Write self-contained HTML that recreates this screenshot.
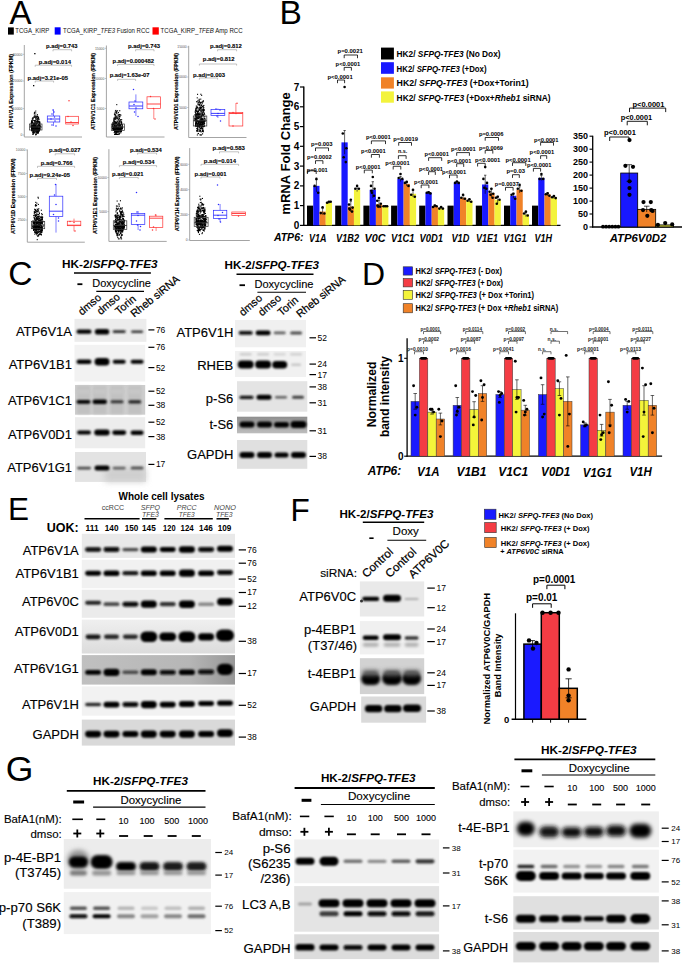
<!DOCTYPE html>
<html><head><meta charset="utf-8"><style>
html,body{margin:0;padding:0;background:#fff;}
body{width:685px;height:964px;overflow:hidden;}
svg{display:block;font-family:"Liberation Sans", sans-serif;}
</style></head><body>
<svg width="685" height="964" viewBox="0 0 685 964">
<defs><filter id="b3" x="-50%" y="-150%" width="200%" height="400%"><feGaussianBlur stdDeviation="0.3"/></filter><filter id="b4" x="-50%" y="-150%" width="200%" height="400%"><feGaussianBlur stdDeviation="0.4"/></filter><filter id="b5" x="-50%" y="-150%" width="200%" height="400%"><feGaussianBlur stdDeviation="0.5"/></filter><filter id="b6" x="-50%" y="-150%" width="200%" height="400%"><feGaussianBlur stdDeviation="0.6"/></filter><filter id="b7" x="-50%" y="-150%" width="200%" height="400%"><feGaussianBlur stdDeviation="0.7"/></filter><filter id="b8" x="-50%" y="-150%" width="200%" height="400%"><feGaussianBlur stdDeviation="0.8"/></filter><filter id="b9" x="-50%" y="-150%" width="200%" height="400%"><feGaussianBlur stdDeviation="0.9"/></filter><filter id="b10" x="-50%" y="-150%" width="200%" height="400%"><feGaussianBlur stdDeviation="1.0"/></filter><filter id="b11" x="-50%" y="-150%" width="200%" height="400%"><feGaussianBlur stdDeviation="1.1"/></filter><filter id="b12" x="-50%" y="-150%" width="200%" height="400%"><feGaussianBlur stdDeviation="1.2"/></filter><filter id="b13" x="-50%" y="-150%" width="200%" height="400%"><feGaussianBlur stdDeviation="1.3"/></filter><filter id="b14" x="-50%" y="-150%" width="200%" height="400%"><feGaussianBlur stdDeviation="1.4"/></filter><filter id="b15" x="-50%" y="-150%" width="200%" height="400%"><feGaussianBlur stdDeviation="1.5"/></filter><filter id="b16" x="-50%" y="-150%" width="200%" height="400%"><feGaussianBlur stdDeviation="1.6"/></filter><filter id="b17" x="-50%" y="-150%" width="200%" height="400%"><feGaussianBlur stdDeviation="1.7"/></filter><filter id="b18" x="-50%" y="-150%" width="200%" height="400%"><feGaussianBlur stdDeviation="1.8"/></filter><filter id="b19" x="-50%" y="-150%" width="200%" height="400%"><feGaussianBlur stdDeviation="1.9"/></filter><filter id="b20" x="-50%" y="-150%" width="200%" height="400%"><feGaussianBlur stdDeviation="2.0"/></filter><filter id="b21" x="-50%" y="-150%" width="200%" height="400%"><feGaussianBlur stdDeviation="2.1"/></filter><filter id="b22" x="-50%" y="-150%" width="200%" height="400%"><feGaussianBlur stdDeviation="2.2"/></filter><filter id="b23" x="-50%" y="-150%" width="200%" height="400%"><feGaussianBlur stdDeviation="2.3"/></filter><filter id="b24" x="-50%" y="-150%" width="200%" height="400%"><feGaussianBlur stdDeviation="2.4"/></filter><filter id="b25" x="-50%" y="-150%" width="200%" height="400%"><feGaussianBlur stdDeviation="2.5"/></filter><filter id="b26" x="-50%" y="-150%" width="200%" height="400%"><feGaussianBlur stdDeviation="2.6"/></filter><filter id="b27" x="-50%" y="-150%" width="200%" height="400%"><feGaussianBlur stdDeviation="2.7"/></filter><filter id="b28" x="-50%" y="-150%" width="200%" height="400%"><feGaussianBlur stdDeviation="2.8"/></filter><filter id="b29" x="-50%" y="-150%" width="200%" height="400%"><feGaussianBlur stdDeviation="2.9"/></filter><filter id="b30" x="-50%" y="-150%" width="200%" height="400%"><feGaussianBlur stdDeviation="3.0"/></filter><filter id="b31" x="-50%" y="-150%" width="200%" height="400%"><feGaussianBlur stdDeviation="3.1"/></filter><filter id="b32" x="-50%" y="-150%" width="200%" height="400%"><feGaussianBlur stdDeviation="3.2"/></filter><filter id="b33" x="-50%" y="-150%" width="200%" height="400%"><feGaussianBlur stdDeviation="3.3"/></filter><filter id="b34" x="-50%" y="-150%" width="200%" height="400%"><feGaussianBlur stdDeviation="3.4"/></filter><filter id="b35" x="-50%" y="-150%" width="200%" height="400%"><feGaussianBlur stdDeviation="3.5"/></filter><filter id="b36" x="-50%" y="-150%" width="200%" height="400%"><feGaussianBlur stdDeviation="3.6"/></filter><filter id="b37" x="-50%" y="-150%" width="200%" height="400%"><feGaussianBlur stdDeviation="3.7"/></filter><filter id="b38" x="-50%" y="-150%" width="200%" height="400%"><feGaussianBlur stdDeviation="3.8"/></filter><filter id="b39" x="-50%" y="-150%" width="200%" height="400%"><feGaussianBlur stdDeviation="3.9"/></filter></defs>
<rect width="685" height="964" fill="#fff"/>
<text x="9.5" y="23.7" font-size="33" fill="#000">A</text>
<text x="279.4" y="24.1" font-size="33.5" fill="#000">B</text>
<text x="8.2" y="285.0" font-size="33.5" fill="#000">C</text>
<text x="362.0" y="284.5" font-size="32" fill="#000">D</text>
<text x="8.0" y="519.8" font-size="31.5" fill="#000">E</text>
<text x="290.5" y="521.2" font-size="31.5" fill="#000">F</text>
<text x="5.8" y="781.2" font-size="35.5" fill="#000">G</text>
<rect x="8.00" y="27.40" width="5.80" height="7.20" fill="#000"/>
<text x="15.3" y="33.3" font-size="6.6" textLength="34.0" lengthAdjust="spacingAndGlyphs" fill="#111">TCGA_KIRP</text>
<rect x="54.70" y="27.30" width="5.90" height="7.30" fill="#0000ff"/>
<text x="63.1" y="33.3" font-size="6.6" textLength="86.5" lengthAdjust="spacingAndGlyphs" fill="#111">TCGA_KIRP_<tspan font-style="italic">TFE3</tspan> Fusion RCC</text>
<rect x="152.50" y="27.30" width="6.30" height="7.30" fill="#ff0000"/>
<text x="160.6" y="33.3" font-size="6.6" textLength="82.0" lengthAdjust="spacingAndGlyphs" fill="#111">TCGA_KIRP_<tspan font-style="italic">TFEB</tspan> Amp RCC</text>
<line x1="24.3" y1="45.0" x2="24.3" y2="137.0" stroke="#9a9a9a" stroke-width="0.9"/>
<line x1="24.3" y1="137.0" x2="82.0" y2="137.0" stroke="#9a9a9a" stroke-width="0.9"/>
<line x1="22.8" y1="54.3" x2="24.3" y2="54.3" stroke="#9a9a9a" stroke-width="0.6"/>
<text x="22.3" y="55.5" font-size="3.4" text-anchor="end" fill="#555">30000</text>
<line x1="22.8" y1="81.0" x2="24.3" y2="81.0" stroke="#9a9a9a" stroke-width="0.6"/>
<text x="22.3" y="82.2" font-size="3.4" text-anchor="end" fill="#555">20000</text>
<line x1="22.8" y1="108.6" x2="24.3" y2="108.6" stroke="#9a9a9a" stroke-width="0.6"/>
<text x="22.3" y="109.8" font-size="3.4" text-anchor="end" fill="#555">10000</text>
<line x1="22.8" y1="135.0" x2="24.3" y2="135.0" stroke="#9a9a9a" stroke-width="0.6"/>
<text x="22.3" y="136.2" font-size="3.4" text-anchor="end" fill="#555">0</text>
<text transform="translate(11.0,91.5) rotate(-90)" x="0" y="1.9" font-size="5.6" font-weight="bold" text-anchor="middle" textLength="75.0" lengthAdjust="spacingAndGlyphs" fill="#000" stroke="#000" stroke-width="0.12">ATP6V1A Expression (FPKM)</text>
<text x="46.0" y="48.1" font-size="6.2" font-weight="bold" textLength="31.5" lengthAdjust="spacingAndGlyphs" fill="#000" stroke="#000" stroke-width="0.1">p.adj=0.743</text>
<path d="M53.0,51.3 V49.7 H71.6 V51.3" stroke="#999" stroke-width="0.6" fill="none"/>
<text x="38.8" y="63.6" font-size="6.2" font-weight="bold" textLength="32.2" lengthAdjust="spacingAndGlyphs" fill="#000" stroke="#000" stroke-width="0.1">p.adj=0.014</text>
<path d="M35.2,66.8 V65.2 H71.6 V66.8" stroke="#999" stroke-width="0.6" fill="none"/>
<text x="27.6" y="79.9" font-size="6.2" font-weight="bold" textLength="40.4" lengthAdjust="spacingAndGlyphs" fill="#000" stroke="#000" stroke-width="0.1">p.adj=3.21e-05</text>
<path d="M35.2,82.6 V81.0 H53.6 V82.6" stroke="#999" stroke-width="0.6" fill="none"/>
<rect x="36.4" y="125.0" width="1.1" height="1.1" fill="#000"/>
<rect x="31.2" y="128.1" width="1.1" height="1.1" fill="#000"/>
<rect x="31.4" y="121.3" width="1.1" height="1.1" fill="#000"/>
<rect x="35.1" y="125.3" width="1.1" height="1.1" fill="#000"/>
<rect x="31.6" y="129.9" width="1.1" height="1.1" fill="#000"/>
<rect x="31.3" y="127.3" width="1.1" height="1.1" fill="#000"/>
<rect x="32.5" y="117.3" width="1.1" height="1.1" fill="#000"/>
<rect x="32.7" y="129.3" width="1.1" height="1.1" fill="#000"/>
<rect x="35.6" y="117.1" width="1.1" height="1.1" fill="#000"/>
<rect x="34.4" y="116.9" width="1.1" height="1.1" fill="#000"/>
<rect x="38.3" y="127.5" width="1.1" height="1.1" fill="#000"/>
<rect x="33.1" y="126.2" width="1.1" height="1.1" fill="#000"/>
<rect x="33.3" y="127.5" width="1.1" height="1.1" fill="#000"/>
<rect x="37.9" y="127.8" width="1.1" height="1.1" fill="#000"/>
<rect x="36.3" y="128.3" width="1.1" height="1.1" fill="#000"/>
<rect x="34.1" y="130.4" width="1.1" height="1.1" fill="#000"/>
<rect x="31.1" y="124.6" width="1.1" height="1.1" fill="#000"/>
<rect x="32.3" y="125.9" width="1.1" height="1.1" fill="#000"/>
<rect x="33.4" y="124.0" width="1.1" height="1.1" fill="#000"/>
<rect x="35.8" y="121.2" width="1.1" height="1.1" fill="#000"/>
<rect x="37.5" y="122.0" width="1.1" height="1.1" fill="#000"/>
<rect x="36.9" y="127.3" width="1.1" height="1.1" fill="#000"/>
<rect x="35.3" y="126.6" width="1.1" height="1.1" fill="#000"/>
<rect x="37.9" y="130.8" width="1.1" height="1.1" fill="#000"/>
<rect x="39.5" y="125.9" width="1.1" height="1.1" fill="#000"/>
<rect x="31.8" y="122.0" width="1.1" height="1.1" fill="#000"/>
<rect x="32.6" y="118.4" width="1.1" height="1.1" fill="#000"/>
<rect x="35.0" y="129.2" width="1.1" height="1.1" fill="#000"/>
<rect x="37.0" y="131.2" width="1.1" height="1.1" fill="#000"/>
<rect x="35.7" y="127.6" width="1.1" height="1.1" fill="#000"/>
<rect x="36.8" y="128.5" width="1.1" height="1.1" fill="#000"/>
<rect x="35.9" y="123.1" width="1.1" height="1.1" fill="#000"/>
<rect x="37.8" y="121.1" width="1.1" height="1.1" fill="#000"/>
<rect x="39.0" y="123.5" width="1.1" height="1.1" fill="#000"/>
<rect x="31.9" y="118.4" width="1.1" height="1.1" fill="#000"/>
<rect x="36.9" y="127.2" width="1.1" height="1.1" fill="#000"/>
<rect x="37.0" y="116.0" width="1.1" height="1.1" fill="#000"/>
<rect x="34.0" y="112.6" width="1.1" height="1.1" fill="#000"/>
<rect x="31.3" y="120.3" width="1.1" height="1.1" fill="#000"/>
<rect x="34.7" y="129.7" width="1.1" height="1.1" fill="#000"/>
<rect x="31.0" y="127.3" width="1.1" height="1.1" fill="#000"/>
<rect x="37.5" y="127.9" width="1.1" height="1.1" fill="#000"/>
<rect x="34.1" y="128.2" width="1.1" height="1.1" fill="#000"/>
<rect x="38.3" y="128.3" width="1.1" height="1.1" fill="#000"/>
<rect x="35.5" y="129.6" width="1.1" height="1.1" fill="#000"/>
<rect x="38.5" y="128.2" width="1.1" height="1.1" fill="#000"/>
<rect x="33.2" y="129.2" width="1.1" height="1.1" fill="#000"/>
<rect x="34.5" y="116.5" width="1.1" height="1.1" fill="#000"/>
<rect x="38.5" y="119.2" width="1.1" height="1.1" fill="#000"/>
<rect x="32.7" y="131.8" width="1.1" height="1.1" fill="#000"/>
<rect x="32.6" y="127.5" width="1.1" height="1.1" fill="#000"/>
<rect x="34.9" y="128.6" width="1.1" height="1.1" fill="#000"/>
<rect x="30.7" y="122.8" width="1.1" height="1.1" fill="#000"/>
<rect x="34.3" y="124.2" width="1.1" height="1.1" fill="#000"/>
<rect x="38.8" y="121.6" width="1.1" height="1.1" fill="#000"/>
<rect x="36.6" y="129.6" width="1.1" height="1.1" fill="#000"/>
<rect x="36.3" y="118.9" width="1.1" height="1.1" fill="#000"/>
<rect x="31.0" y="125.7" width="1.1" height="1.1" fill="#000"/>
<rect x="37.8" y="131.1" width="1.1" height="1.1" fill="#000"/>
<rect x="37.5" y="120.8" width="1.1" height="1.1" fill="#000"/>
<rect x="31.7" y="122.1" width="1.1" height="1.1" fill="#000"/>
<rect x="36.2" y="128.5" width="1.1" height="1.1" fill="#000"/>
<rect x="32.4" y="127.6" width="1.1" height="1.1" fill="#000"/>
<rect x="32.0" y="126.9" width="1.1" height="1.1" fill="#000"/>
<rect x="30.5" y="125.5" width="1.1" height="1.1" fill="#000"/>
<rect x="31.9" y="127.4" width="1.1" height="1.1" fill="#000"/>
<rect x="31.0" y="129.0" width="1.1" height="1.1" fill="#000"/>
<rect x="38.4" y="128.3" width="1.1" height="1.1" fill="#000"/>
<rect x="32.8" y="124.1" width="1.1" height="1.1" fill="#000"/>
<rect x="33.7" y="124.4" width="1.1" height="1.1" fill="#000"/>
<rect x="38.2" y="124.6" width="1.1" height="1.1" fill="#000"/>
<rect x="39.5" y="127.7" width="1.1" height="1.1" fill="#000"/>
<rect x="31.8" y="120.3" width="1.1" height="1.1" fill="#000"/>
<rect x="31.4" y="127.3" width="1.1" height="1.1" fill="#000"/>
<rect x="38.0" y="124.1" width="1.1" height="1.1" fill="#000"/>
<rect x="32.1" y="128.6" width="1.1" height="1.1" fill="#000"/>
<rect x="35.2" y="133.9" width="1.1" height="1.1" fill="#000"/>
<rect x="31.9" y="127.6" width="1.1" height="1.1" fill="#000"/>
<rect x="35.3" y="125.2" width="1.1" height="1.1" fill="#000"/>
<rect x="39.5" y="126.1" width="1.1" height="1.1" fill="#000"/>
<rect x="33.1" y="129.8" width="1.1" height="1.1" fill="#000"/>
<rect x="34.0" y="120.0" width="1.1" height="1.1" fill="#000"/>
<rect x="35.3" y="129.3" width="1.1" height="1.1" fill="#000"/>
<rect x="37.0" y="131.4" width="1.1" height="1.1" fill="#000"/>
<rect x="37.9" y="124.6" width="1.1" height="1.1" fill="#000"/>
<rect x="39.3" y="128.5" width="1.1" height="1.1" fill="#000"/>
<rect x="37.6" y="130.0" width="1.1" height="1.1" fill="#000"/>
<rect x="36.8" y="118.5" width="1.1" height="1.1" fill="#000"/>
<rect x="33.7" y="127.0" width="1.1" height="1.1" fill="#000"/>
<rect x="31.4" y="130.4" width="1.1" height="1.1" fill="#000"/>
<rect x="33.0" y="129.1" width="1.1" height="1.1" fill="#000"/>
<rect x="36.8" y="126.9" width="1.1" height="1.1" fill="#000"/>
<rect x="38.6" y="129.9" width="1.1" height="1.1" fill="#000"/>
<rect x="39.5" y="124.8" width="1.1" height="1.1" fill="#000"/>
<rect x="32.7" y="129.5" width="1.1" height="1.1" fill="#000"/>
<rect x="32.6" y="125.0" width="1.1" height="1.1" fill="#000"/>
<rect x="36.2" y="127.2" width="1.1" height="1.1" fill="#000"/>
<rect x="38.5" y="128.6" width="1.1" height="1.1" fill="#000"/>
<rect x="36.4" y="128.5" width="1.1" height="1.1" fill="#000"/>
<rect x="37.5" y="121.2" width="1.1" height="1.1" fill="#000"/>
<rect x="38.2" y="130.6" width="1.1" height="1.1" fill="#000"/>
<rect x="37.5" y="128.9" width="1.1" height="1.1" fill="#000"/>
<rect x="32.1" y="126.5" width="1.1" height="1.1" fill="#000"/>
<rect x="37.3" y="120.2" width="1.1" height="1.1" fill="#000"/>
<rect x="39.0" y="121.6" width="1.1" height="1.1" fill="#000"/>
<rect x="34.3" y="131.6" width="1.1" height="1.1" fill="#000"/>
<rect x="36.4" y="115.6" width="1.1" height="1.1" fill="#000"/>
<rect x="32.6" y="131.1" width="1.1" height="1.1" fill="#000"/>
<rect x="38.7" y="127.8" width="1.1" height="1.1" fill="#000"/>
<rect x="37.8" y="127.8" width="1.1" height="1.1" fill="#000"/>
<rect x="38.8" y="130.2" width="1.1" height="1.1" fill="#000"/>
<rect x="36.2" y="131.4" width="1.1" height="1.1" fill="#000"/>
<rect x="31.9" y="122.4" width="1.1" height="1.1" fill="#000"/>
<rect x="31.1" y="129.8" width="1.1" height="1.1" fill="#000"/>
<rect x="35.2" y="131.1" width="1.1" height="1.1" fill="#000"/>
<rect x="39.0" y="125.0" width="1.1" height="1.1" fill="#000"/>
<rect x="37.1" y="116.3" width="1.1" height="1.1" fill="#000"/>
<rect x="32.6" y="129.2" width="1.1" height="1.1" fill="#000"/>
<rect x="32.7" y="126.4" width="1.1" height="1.1" fill="#000"/>
<rect x="35.8" y="129.2" width="1.1" height="1.1" fill="#000"/>
<rect x="31.7" y="126.1" width="1.1" height="1.1" fill="#000"/>
<rect x="38.4" y="129.9" width="1.1" height="1.1" fill="#000"/>
<rect x="35.8" y="122.8" width="1.1" height="1.1" fill="#000"/>
<rect x="38.4" y="129.4" width="1.1" height="1.1" fill="#000"/>
<rect x="35.1" y="115.7" width="1.1" height="1.1" fill="#000"/>
<rect x="35.3" y="130.0" width="1.1" height="1.1" fill="#000"/>
<rect x="34.5" y="125.4" width="1.1" height="1.1" fill="#000"/>
<rect x="32.1" y="126.3" width="1.1" height="1.1" fill="#000"/>
<rect x="32.9" y="132.4" width="1.1" height="1.1" fill="#000"/>
<rect x="34.8" y="126.6" width="1.1" height="1.1" fill="#000"/>
<rect x="33.5" y="125.4" width="1.1" height="1.1" fill="#000"/>
<rect x="35.2" y="119.5" width="1.1" height="1.1" fill="#000"/>
<rect x="32.4" y="117.4" width="1.1" height="1.1" fill="#000"/>
<rect x="35.6" y="123.2" width="1.1" height="1.1" fill="#000"/>
<rect x="37.6" y="126.5" width="1.1" height="1.1" fill="#000"/>
<rect x="35.1" y="129.1" width="1.1" height="1.1" fill="#000"/>
<rect x="37.9" y="117.8" width="1.1" height="1.1" fill="#000"/>
<rect x="34.6" y="122.9" width="1.1" height="1.1" fill="#000"/>
<rect x="35.2" y="121.5" width="1.1" height="1.1" fill="#000"/>
<rect x="36.7" y="122.2" width="1.1" height="1.1" fill="#000"/>
<rect x="34.9" y="120.0" width="1.1" height="1.1" fill="#000"/>
<rect x="39.0" y="127.7" width="1.1" height="1.1" fill="#000"/>
<rect x="38.9" y="122.9" width="1.1" height="1.1" fill="#000"/>
<rect x="33.6" y="115.8" width="1.1" height="1.1" fill="#000"/>
<rect x="36.9" y="114.2" width="1.1" height="1.1" fill="#000"/>
<rect x="32.0" y="121.6" width="1.1" height="1.1" fill="#000"/>
<rect x="31.4" y="129.0" width="1.1" height="1.1" fill="#000"/>
<rect x="32.8" y="128.9" width="1.1" height="1.1" fill="#000"/>
<rect x="37.2" y="130.9" width="1.1" height="1.1" fill="#000"/>
<rect x="38.5" y="128.6" width="1.1" height="1.1" fill="#000"/>
<rect x="36.4" y="129.4" width="1.1" height="1.1" fill="#000"/>
<rect x="32.4" y="130.8" width="1.1" height="1.1" fill="#000"/>
<rect x="33.3" y="132.9" width="1.1" height="1.1" fill="#000"/>
<rect x="38.0" y="116.8" width="1.1" height="1.1" fill="#000"/>
<rect x="39.1" y="121.3" width="1.1" height="1.1" fill="#000"/>
<rect x="37.9" y="128.7" width="1.1" height="1.1" fill="#000"/>
<rect x="35.2" y="128.3" width="1.1" height="1.1" fill="#000"/>
<rect x="33.7" y="129.4" width="1.1" height="1.1" fill="#000"/>
<rect x="37.1" y="127.4" width="1.1" height="1.1" fill="#000"/>
<rect x="31.0" y="129.2" width="1.1" height="1.1" fill="#000"/>
<rect x="31.1" y="120.9" width="1.1" height="1.1" fill="#000"/>
<rect x="33.5" y="124.5" width="1.1" height="1.1" fill="#000"/>
<rect x="31.4" y="121.8" width="1.1" height="1.1" fill="#000"/>
<rect x="39.1" y="121.8" width="1.1" height="1.1" fill="#000"/>
<rect x="31.6" y="128.6" width="1.1" height="1.1" fill="#000"/>
<rect x="33.9" y="112.2" width="1.1" height="1.1" fill="#000"/>
<rect x="33.5" y="132.0" width="1.1" height="1.1" fill="#000"/>
<rect x="31.7" y="127.9" width="1.1" height="1.1" fill="#000"/>
<rect x="37.0" y="115.8" width="1.1" height="1.1" fill="#000"/>
<rect x="33.1" y="129.9" width="1.1" height="1.1" fill="#000"/>
<rect x="35.6" y="130.8" width="1.1" height="1.1" fill="#000"/>
<rect x="36.3" y="132.4" width="1.1" height="1.1" fill="#000"/>
<rect x="36.8" y="127.4" width="1.1" height="1.1" fill="#000"/>
<rect x="34.4" y="127.1" width="1.1" height="1.1" fill="#000"/>
<rect x="35.8" y="133.4" width="1.1" height="1.1" fill="#000"/>
<rect x="37.5" y="129.9" width="1.1" height="1.1" fill="#000"/>
<rect x="32.2" y="132.1" width="1.1" height="1.1" fill="#000"/>
<rect x="38.0" y="129.7" width="1.1" height="1.1" fill="#000"/>
<rect x="35.5" y="121.7" width="1.1" height="1.1" fill="#000"/>
<rect x="38.9" y="127.3" width="1.1" height="1.1" fill="#000"/>
<rect x="35.3" y="126.1" width="1.1" height="1.1" fill="#000"/>
<rect x="32.7" y="128.2" width="1.1" height="1.1" fill="#000"/>
<rect x="31.0" y="128.0" width="1.1" height="1.1" fill="#000"/>
<rect x="32.4" y="127.7" width="1.1" height="1.1" fill="#000"/>
<rect x="37.4" y="124.7" width="1.1" height="1.1" fill="#000"/>
<rect x="33.3" y="129.1" width="1.1" height="1.1" fill="#000"/>
<rect x="33.7" y="123.0" width="1.1" height="1.1" fill="#000"/>
<rect x="30.6" y="126.4" width="1.1" height="1.1" fill="#000"/>
<rect x="37.2" y="126.4" width="1.1" height="1.1" fill="#000"/>
<rect x="35.5" y="127.0" width="1.1" height="1.1" fill="#000"/>
<rect x="39.0" y="127.8" width="1.1" height="1.1" fill="#000"/>
<rect x="31.9" y="129.9" width="1.1" height="1.1" fill="#000"/>
<rect x="35.0" y="127.9" width="1.1" height="1.1" fill="#000"/>
<rect x="37.8" y="121.1" width="1.1" height="1.1" fill="#000"/>
<rect x="36.6" y="121.3" width="1.1" height="1.1" fill="#000"/>
<rect x="39.2" y="128.9" width="1.1" height="1.1" fill="#000"/>
<rect x="36.7" y="120.7" width="1.1" height="1.1" fill="#000"/>
<rect x="36.0" y="131.7" width="1.1" height="1.1" fill="#000"/>
<rect x="31.2" y="122.3" width="1.1" height="1.1" fill="#000"/>
<rect x="31.8" y="128.2" width="1.1" height="1.1" fill="#000"/>
<rect x="33.3" y="131.3" width="1.1" height="1.1" fill="#000"/>
<rect x="32.1" y="128.8" width="1.1" height="1.1" fill="#000"/>
<rect x="37.5" y="131.9" width="1.1" height="1.1" fill="#000"/>
<rect x="36.4" y="129.7" width="1.1" height="1.1" fill="#000"/>
<rect x="33.2" y="125.6" width="1.1" height="1.1" fill="#000"/>
<rect x="34.7" y="128.9" width="1.1" height="1.1" fill="#000"/>
<rect x="33.0" y="128.4" width="1.1" height="1.1" fill="#000"/>
<rect x="38.9" y="129.4" width="1.1" height="1.1" fill="#000"/>
<rect x="33.1" y="130.5" width="1.1" height="1.1" fill="#000"/>
<rect x="39.3" y="125.3" width="1.1" height="1.1" fill="#000"/>
<rect x="30.5" y="124.6" width="1.1" height="1.1" fill="#000"/>
<rect x="34.1" y="129.3" width="1.1" height="1.1" fill="#000"/>
<rect x="32.7" y="120.0" width="1.1" height="1.1" fill="#000"/>
<rect x="35.1" y="127.1" width="1.1" height="1.1" fill="#000"/>
<rect x="31.6" y="129.0" width="1.1" height="1.1" fill="#000"/>
<rect x="34.1" y="126.5" width="1.1" height="1.1" fill="#000"/>
<rect x="33.3" y="127.1" width="1.1" height="1.1" fill="#000"/>
<rect x="32.6" y="126.6" width="1.1" height="1.1" fill="#000"/>
<rect x="37.1" y="120.7" width="1.1" height="1.1" fill="#000"/>
<rect x="36.4" y="123.0" width="1.1" height="1.1" fill="#000"/>
<rect x="34.1" y="124.1" width="1.1" height="1.1" fill="#000"/>
<rect x="34.0" y="115.4" width="1.1" height="1.1" fill="#000"/>
<rect x="37.0" y="128.3" width="1.1" height="1.1" fill="#000"/>
<rect x="36.4" y="126.2" width="1.1" height="1.1" fill="#000"/>
<rect x="37.5" y="132.5" width="1.1" height="1.1" fill="#000"/>
<rect x="36.2" y="128.2" width="1.1" height="1.1" fill="#000"/>
<rect x="31.7" y="125.4" width="1.1" height="1.1" fill="#000"/>
<rect x="35.2" y="116.4" width="1.1" height="1.1" fill="#000"/>
<rect x="36.9" y="116.0" width="1.1" height="1.1" fill="#000"/>
<rect x="38.1" y="126.2" width="1.1" height="1.1" fill="#000"/>
<rect x="36.2" y="116.4" width="1.1" height="1.1" fill="#000"/>
<rect x="36.6" y="120.6" width="1.1" height="1.1" fill="#000"/>
<rect x="31.7" y="126.6" width="1.1" height="1.1" fill="#000"/>
<rect x="33.8" y="127.3" width="1.1" height="1.1" fill="#000"/>
<rect x="35.5" y="131.4" width="1.1" height="1.1" fill="#000"/>
<rect x="36.0" y="130.3" width="1.1" height="1.1" fill="#000"/>
<rect x="35.0" y="120.6" width="1.1" height="1.1" fill="#000"/>
<rect x="31.1" y="120.5" width="1.1" height="1.1" fill="#000"/>
<rect x="35.1" y="128.1" width="1.1" height="1.1" fill="#000"/>
<rect x="35.3" y="117.7" width="1.1" height="1.1" fill="#000"/>
<rect x="37.2" y="125.4" width="1.1" height="1.1" fill="#000"/>
<rect x="32.8" y="124.7" width="1.1" height="1.1" fill="#000"/>
<rect x="37.0" y="128.8" width="1.1" height="1.1" fill="#000"/>
<rect x="32.4" y="127.6" width="1.1" height="1.1" fill="#000"/>
<rect x="35.0" y="125.5" width="1.1" height="1.1" fill="#000"/>
<rect x="34.5" y="111.5" width="1.1" height="1.1" fill="#000"/>
<rect x="36.9" y="118.2" width="1.1" height="1.1" fill="#000"/>
<rect x="36.1" y="127.1" width="1.1" height="1.1" fill="#000"/>
<rect x="31.8" y="125.1" width="1.1" height="1.1" fill="#000"/>
<rect x="32.8" y="124.7" width="1.1" height="1.1" fill="#000"/>
<rect x="35.7" y="126.3" width="1.1" height="1.1" fill="#000"/>
<rect x="30.9" y="121.8" width="1.1" height="1.1" fill="#000"/>
<rect x="36.5" y="128.9" width="1.1" height="1.1" fill="#000"/>
<rect x="36.8" y="127.4" width="1.1" height="1.1" fill="#000"/>
<rect x="35.2" y="124.4" width="1.1" height="1.1" fill="#000"/>
<rect x="34.7" y="122.4" width="1.1" height="1.1" fill="#000"/>
<rect x="38.6" y="123.7" width="1.1" height="1.1" fill="#000"/>
<rect x="32.3" y="126.8" width="1.1" height="1.1" fill="#000"/>
<rect x="32.5" y="133.9" width="1.1" height="1.1" fill="#000"/>
<rect x="34.7" y="124.7" width="1.1" height="1.1" fill="#000"/>
<rect x="34.7" y="130.1" width="1.1" height="1.1" fill="#000"/>
<rect x="33.8" y="113.4" width="1.1" height="1.1" fill="#000"/>
<rect x="32.5" y="128.4" width="1.1" height="1.1" fill="#000"/>
<rect x="35.5" y="133.9" width="1.1" height="1.1" fill="#000"/>
<rect x="38.9" y="129.0" width="1.1" height="1.1" fill="#000"/>
<rect x="32.0" y="129.6" width="1.1" height="1.1" fill="#000"/>
<rect x="38.5" y="128.1" width="1.1" height="1.1" fill="#000"/>
<rect x="36.7" y="120.5" width="1.1" height="1.1" fill="#000"/>
<rect x="34.9" y="127.3" width="1.1" height="1.1" fill="#000"/>
<rect x="32.3" y="133.4" width="1.1" height="1.1" fill="#000"/>
<rect x="34.7" y="130.3" width="1.1" height="1.1" fill="#000"/>
<rect x="33.2" y="126.5" width="1.1" height="1.1" fill="#000"/>
<rect x="33.4" y="128.4" width="1.1" height="1.1" fill="#000"/>
<rect x="38.0" y="128.8" width="1.1" height="1.1" fill="#000"/>
<rect x="37.3" y="132.0" width="1.1" height="1.1" fill="#000"/>
<rect x="31.6" y="126.5" width="1.1" height="1.1" fill="#000"/>
<rect x="38.0" y="131.1" width="1.1" height="1.1" fill="#000"/>
<rect x="33.2" y="122.6" width="1.1" height="1.1" fill="#000"/>
<rect x="39.4" y="122.6" width="1.1" height="1.1" fill="#000"/>
<rect x="35.8" y="128.8" width="1.1" height="1.1" fill="#000"/>
<rect x="33.1" y="122.7" width="1.1" height="1.1" fill="#000"/>
<rect x="31.2" y="129.1" width="1.1" height="1.1" fill="#000"/>
<rect x="33.5" y="131.5" width="1.1" height="1.1" fill="#000"/>
<rect x="38.5" y="130.2" width="1.1" height="1.1" fill="#000"/>
<rect x="35.2" y="126.5" width="1.1" height="1.1" fill="#000"/>
<rect x="32.4" y="129.0" width="1.1" height="1.1" fill="#000"/>
<rect x="37.6" y="116.8" width="1.1" height="1.1" fill="#000"/>
<rect x="37.1" y="132.3" width="1.1" height="1.1" fill="#000"/>
<rect x="38.2" y="118.2" width="1.1" height="1.1" fill="#000"/>
<rect x="35.4" y="117.5" width="1.1" height="1.1" fill="#000"/>
<rect x="37.2" y="126.1" width="1.1" height="1.1" fill="#000"/>
<rect x="34.6" y="124.7" width="1.1" height="1.1" fill="#000"/>
<rect x="33.1" y="126.5" width="1.1" height="1.1" fill="#000"/>
<rect x="31.8" y="118.5" width="1.1" height="1.1" fill="#000"/>
<rect x="34.8" y="128.0" width="1.1" height="1.1" fill="#000"/>
<rect x="33.6" y="125.2" width="1.1" height="1.1" fill="#000"/>
<rect x="39.3" y="123.8" width="1.1" height="1.1" fill="#000"/>
<rect x="33.4" y="131.6" width="1.1" height="1.1" fill="#000"/>
<rect x="35.6" y="123.9" width="1.1" height="1.1" fill="#000"/>
<rect x="34.1" y="122.6" width="1.1" height="1.1" fill="#000"/>
<rect x="32.4" y="127.4" width="1.1" height="1.1" fill="#000"/>
<rect x="38.7" y="128.2" width="1.1" height="1.1" fill="#000"/>
<rect x="38.6" y="122.6" width="1.1" height="1.1" fill="#000"/>
<rect x="39.6" y="126.5" width="1.1" height="1.1" fill="#000"/>
<rect x="32.3" y="123.6" width="1.1" height="1.1" fill="#000"/>
<rect x="31.3" y="127.0" width="1.1" height="1.1" fill="#000"/>
<rect x="32.7" y="125.1" width="1.1" height="1.1" fill="#000"/>
<rect x="32.9" y="127.7" width="1.1" height="1.1" fill="#000"/>
<rect x="36.6" y="116.0" width="1.1" height="1.1" fill="#000"/>
<rect x="34.3" y="121.6" width="1.1" height="1.1" fill="#000"/>
<rect x="34.1" y="120.7" width="1.1" height="1.1" fill="#000"/>
<rect x="33.6" y="128.5" width="1.1" height="1.1" fill="#000"/>
<rect x="39.1" y="128.9" width="1.1" height="1.1" fill="#000"/>
<rect x="31.6" y="127.5" width="1.1" height="1.1" fill="#000"/>
<rect x="37.7" y="118.7" width="1.1" height="1.1" fill="#000"/>
<rect x="32.4" y="126.3" width="1.1" height="1.1" fill="#000"/>
<rect x="34.1" y="125.9" width="1.1" height="1.1" fill="#000"/>
<rect x="34.6" y="128.9" width="1.1" height="1.1" fill="#000"/>
<rect x="37.4" y="132.6" width="1.1" height="1.1" fill="#000"/>
<rect x="30.8" y="123.4" width="1.1" height="1.1" fill="#000"/>
<rect x="37.8" y="131.5" width="1.1" height="1.1" fill="#000"/>
<rect x="34.8" y="127.5" width="1.1" height="1.1" fill="#000"/>
<rect x="34.1" y="126.4" width="1.1" height="1.1" fill="#000"/>
<rect x="39.0" y="126.4" width="1.1" height="1.1" fill="#000"/>
<rect x="39.0" y="129.4" width="1.1" height="1.1" fill="#000"/>
<rect x="33.4" y="116.8" width="1.1" height="1.1" fill="#000"/>
<rect x="35.3" y="127.9" width="1.1" height="1.1" fill="#000"/>
<rect x="36.7" y="127.7" width="1.1" height="1.1" fill="#000"/>
<rect x="36.1" y="131.4" width="1.1" height="1.1" fill="#000"/>
<rect x="37.4" y="123.3" width="1.1" height="1.1" fill="#000"/>
<line x1="35.8" y1="110.0" x2="35.8" y2="124.0" stroke="#333" stroke-width="0.6"/>
<line x1="35.8" y1="130.0" x2="35.8" y2="136.0" stroke="#333" stroke-width="0.6"/>
<rect x="29.60" y="124.00" width="12.40" height="6.00" fill="none" stroke="#333" stroke-width="0.7"/>
<line x1="29.6" y1="127.0" x2="42.0" y2="127.0" stroke="#333" stroke-width="0.9"/>
<line x1="53.5" y1="109.5" x2="53.5" y2="116.0" stroke="#2a2aff" stroke-width="0.6"/>
<line x1="53.5" y1="122.0" x2="53.5" y2="126.0" stroke="#2a2aff" stroke-width="0.6"/>
<rect x="47.30" y="116.00" width="12.50" height="6.00" fill="none" stroke="#2a2aff" stroke-width="0.7"/>
<line x1="47.3" y1="119.0" x2="59.8" y2="119.0" stroke="#2a2aff" stroke-width="0.9"/>
<circle cx="53.0" cy="110.0" r="0.75" fill="#2a2aff"/>
<circle cx="54.0" cy="112.0" r="0.75" fill="#2a2aff"/>
<circle cx="52.0" cy="114.0" r="0.75" fill="#2a2aff"/>
<circle cx="54.5" cy="117.0" r="0.75" fill="#2a2aff"/>
<circle cx="51.0" cy="119.0" r="0.75" fill="#2a2aff"/>
<circle cx="55.0" cy="121.0" r="0.75" fill="#2a2aff"/>
<circle cx="52.0" cy="125.0" r="0.75" fill="#2a2aff"/>
<circle cx="56.0" cy="126.0" r="0.75" fill="#2a2aff"/>
<rect x="65.70" y="116.30" width="12.90" height="7.70" fill="none" stroke="#ff3030" stroke-width="0.7"/>
<line x1="65.7" y1="122.5" x2="78.6" y2="122.5" stroke="#ff3030" stroke-width="0.9"/>
<circle cx="69.0" cy="100.7" r="0.75" fill="#ff3030"/>
<circle cx="68.0" cy="116.5" r="0.75" fill="#ff3030"/>
<circle cx="71.0" cy="122.0" r="0.75" fill="#ff3030"/>
<circle cx="73.0" cy="125.5" r="0.75" fill="#ff3030"/>
<rect x="34.2" y="53" width="1.3" height="1.3" fill="#000"/><rect x="33" y="85" width="1.3" height="1.3" fill="#000"/>
<line x1="106.4" y1="45.5" x2="106.4" y2="137.0" stroke="#9a9a9a" stroke-width="0.9"/>
<line x1="106.4" y1="137.0" x2="164.5" y2="137.0" stroke="#9a9a9a" stroke-width="0.9"/>
<line x1="104.9" y1="48.3" x2="106.4" y2="48.3" stroke="#9a9a9a" stroke-width="0.6"/>
<text x="104.4" y="49.5" font-size="3.4" text-anchor="end" fill="#555">15000</text>
<line x1="104.9" y1="78.5" x2="106.4" y2="78.5" stroke="#9a9a9a" stroke-width="0.6"/>
<text x="104.4" y="79.7" font-size="3.4" text-anchor="end" fill="#555">10000</text>
<line x1="104.9" y1="108.5" x2="106.4" y2="108.5" stroke="#9a9a9a" stroke-width="0.6"/>
<text x="104.4" y="109.7" font-size="3.4" text-anchor="end" fill="#555">5000</text>
<text transform="translate(93.0,91.5) rotate(-90)" x="0" y="1.9" font-size="5.6" font-weight="bold" text-anchor="middle" textLength="77.0" lengthAdjust="spacingAndGlyphs" fill="#000" stroke="#000" stroke-width="0.12">ATP6V1C1 Expression (FPKM)</text>
<text x="128.0" y="48.1" font-size="6.2" font-weight="bold" textLength="32.0" lengthAdjust="spacingAndGlyphs" fill="#000" stroke="#000" stroke-width="0.1">p.adj=0.743</text>
<path d="M135.6,51.3 V49.7 H154.0 V51.3" stroke="#999" stroke-width="0.6" fill="none"/>
<text x="112.6" y="62.6" font-size="6.2" font-weight="bold" textLength="41.4" lengthAdjust="spacingAndGlyphs" fill="#000" stroke="#000" stroke-width="0.1">p.adj=0.000482</text>
<path d="M117.6,66.0 V64.4 H154.0 V66.0" stroke="#999" stroke-width="0.6" fill="none"/>
<text x="109.7" y="77.1" font-size="6.2" font-weight="bold" textLength="39.9" lengthAdjust="spacingAndGlyphs" fill="#000" stroke="#000" stroke-width="0.1">p.adj=1.63e-07</text>
<path d="M117.6,80.9 V79.3 H135.6 V80.9" stroke="#999" stroke-width="0.6" fill="none"/>
<rect x="113.1" y="118.5" width="1.1" height="1.1" fill="#000"/>
<rect x="119.7" y="127.6" width="1.1" height="1.1" fill="#000"/>
<rect x="118.4" y="127.3" width="1.1" height="1.1" fill="#000"/>
<rect x="115.8" y="133.9" width="1.1" height="1.1" fill="#000"/>
<rect x="118.3" y="128.3" width="1.1" height="1.1" fill="#000"/>
<rect x="118.9" y="128.4" width="1.1" height="1.1" fill="#000"/>
<rect x="117.2" y="127.5" width="1.1" height="1.1" fill="#000"/>
<rect x="117.8" y="127.3" width="1.1" height="1.1" fill="#000"/>
<rect x="117.9" y="122.9" width="1.1" height="1.1" fill="#000"/>
<rect x="112.2" y="128.1" width="1.1" height="1.1" fill="#000"/>
<rect x="121.5" y="124.2" width="1.1" height="1.1" fill="#000"/>
<rect x="118.2" y="130.1" width="1.1" height="1.1" fill="#000"/>
<rect x="114.5" y="129.4" width="1.1" height="1.1" fill="#000"/>
<rect x="114.6" y="121.5" width="1.1" height="1.1" fill="#000"/>
<rect x="115.5" y="131.7" width="1.1" height="1.1" fill="#000"/>
<rect x="112.3" y="124.0" width="1.1" height="1.1" fill="#000"/>
<rect x="116.3" y="116.7" width="1.1" height="1.1" fill="#000"/>
<rect x="114.5" y="126.5" width="1.1" height="1.1" fill="#000"/>
<rect x="114.6" y="119.1" width="1.1" height="1.1" fill="#000"/>
<rect x="113.9" y="113.6" width="1.1" height="1.1" fill="#000"/>
<rect x="118.7" y="122.9" width="1.1" height="1.1" fill="#000"/>
<rect x="114.2" y="129.6" width="1.1" height="1.1" fill="#000"/>
<rect x="117.0" y="128.1" width="1.1" height="1.1" fill="#000"/>
<rect x="114.7" y="116.3" width="1.1" height="1.1" fill="#000"/>
<rect x="119.9" y="129.4" width="1.1" height="1.1" fill="#000"/>
<rect x="114.3" y="125.4" width="1.1" height="1.1" fill="#000"/>
<rect x="114.9" y="127.5" width="1.1" height="1.1" fill="#000"/>
<rect x="120.2" y="132.3" width="1.1" height="1.1" fill="#000"/>
<rect x="114.3" y="122.3" width="1.1" height="1.1" fill="#000"/>
<rect x="116.1" y="126.5" width="1.1" height="1.1" fill="#000"/>
<rect x="114.0" y="118.4" width="1.1" height="1.1" fill="#000"/>
<rect x="116.3" y="112.8" width="1.1" height="1.1" fill="#000"/>
<rect x="113.5" y="128.6" width="1.1" height="1.1" fill="#000"/>
<rect x="114.6" y="133.9" width="1.1" height="1.1" fill="#000"/>
<rect x="120.5" y="129.7" width="1.1" height="1.1" fill="#000"/>
<rect x="120.7" y="127.7" width="1.1" height="1.1" fill="#000"/>
<rect x="121.2" y="124.0" width="1.1" height="1.1" fill="#000"/>
<rect x="116.2" y="104.1" width="1.1" height="1.1" fill="#000"/>
<rect x="119.2" y="129.7" width="1.1" height="1.1" fill="#000"/>
<rect x="114.1" y="133.9" width="1.1" height="1.1" fill="#000"/>
<rect x="115.7" y="123.2" width="1.1" height="1.1" fill="#000"/>
<rect x="115.4" y="121.0" width="1.1" height="1.1" fill="#000"/>
<rect x="114.7" y="126.6" width="1.1" height="1.1" fill="#000"/>
<rect x="115.5" y="126.7" width="1.1" height="1.1" fill="#000"/>
<rect x="121.5" y="128.2" width="1.1" height="1.1" fill="#000"/>
<rect x="114.0" y="125.5" width="1.1" height="1.1" fill="#000"/>
<rect x="119.7" y="119.0" width="1.1" height="1.1" fill="#000"/>
<rect x="116.4" y="131.5" width="1.1" height="1.1" fill="#000"/>
<rect x="115.8" y="130.2" width="1.1" height="1.1" fill="#000"/>
<rect x="121.1" y="127.7" width="1.1" height="1.1" fill="#000"/>
<rect x="120.9" y="127.6" width="1.1" height="1.1" fill="#000"/>
<rect x="112.7" y="129.6" width="1.1" height="1.1" fill="#000"/>
<rect x="119.0" y="116.4" width="1.1" height="1.1" fill="#000"/>
<rect x="112.9" y="129.9" width="1.1" height="1.1" fill="#000"/>
<rect x="121.1" y="127.7" width="1.1" height="1.1" fill="#000"/>
<rect x="114.5" y="126.7" width="1.1" height="1.1" fill="#000"/>
<rect x="115.3" y="126.2" width="1.1" height="1.1" fill="#000"/>
<rect x="115.5" y="112.5" width="1.1" height="1.1" fill="#000"/>
<rect x="115.0" y="131.1" width="1.1" height="1.1" fill="#000"/>
<rect x="119.1" y="124.1" width="1.1" height="1.1" fill="#000"/>
<rect x="112.1" y="124.3" width="1.1" height="1.1" fill="#000"/>
<rect x="119.3" y="129.0" width="1.1" height="1.1" fill="#000"/>
<rect x="120.6" y="130.7" width="1.1" height="1.1" fill="#000"/>
<rect x="112.5" y="121.8" width="1.1" height="1.1" fill="#000"/>
<rect x="121.5" y="126.9" width="1.1" height="1.1" fill="#000"/>
<rect x="120.8" y="130.4" width="1.1" height="1.1" fill="#000"/>
<rect x="116.3" y="122.7" width="1.1" height="1.1" fill="#000"/>
<rect x="116.9" y="128.2" width="1.1" height="1.1" fill="#000"/>
<rect x="119.9" y="128.5" width="1.1" height="1.1" fill="#000"/>
<rect x="119.3" y="124.6" width="1.1" height="1.1" fill="#000"/>
<rect x="117.9" y="129.1" width="1.1" height="1.1" fill="#000"/>
<rect x="115.6" y="116.4" width="1.1" height="1.1" fill="#000"/>
<rect x="119.7" y="123.8" width="1.1" height="1.1" fill="#000"/>
<rect x="113.1" y="129.5" width="1.1" height="1.1" fill="#000"/>
<rect x="114.5" y="128.4" width="1.1" height="1.1" fill="#000"/>
<rect x="113.7" y="132.0" width="1.1" height="1.1" fill="#000"/>
<rect x="115.5" y="130.8" width="1.1" height="1.1" fill="#000"/>
<rect x="121.7" y="127.4" width="1.1" height="1.1" fill="#000"/>
<rect x="115.5" y="133.9" width="1.1" height="1.1" fill="#000"/>
<rect x="114.2" y="113.5" width="1.1" height="1.1" fill="#000"/>
<rect x="118.8" y="129.8" width="1.1" height="1.1" fill="#000"/>
<rect x="116.4" y="128.8" width="1.1" height="1.1" fill="#000"/>
<rect x="118.2" y="126.8" width="1.1" height="1.1" fill="#000"/>
<rect x="118.5" y="130.1" width="1.1" height="1.1" fill="#000"/>
<rect x="118.6" y="126.3" width="1.1" height="1.1" fill="#000"/>
<rect x="114.4" y="113.9" width="1.1" height="1.1" fill="#000"/>
<rect x="117.6" y="128.0" width="1.1" height="1.1" fill="#000"/>
<rect x="115.8" y="121.9" width="1.1" height="1.1" fill="#000"/>
<rect x="114.4" y="126.1" width="1.1" height="1.1" fill="#000"/>
<rect x="114.5" y="122.1" width="1.1" height="1.1" fill="#000"/>
<rect x="117.6" y="130.6" width="1.1" height="1.1" fill="#000"/>
<rect x="115.7" y="132.4" width="1.1" height="1.1" fill="#000"/>
<rect x="117.0" y="110.3" width="1.1" height="1.1" fill="#000"/>
<rect x="115.1" y="133.1" width="1.1" height="1.1" fill="#000"/>
<rect x="121.7" y="128.3" width="1.1" height="1.1" fill="#000"/>
<rect x="113.8" y="117.6" width="1.1" height="1.1" fill="#000"/>
<rect x="119.3" y="114.6" width="1.1" height="1.1" fill="#000"/>
<rect x="121.0" y="127.5" width="1.1" height="1.1" fill="#000"/>
<rect x="113.4" y="129.3" width="1.1" height="1.1" fill="#000"/>
<rect x="113.9" y="127.2" width="1.1" height="1.1" fill="#000"/>
<rect x="120.5" y="131.0" width="1.1" height="1.1" fill="#000"/>
<rect x="115.7" y="125.0" width="1.1" height="1.1" fill="#000"/>
<rect x="114.7" y="129.0" width="1.1" height="1.1" fill="#000"/>
<rect x="119.5" y="121.2" width="1.1" height="1.1" fill="#000"/>
<rect x="117.9" y="128.0" width="1.1" height="1.1" fill="#000"/>
<rect x="118.1" y="125.4" width="1.1" height="1.1" fill="#000"/>
<rect x="113.4" y="127.1" width="1.1" height="1.1" fill="#000"/>
<rect x="114.3" y="129.7" width="1.1" height="1.1" fill="#000"/>
<rect x="118.5" y="126.2" width="1.1" height="1.1" fill="#000"/>
<rect x="114.6" y="131.2" width="1.1" height="1.1" fill="#000"/>
<rect x="118.6" y="129.6" width="1.1" height="1.1" fill="#000"/>
<rect x="113.8" y="126.7" width="1.1" height="1.1" fill="#000"/>
<rect x="119.9" y="124.8" width="1.1" height="1.1" fill="#000"/>
<rect x="117.4" y="128.6" width="1.1" height="1.1" fill="#000"/>
<rect x="115.9" y="127.9" width="1.1" height="1.1" fill="#000"/>
<rect x="117.4" y="127.1" width="1.1" height="1.1" fill="#000"/>
<rect x="113.6" y="124.6" width="1.1" height="1.1" fill="#000"/>
<rect x="118.9" y="124.3" width="1.1" height="1.1" fill="#000"/>
<rect x="115.1" y="122.0" width="1.1" height="1.1" fill="#000"/>
<rect x="121.4" y="128.0" width="1.1" height="1.1" fill="#000"/>
<rect x="115.6" y="123.2" width="1.1" height="1.1" fill="#000"/>
<rect x="116.2" y="130.6" width="1.1" height="1.1" fill="#000"/>
<rect x="116.1" y="133.9" width="1.1" height="1.1" fill="#000"/>
<rect x="115.3" y="109.9" width="1.1" height="1.1" fill="#000"/>
<rect x="112.0" y="125.8" width="1.1" height="1.1" fill="#000"/>
<rect x="120.7" y="122.1" width="1.1" height="1.1" fill="#000"/>
<rect x="116.3" y="115.8" width="1.1" height="1.1" fill="#000"/>
<rect x="120.4" y="129.4" width="1.1" height="1.1" fill="#000"/>
<rect x="112.3" y="122.7" width="1.1" height="1.1" fill="#000"/>
<rect x="117.5" y="127.0" width="1.1" height="1.1" fill="#000"/>
<rect x="113.7" y="117.4" width="1.1" height="1.1" fill="#000"/>
<rect x="117.8" y="115.4" width="1.1" height="1.1" fill="#000"/>
<rect x="113.7" y="121.1" width="1.1" height="1.1" fill="#000"/>
<rect x="115.0" y="129.5" width="1.1" height="1.1" fill="#000"/>
<rect x="114.6" y="111.8" width="1.1" height="1.1" fill="#000"/>
<rect x="116.9" y="124.5" width="1.1" height="1.1" fill="#000"/>
<rect x="114.2" y="129.5" width="1.1" height="1.1" fill="#000"/>
<rect x="114.9" y="110.5" width="1.1" height="1.1" fill="#000"/>
<rect x="116.9" y="133.9" width="1.1" height="1.1" fill="#000"/>
<rect x="113.0" y="120.3" width="1.1" height="1.1" fill="#000"/>
<rect x="120.6" y="129.6" width="1.1" height="1.1" fill="#000"/>
<rect x="118.1" y="123.6" width="1.1" height="1.1" fill="#000"/>
<rect x="119.8" y="127.4" width="1.1" height="1.1" fill="#000"/>
<rect x="114.3" y="123.0" width="1.1" height="1.1" fill="#000"/>
<rect x="119.4" y="116.1" width="1.1" height="1.1" fill="#000"/>
<rect x="114.2" y="130.3" width="1.1" height="1.1" fill="#000"/>
<rect x="117.1" y="127.2" width="1.1" height="1.1" fill="#000"/>
<rect x="115.9" y="129.9" width="1.1" height="1.1" fill="#000"/>
<rect x="119.1" y="128.3" width="1.1" height="1.1" fill="#000"/>
<rect x="120.8" y="128.3" width="1.1" height="1.1" fill="#000"/>
<rect x="119.1" y="130.8" width="1.1" height="1.1" fill="#000"/>
<rect x="112.4" y="127.6" width="1.1" height="1.1" fill="#000"/>
<rect x="117.9" y="127.4" width="1.1" height="1.1" fill="#000"/>
<rect x="117.4" y="123.7" width="1.1" height="1.1" fill="#000"/>
<rect x="116.2" y="122.6" width="1.1" height="1.1" fill="#000"/>
<rect x="117.7" y="122.5" width="1.1" height="1.1" fill="#000"/>
<rect x="116.5" y="117.9" width="1.1" height="1.1" fill="#000"/>
<rect x="116.4" y="128.8" width="1.1" height="1.1" fill="#000"/>
<rect x="116.9" y="131.3" width="1.1" height="1.1" fill="#000"/>
<rect x="114.3" y="127.2" width="1.1" height="1.1" fill="#000"/>
<rect x="116.5" y="127.0" width="1.1" height="1.1" fill="#000"/>
<rect x="114.7" y="115.2" width="1.1" height="1.1" fill="#000"/>
<rect x="113.3" y="123.4" width="1.1" height="1.1" fill="#000"/>
<rect x="116.3" y="126.7" width="1.1" height="1.1" fill="#000"/>
<rect x="117.0" y="129.6" width="1.1" height="1.1" fill="#000"/>
<rect x="112.6" y="128.5" width="1.1" height="1.1" fill="#000"/>
<rect x="119.3" y="124.7" width="1.1" height="1.1" fill="#000"/>
<rect x="119.7" y="124.4" width="1.1" height="1.1" fill="#000"/>
<rect x="117.0" y="124.3" width="1.1" height="1.1" fill="#000"/>
<rect x="115.7" y="126.3" width="1.1" height="1.1" fill="#000"/>
<rect x="120.4" y="128.3" width="1.1" height="1.1" fill="#000"/>
<rect x="121.9" y="125.4" width="1.1" height="1.1" fill="#000"/>
<rect x="113.9" y="125.1" width="1.1" height="1.1" fill="#000"/>
<rect x="120.3" y="114.6" width="1.1" height="1.1" fill="#000"/>
<rect x="119.2" y="110.2" width="1.1" height="1.1" fill="#000"/>
<rect x="113.6" y="126.9" width="1.1" height="1.1" fill="#000"/>
<rect x="112.8" y="128.4" width="1.1" height="1.1" fill="#000"/>
<rect x="116.1" y="111.9" width="1.1" height="1.1" fill="#000"/>
<rect x="120.9" y="126.5" width="1.1" height="1.1" fill="#000"/>
<rect x="114.8" y="122.6" width="1.1" height="1.1" fill="#000"/>
<rect x="117.0" y="127.2" width="1.1" height="1.1" fill="#000"/>
<rect x="121.0" y="123.1" width="1.1" height="1.1" fill="#000"/>
<rect x="117.0" y="127.2" width="1.1" height="1.1" fill="#000"/>
<rect x="115.3" y="129.1" width="1.1" height="1.1" fill="#000"/>
<rect x="113.7" y="128.6" width="1.1" height="1.1" fill="#000"/>
<rect x="121.3" y="127.0" width="1.1" height="1.1" fill="#000"/>
<rect x="114.0" y="120.5" width="1.1" height="1.1" fill="#000"/>
<rect x="118.8" y="114.0" width="1.1" height="1.1" fill="#000"/>
<rect x="118.2" y="129.7" width="1.1" height="1.1" fill="#000"/>
<rect x="115.7" y="129.3" width="1.1" height="1.1" fill="#000"/>
<rect x="117.7" y="129.6" width="1.1" height="1.1" fill="#000"/>
<rect x="120.4" y="120.5" width="1.1" height="1.1" fill="#000"/>
<rect x="117.7" y="133.9" width="1.1" height="1.1" fill="#000"/>
<rect x="116.2" y="133.2" width="1.1" height="1.1" fill="#000"/>
<rect x="121.8" y="127.3" width="1.1" height="1.1" fill="#000"/>
<rect x="117.7" y="121.6" width="1.1" height="1.1" fill="#000"/>
<rect x="116.5" y="119.4" width="1.1" height="1.1" fill="#000"/>
<rect x="114.3" y="131.0" width="1.1" height="1.1" fill="#000"/>
<rect x="120.1" y="126.4" width="1.1" height="1.1" fill="#000"/>
<rect x="114.5" y="124.4" width="1.1" height="1.1" fill="#000"/>
<rect x="117.5" y="114.5" width="1.1" height="1.1" fill="#000"/>
<rect x="117.9" y="112.1" width="1.1" height="1.1" fill="#000"/>
<rect x="112.3" y="126.3" width="1.1" height="1.1" fill="#000"/>
<rect x="113.4" y="126.6" width="1.1" height="1.1" fill="#000"/>
<rect x="117.1" y="121.3" width="1.1" height="1.1" fill="#000"/>
<rect x="120.7" y="121.8" width="1.1" height="1.1" fill="#000"/>
<rect x="118.4" y="128.1" width="1.1" height="1.1" fill="#000"/>
<rect x="112.3" y="128.3" width="1.1" height="1.1" fill="#000"/>
<rect x="113.4" y="129.7" width="1.1" height="1.1" fill="#000"/>
<rect x="115.5" y="126.5" width="1.1" height="1.1" fill="#000"/>
<rect x="117.8" y="127.2" width="1.1" height="1.1" fill="#000"/>
<rect x="114.5" y="131.0" width="1.1" height="1.1" fill="#000"/>
<rect x="113.6" y="121.2" width="1.1" height="1.1" fill="#000"/>
<rect x="121.0" y="121.3" width="1.1" height="1.1" fill="#000"/>
<rect x="112.9" y="126.5" width="1.1" height="1.1" fill="#000"/>
<rect x="118.3" y="128.4" width="1.1" height="1.1" fill="#000"/>
<rect x="116.1" y="130.7" width="1.1" height="1.1" fill="#000"/>
<rect x="115.0" y="118.2" width="1.1" height="1.1" fill="#000"/>
<rect x="117.4" y="131.5" width="1.1" height="1.1" fill="#000"/>
<rect x="115.5" y="126.8" width="1.1" height="1.1" fill="#000"/>
<rect x="121.1" y="122.2" width="1.1" height="1.1" fill="#000"/>
<rect x="119.1" y="120.9" width="1.1" height="1.1" fill="#000"/>
<rect x="112.4" y="126.5" width="1.1" height="1.1" fill="#000"/>
<rect x="117.1" y="133.9" width="1.1" height="1.1" fill="#000"/>
<rect x="112.7" y="122.5" width="1.1" height="1.1" fill="#000"/>
<rect x="119.7" y="127.9" width="1.1" height="1.1" fill="#000"/>
<rect x="120.6" y="130.9" width="1.1" height="1.1" fill="#000"/>
<rect x="113.4" y="126.8" width="1.1" height="1.1" fill="#000"/>
<rect x="117.0" y="127.9" width="1.1" height="1.1" fill="#000"/>
<rect x="118.1" y="131.0" width="1.1" height="1.1" fill="#000"/>
<rect x="115.1" y="127.3" width="1.1" height="1.1" fill="#000"/>
<rect x="115.0" y="122.7" width="1.1" height="1.1" fill="#000"/>
<rect x="118.8" y="133.5" width="1.1" height="1.1" fill="#000"/>
<rect x="119.0" y="128.7" width="1.1" height="1.1" fill="#000"/>
<rect x="118.6" y="133.2" width="1.1" height="1.1" fill="#000"/>
<rect x="116.6" y="126.7" width="1.1" height="1.1" fill="#000"/>
<rect x="114.2" y="126.1" width="1.1" height="1.1" fill="#000"/>
<rect x="113.5" y="119.3" width="1.1" height="1.1" fill="#000"/>
<rect x="115.3" y="126.6" width="1.1" height="1.1" fill="#000"/>
<rect x="119.4" y="127.4" width="1.1" height="1.1" fill="#000"/>
<rect x="119.0" y="122.2" width="1.1" height="1.1" fill="#000"/>
<rect x="115.3" y="114.6" width="1.1" height="1.1" fill="#000"/>
<rect x="119.5" y="119.9" width="1.1" height="1.1" fill="#000"/>
<rect x="117.2" y="124.1" width="1.1" height="1.1" fill="#000"/>
<rect x="121.6" y="125.6" width="1.1" height="1.1" fill="#000"/>
<rect x="114.7" y="131.4" width="1.1" height="1.1" fill="#000"/>
<rect x="114.6" y="126.9" width="1.1" height="1.1" fill="#000"/>
<rect x="114.3" y="125.7" width="1.1" height="1.1" fill="#000"/>
<rect x="119.4" y="125.8" width="1.1" height="1.1" fill="#000"/>
<rect x="116.0" y="110.8" width="1.1" height="1.1" fill="#000"/>
<rect x="114.5" y="128.7" width="1.1" height="1.1" fill="#000"/>
<rect x="120.8" y="122.5" width="1.1" height="1.1" fill="#000"/>
<rect x="118.4" y="119.6" width="1.1" height="1.1" fill="#000"/>
<rect x="121.1" y="119.1" width="1.1" height="1.1" fill="#000"/>
<rect x="118.3" y="114.2" width="1.1" height="1.1" fill="#000"/>
<rect x="120.5" y="127.7" width="1.1" height="1.1" fill="#000"/>
<rect x="117.5" y="116.8" width="1.1" height="1.1" fill="#000"/>
<rect x="115.1" y="128.6" width="1.1" height="1.1" fill="#000"/>
<rect x="112.8" y="127.6" width="1.1" height="1.1" fill="#000"/>
<rect x="120.3" y="131.2" width="1.1" height="1.1" fill="#000"/>
<rect x="113.0" y="127.0" width="1.1" height="1.1" fill="#000"/>
<rect x="121.2" y="127.1" width="1.1" height="1.1" fill="#000"/>
<rect x="112.3" y="124.4" width="1.1" height="1.1" fill="#000"/>
<rect x="112.5" y="128.1" width="1.1" height="1.1" fill="#000"/>
<rect x="118.9" y="123.2" width="1.1" height="1.1" fill="#000"/>
<rect x="118.9" y="117.8" width="1.1" height="1.1" fill="#000"/>
<rect x="115.8" y="130.7" width="1.1" height="1.1" fill="#000"/>
<rect x="120.0" y="128.3" width="1.1" height="1.1" fill="#000"/>
<rect x="113.0" y="129.6" width="1.1" height="1.1" fill="#000"/>
<rect x="119.4" y="114.0" width="1.1" height="1.1" fill="#000"/>
<rect x="114.5" y="133.7" width="1.1" height="1.1" fill="#000"/>
<rect x="114.5" y="118.4" width="1.1" height="1.1" fill="#000"/>
<rect x="120.4" y="127.2" width="1.1" height="1.1" fill="#000"/>
<rect x="120.1" y="127.0" width="1.1" height="1.1" fill="#000"/>
<rect x="118.0" y="118.4" width="1.1" height="1.1" fill="#000"/>
<rect x="115.3" y="117.4" width="1.1" height="1.1" fill="#000"/>
<rect x="119.5" y="127.7" width="1.1" height="1.1" fill="#000"/>
<rect x="114.0" y="127.4" width="1.1" height="1.1" fill="#000"/>
<rect x="112.3" y="123.6" width="1.1" height="1.1" fill="#000"/>
<rect x="114.8" y="129.8" width="1.1" height="1.1" fill="#000"/>
<rect x="115.6" y="124.4" width="1.1" height="1.1" fill="#000"/>
<rect x="115.6" y="131.9" width="1.1" height="1.1" fill="#000"/>
<rect x="119.9" y="130.5" width="1.1" height="1.1" fill="#000"/>
<rect x="118.1" y="124.7" width="1.1" height="1.1" fill="#000"/>
<rect x="116.4" y="130.0" width="1.1" height="1.1" fill="#000"/>
<rect x="119.7" y="127.1" width="1.1" height="1.1" fill="#000"/>
<rect x="117.3" y="120.7" width="1.1" height="1.1" fill="#000"/>
<rect x="114.6" y="130.9" width="1.1" height="1.1" fill="#000"/>
<rect x="120.1" y="127.4" width="1.1" height="1.1" fill="#000"/>
<rect x="113.7" y="124.3" width="1.1" height="1.1" fill="#000"/>
<rect x="119.4" y="128.8" width="1.1" height="1.1" fill="#000"/>
<rect x="121.7" y="126.5" width="1.1" height="1.1" fill="#000"/>
<rect x="116.9" y="130.5" width="1.1" height="1.1" fill="#000"/>
<rect x="119.9" y="126.6" width="1.1" height="1.1" fill="#000"/>
<rect x="115.5" y="128.1" width="1.1" height="1.1" fill="#000"/>
<rect x="119.8" y="130.2" width="1.1" height="1.1" fill="#000"/>
<rect x="114.8" y="125.4" width="1.1" height="1.1" fill="#000"/>
<rect x="115.3" y="133.9" width="1.1" height="1.1" fill="#000"/>
<rect x="113.1" y="124.1" width="1.1" height="1.1" fill="#000"/>
<rect x="118.1" y="119.2" width="1.1" height="1.1" fill="#000"/>
<rect x="118.4" y="131.8" width="1.1" height="1.1" fill="#000"/>
<rect x="119.6" y="129.4" width="1.1" height="1.1" fill="#000"/>
<rect x="116.0" y="122.2" width="1.1" height="1.1" fill="#000"/>
<rect x="116.0" y="122.1" width="1.1" height="1.1" fill="#000"/>
<rect x="120.8" y="127.6" width="1.1" height="1.1" fill="#000"/>
<rect x="112.2" y="124.7" width="1.1" height="1.1" fill="#000"/>
<rect x="120.9" y="127.2" width="1.1" height="1.1" fill="#000"/>
<rect x="117.0" y="129.1" width="1.1" height="1.1" fill="#000"/>
<rect x="114.9" y="116.7" width="1.1" height="1.1" fill="#000"/>
<rect x="116.6" y="131.4" width="1.1" height="1.1" fill="#000"/>
<rect x="118.8" y="115.8" width="1.1" height="1.1" fill="#000"/>
<rect x="118.4" y="124.3" width="1.1" height="1.1" fill="#000"/>
<rect x="113.6" y="123.1" width="1.1" height="1.1" fill="#000"/>
<rect x="120.2" y="129.0" width="1.1" height="1.1" fill="#000"/>
<rect x="113.9" y="120.8" width="1.1" height="1.1" fill="#000"/>
<rect x="116.5" y="117.3" width="1.1" height="1.1" fill="#000"/>
<rect x="113.2" y="127.1" width="1.1" height="1.1" fill="#000"/>
<rect x="116.6" y="118.0" width="1.1" height="1.1" fill="#000"/>
<rect x="114.0" y="128.4" width="1.1" height="1.1" fill="#000"/>
<rect x="115.0" y="123.3" width="1.1" height="1.1" fill="#000"/>
<rect x="113.6" y="122.8" width="1.1" height="1.1" fill="#000"/>
<rect x="114.6" y="114.5" width="1.1" height="1.1" fill="#000"/>
<rect x="117.2" y="126.5" width="1.1" height="1.1" fill="#000"/>
<rect x="113.9" y="129.6" width="1.1" height="1.1" fill="#000"/>
<rect x="121.6" y="124.5" width="1.1" height="1.1" fill="#000"/>
<rect x="119.1" y="128.4" width="1.1" height="1.1" fill="#000"/>
<rect x="114.4" y="133.6" width="1.1" height="1.1" fill="#000"/>
<rect x="116.1" y="131.8" width="1.1" height="1.1" fill="#000"/>
<rect x="118.6" y="132.6" width="1.1" height="1.1" fill="#000"/>
<rect x="116.3" y="125.3" width="1.1" height="1.1" fill="#000"/>
<rect x="111.30" y="124.00" width="13.10" height="6.50" fill="none" stroke="#333" stroke-width="0.7"/>
<line x1="111.3" y1="127.0" x2="124.4" y2="127.0" stroke="#333" stroke-width="0.9"/>
<line x1="135.9" y1="94.4" x2="135.9" y2="102.0" stroke="#2a2aff" stroke-width="0.6"/>
<line x1="135.9" y1="108.8" x2="135.9" y2="116.0" stroke="#2a2aff" stroke-width="0.6"/>
<rect x="129.00" y="102.00" width="13.80" height="6.80" fill="none" stroke="#2a2aff" stroke-width="0.7"/>
<line x1="129.0" y1="106.0" x2="142.8" y2="106.0" stroke="#2a2aff" stroke-width="0.9"/>
<circle cx="133.5" cy="89.5" r="0.75" fill="#2a2aff"/>
<circle cx="135.0" cy="101.0" r="0.75" fill="#2a2aff"/>
<circle cx="134.0" cy="104.5" r="0.75" fill="#2a2aff"/>
<circle cx="136.0" cy="108.0" r="0.75" fill="#2a2aff"/>
<circle cx="134.5" cy="112.0" r="0.75" fill="#2a2aff"/>
<circle cx="138.0" cy="116.5" r="0.75" fill="#2a2aff"/>
<line x1="153.8" y1="108.6" x2="153.8" y2="119.0" stroke="#ff3030" stroke-width="0.6"/>
<rect x="147.00" y="96.80" width="13.50" height="11.80" fill="none" stroke="#ff3030" stroke-width="0.7"/>
<line x1="147.0" y1="104.0" x2="160.5" y2="104.0" stroke="#ff3030" stroke-width="0.9"/>
<circle cx="150.5" cy="96.5" r="0.75" fill="#ff3030"/>
<circle cx="153.5" cy="108.5" r="0.75" fill="#ff3030"/>
<circle cx="155.0" cy="119.0" r="0.75" fill="#ff3030"/>
<line x1="188.7" y1="45.8" x2="188.7" y2="137.5" stroke="#9a9a9a" stroke-width="0.9"/>
<line x1="188.7" y1="137.5" x2="246.5" y2="137.5" stroke="#9a9a9a" stroke-width="0.9"/>
<line x1="187.2" y1="47.0" x2="188.7" y2="47.0" stroke="#9a9a9a" stroke-width="0.6"/>
<text x="186.7" y="48.2" font-size="3.4" text-anchor="end" fill="#555">15000</text>
<line x1="187.2" y1="77.0" x2="188.7" y2="77.0" stroke="#9a9a9a" stroke-width="0.6"/>
<text x="186.7" y="78.2" font-size="3.4" text-anchor="end" fill="#555">10000</text>
<line x1="187.2" y1="107.5" x2="188.7" y2="107.5" stroke="#9a9a9a" stroke-width="0.6"/>
<text x="186.7" y="108.7" font-size="3.4" text-anchor="end" fill="#555">5000</text>
<text transform="translate(175.8,91.5) rotate(-90)" x="0" y="1.9" font-size="5.6" font-weight="bold" text-anchor="middle" textLength="77.0" lengthAdjust="spacingAndGlyphs" fill="#000" stroke="#000" stroke-width="0.12">ATP6V0D1 Expression (FPKM)</text>
<text x="210.0" y="48.1" font-size="6.2" font-weight="bold" textLength="31.9" lengthAdjust="spacingAndGlyphs" fill="#000" stroke="#000" stroke-width="0.1">p.adj=0.812</text>
<path d="M217.6,51.3 V49.7 H236.6 V51.3" stroke="#999" stroke-width="0.6" fill="none"/>
<text x="202.8" y="61.1" font-size="6.2" font-weight="bold" textLength="31.8" lengthAdjust="spacingAndGlyphs" fill="#000" stroke="#000" stroke-width="0.1">p.adj=0.812</text>
<path d="M199.4,65.6 V64.0 H236.6 V65.6" stroke="#999" stroke-width="0.6" fill="none"/>
<text x="193.0" y="76.5" font-size="6.2" font-weight="bold" textLength="32.0" lengthAdjust="spacingAndGlyphs" fill="#000" stroke="#000" stroke-width="0.1">p.adj=0.003</text>
<path d="M199.4,79.6 V78.0 H217.6 V79.6" stroke="#999" stroke-width="0.6" fill="none"/>
<rect x="195.5" y="122.3" width="1.1" height="1.1" fill="#000"/>
<rect x="197.0" y="127.5" width="1.1" height="1.1" fill="#000"/>
<rect x="198.4" y="117.5" width="1.1" height="1.1" fill="#000"/>
<rect x="202.5" y="120.5" width="1.1" height="1.1" fill="#000"/>
<rect x="200.8" y="115.6" width="1.1" height="1.1" fill="#000"/>
<rect x="199.1" y="109.0" width="1.1" height="1.1" fill="#000"/>
<rect x="198.5" y="124.6" width="1.1" height="1.1" fill="#000"/>
<rect x="201.6" y="125.8" width="1.1" height="1.1" fill="#000"/>
<rect x="200.1" y="124.8" width="1.1" height="1.1" fill="#000"/>
<rect x="201.9" y="113.9" width="1.1" height="1.1" fill="#000"/>
<rect x="201.6" y="113.4" width="1.1" height="1.1" fill="#000"/>
<rect x="203.3" y="121.5" width="1.1" height="1.1" fill="#000"/>
<rect x="203.1" y="120.9" width="1.1" height="1.1" fill="#000"/>
<rect x="200.9" y="104.9" width="1.1" height="1.1" fill="#000"/>
<rect x="197.6" y="112.9" width="1.1" height="1.1" fill="#000"/>
<rect x="200.7" y="111.3" width="1.1" height="1.1" fill="#000"/>
<rect x="202.1" y="124.6" width="1.1" height="1.1" fill="#000"/>
<rect x="201.6" y="123.1" width="1.1" height="1.1" fill="#000"/>
<rect x="198.7" y="114.5" width="1.1" height="1.1" fill="#000"/>
<rect x="199.0" y="114.2" width="1.1" height="1.1" fill="#000"/>
<rect x="201.2" y="112.4" width="1.1" height="1.1" fill="#000"/>
<rect x="203.7" y="112.7" width="1.1" height="1.1" fill="#000"/>
<rect x="202.2" y="123.0" width="1.1" height="1.1" fill="#000"/>
<rect x="198.5" y="127.4" width="1.1" height="1.1" fill="#000"/>
<rect x="197.0" y="93.8" width="1.1" height="1.1" fill="#000"/>
<rect x="199.9" y="120.5" width="1.1" height="1.1" fill="#000"/>
<rect x="203.6" y="125.0" width="1.1" height="1.1" fill="#000"/>
<rect x="199.6" y="128.3" width="1.1" height="1.1" fill="#000"/>
<rect x="199.8" y="125.8" width="1.1" height="1.1" fill="#000"/>
<rect x="201.5" y="124.1" width="1.1" height="1.1" fill="#000"/>
<rect x="202.1" y="105.9" width="1.1" height="1.1" fill="#000"/>
<rect x="199.7" y="118.4" width="1.1" height="1.1" fill="#000"/>
<rect x="197.5" y="99.9" width="1.1" height="1.1" fill="#000"/>
<rect x="201.0" y="127.2" width="1.1" height="1.1" fill="#000"/>
<rect x="196.3" y="106.9" width="1.1" height="1.1" fill="#000"/>
<rect x="203.8" y="125.8" width="1.1" height="1.1" fill="#000"/>
<rect x="197.1" y="117.5" width="1.1" height="1.1" fill="#000"/>
<rect x="198.4" y="121.1" width="1.1" height="1.1" fill="#000"/>
<rect x="198.7" y="125.7" width="1.1" height="1.1" fill="#000"/>
<rect x="201.5" y="120.0" width="1.1" height="1.1" fill="#000"/>
<rect x="196.7" y="115.0" width="1.1" height="1.1" fill="#000"/>
<rect x="201.8" y="123.2" width="1.1" height="1.1" fill="#000"/>
<rect x="197.0" y="126.3" width="1.1" height="1.1" fill="#000"/>
<rect x="202.5" y="115.2" width="1.1" height="1.1" fill="#000"/>
<rect x="195.7" y="114.3" width="1.1" height="1.1" fill="#000"/>
<rect x="202.3" y="122.1" width="1.1" height="1.1" fill="#000"/>
<rect x="199.1" y="122.6" width="1.1" height="1.1" fill="#000"/>
<rect x="200.0" y="106.9" width="1.1" height="1.1" fill="#000"/>
<rect x="198.0" y="121.8" width="1.1" height="1.1" fill="#000"/>
<rect x="200.2" y="134.4" width="1.1" height="1.1" fill="#000"/>
<rect x="199.1" y="124.1" width="1.1" height="1.1" fill="#000"/>
<rect x="197.9" y="103.6" width="1.1" height="1.1" fill="#000"/>
<rect x="202.8" y="114.8" width="1.1" height="1.1" fill="#000"/>
<rect x="197.9" y="118.0" width="1.1" height="1.1" fill="#000"/>
<rect x="198.2" y="122.2" width="1.1" height="1.1" fill="#000"/>
<rect x="197.0" y="113.4" width="1.1" height="1.1" fill="#000"/>
<rect x="194.5" y="114.0" width="1.1" height="1.1" fill="#000"/>
<rect x="201.7" y="121.2" width="1.1" height="1.1" fill="#000"/>
<rect x="197.4" y="118.1" width="1.1" height="1.1" fill="#000"/>
<rect x="199.3" y="123.9" width="1.1" height="1.1" fill="#000"/>
<rect x="200.8" y="107.3" width="1.1" height="1.1" fill="#000"/>
<rect x="198.1" y="123.2" width="1.1" height="1.1" fill="#000"/>
<rect x="196.2" y="130.1" width="1.1" height="1.1" fill="#000"/>
<rect x="202.6" y="111.4" width="1.1" height="1.1" fill="#000"/>
<rect x="196.5" y="128.2" width="1.1" height="1.1" fill="#000"/>
<rect x="202.5" y="110.2" width="1.1" height="1.1" fill="#000"/>
<rect x="194.4" y="118.3" width="1.1" height="1.1" fill="#000"/>
<rect x="204.1" y="118.2" width="1.1" height="1.1" fill="#000"/>
<rect x="195.4" y="115.4" width="1.1" height="1.1" fill="#000"/>
<rect x="195.9" y="113.5" width="1.1" height="1.1" fill="#000"/>
<rect x="197.9" y="120.5" width="1.1" height="1.1" fill="#000"/>
<rect x="196.9" y="129.8" width="1.1" height="1.1" fill="#000"/>
<rect x="196.8" y="128.2" width="1.1" height="1.1" fill="#000"/>
<rect x="203.0" y="109.9" width="1.1" height="1.1" fill="#000"/>
<rect x="200.9" y="106.6" width="1.1" height="1.1" fill="#000"/>
<rect x="203.0" y="109.0" width="1.1" height="1.1" fill="#000"/>
<rect x="196.4" y="122.2" width="1.1" height="1.1" fill="#000"/>
<rect x="200.8" y="101.8" width="1.1" height="1.1" fill="#000"/>
<rect x="199.0" y="104.1" width="1.1" height="1.1" fill="#000"/>
<rect x="203.4" y="116.4" width="1.1" height="1.1" fill="#000"/>
<rect x="196.9" y="112.4" width="1.1" height="1.1" fill="#000"/>
<rect x="195.7" y="116.9" width="1.1" height="1.1" fill="#000"/>
<rect x="199.1" y="116.2" width="1.1" height="1.1" fill="#000"/>
<rect x="195.8" y="119.5" width="1.1" height="1.1" fill="#000"/>
<rect x="199.8" y="108.3" width="1.1" height="1.1" fill="#000"/>
<rect x="203.2" y="119.8" width="1.1" height="1.1" fill="#000"/>
<rect x="199.2" y="130.9" width="1.1" height="1.1" fill="#000"/>
<rect x="200.1" y="119.9" width="1.1" height="1.1" fill="#000"/>
<rect x="198.3" y="110.2" width="1.1" height="1.1" fill="#000"/>
<rect x="198.8" y="103.8" width="1.1" height="1.1" fill="#000"/>
<rect x="200.8" y="121.8" width="1.1" height="1.1" fill="#000"/>
<rect x="200.9" y="118.5" width="1.1" height="1.1" fill="#000"/>
<rect x="201.0" y="127.5" width="1.1" height="1.1" fill="#000"/>
<rect x="203.9" y="120.9" width="1.1" height="1.1" fill="#000"/>
<rect x="199.5" y="106.4" width="1.1" height="1.1" fill="#000"/>
<rect x="199.4" y="134.3" width="1.1" height="1.1" fill="#000"/>
<rect x="201.7" y="120.7" width="1.1" height="1.1" fill="#000"/>
<rect x="200.7" y="118.0" width="1.1" height="1.1" fill="#000"/>
<rect x="198.2" y="109.5" width="1.1" height="1.1" fill="#000"/>
<rect x="199.3" y="129.6" width="1.1" height="1.1" fill="#000"/>
<rect x="197.3" y="103.4" width="1.1" height="1.1" fill="#000"/>
<rect x="198.8" y="116.8" width="1.1" height="1.1" fill="#000"/>
<rect x="202.4" y="108.8" width="1.1" height="1.1" fill="#000"/>
<rect x="197.4" y="123.0" width="1.1" height="1.1" fill="#000"/>
<rect x="199.5" y="122.3" width="1.1" height="1.1" fill="#000"/>
<rect x="197.3" y="110.9" width="1.1" height="1.1" fill="#000"/>
<rect x="200.3" y="93.7" width="1.1" height="1.1" fill="#000"/>
<rect x="202.5" y="118.4" width="1.1" height="1.1" fill="#000"/>
<rect x="197.4" y="115.4" width="1.1" height="1.1" fill="#000"/>
<rect x="200.3" y="124.0" width="1.1" height="1.1" fill="#000"/>
<rect x="195.4" y="108.4" width="1.1" height="1.1" fill="#000"/>
<rect x="201.3" y="107.0" width="1.1" height="1.1" fill="#000"/>
<rect x="195.3" y="125.1" width="1.1" height="1.1" fill="#000"/>
<rect x="197.5" y="111.6" width="1.1" height="1.1" fill="#000"/>
<rect x="203.6" y="123.3" width="1.1" height="1.1" fill="#000"/>
<rect x="200.6" y="119.6" width="1.1" height="1.1" fill="#000"/>
<rect x="203.3" y="110.3" width="1.1" height="1.1" fill="#000"/>
<rect x="200.3" y="105.4" width="1.1" height="1.1" fill="#000"/>
<rect x="201.2" y="109.5" width="1.1" height="1.1" fill="#000"/>
<rect x="200.3" y="110.5" width="1.1" height="1.1" fill="#000"/>
<rect x="201.2" y="116.7" width="1.1" height="1.1" fill="#000"/>
<rect x="199.0" y="113.5" width="1.1" height="1.1" fill="#000"/>
<rect x="196.1" y="119.7" width="1.1" height="1.1" fill="#000"/>
<rect x="194.8" y="115.1" width="1.1" height="1.1" fill="#000"/>
<rect x="201.0" y="121.5" width="1.1" height="1.1" fill="#000"/>
<rect x="198.6" y="98.7" width="1.1" height="1.1" fill="#000"/>
<rect x="200.0" y="124.1" width="1.1" height="1.1" fill="#000"/>
<rect x="197.6" y="104.5" width="1.1" height="1.1" fill="#000"/>
<rect x="197.6" y="116.3" width="1.1" height="1.1" fill="#000"/>
<rect x="198.8" y="125.4" width="1.1" height="1.1" fill="#000"/>
<rect x="195.8" y="105.5" width="1.1" height="1.1" fill="#000"/>
<rect x="199.9" y="102.2" width="1.1" height="1.1" fill="#000"/>
<rect x="202.6" y="122.4" width="1.1" height="1.1" fill="#000"/>
<rect x="200.2" y="120.2" width="1.1" height="1.1" fill="#000"/>
<rect x="194.9" y="125.1" width="1.1" height="1.1" fill="#000"/>
<rect x="198.3" y="114.4" width="1.1" height="1.1" fill="#000"/>
<rect x="202.7" y="100.7" width="1.1" height="1.1" fill="#000"/>
<rect x="199.2" y="107.2" width="1.1" height="1.1" fill="#000"/>
<rect x="200.9" y="115.7" width="1.1" height="1.1" fill="#000"/>
<rect x="196.5" y="120.9" width="1.1" height="1.1" fill="#000"/>
<rect x="194.3" y="120.1" width="1.1" height="1.1" fill="#000"/>
<rect x="201.4" y="120.3" width="1.1" height="1.1" fill="#000"/>
<rect x="196.6" y="130.7" width="1.1" height="1.1" fill="#000"/>
<rect x="202.1" y="130.3" width="1.1" height="1.1" fill="#000"/>
<rect x="201.7" y="120.2" width="1.1" height="1.1" fill="#000"/>
<rect x="196.8" y="120.3" width="1.1" height="1.1" fill="#000"/>
<rect x="194.8" y="118.8" width="1.1" height="1.1" fill="#000"/>
<rect x="202.2" y="113.4" width="1.1" height="1.1" fill="#000"/>
<rect x="201.8" y="115.2" width="1.1" height="1.1" fill="#000"/>
<rect x="196.6" y="101.3" width="1.1" height="1.1" fill="#000"/>
<rect x="199.1" y="109.1" width="1.1" height="1.1" fill="#000"/>
<rect x="203.3" y="108.7" width="1.1" height="1.1" fill="#000"/>
<rect x="201.7" y="118.8" width="1.1" height="1.1" fill="#000"/>
<rect x="196.8" y="134.4" width="1.1" height="1.1" fill="#000"/>
<rect x="202.0" y="128.1" width="1.1" height="1.1" fill="#000"/>
<rect x="195.1" y="120.3" width="1.1" height="1.1" fill="#000"/>
<rect x="196.1" y="113.7" width="1.1" height="1.1" fill="#000"/>
<rect x="202.3" y="128.4" width="1.1" height="1.1" fill="#000"/>
<rect x="198.1" y="116.1" width="1.1" height="1.1" fill="#000"/>
<rect x="200.2" y="119.6" width="1.1" height="1.1" fill="#000"/>
<rect x="196.5" y="106.2" width="1.1" height="1.1" fill="#000"/>
<rect x="202.4" y="122.8" width="1.1" height="1.1" fill="#000"/>
<rect x="200.7" y="110.5" width="1.1" height="1.1" fill="#000"/>
<rect x="198.7" y="126.0" width="1.1" height="1.1" fill="#000"/>
<rect x="203.2" y="106.9" width="1.1" height="1.1" fill="#000"/>
<rect x="202.0" y="126.4" width="1.1" height="1.1" fill="#000"/>
<rect x="195.2" y="112.2" width="1.1" height="1.1" fill="#000"/>
<rect x="204.3" y="116.2" width="1.1" height="1.1" fill="#000"/>
<rect x="197.8" y="114.3" width="1.1" height="1.1" fill="#000"/>
<rect x="200.2" y="102.4" width="1.1" height="1.1" fill="#000"/>
<rect x="200.2" y="130.7" width="1.1" height="1.1" fill="#000"/>
<rect x="197.5" y="116.9" width="1.1" height="1.1" fill="#000"/>
<rect x="198.6" y="101.5" width="1.1" height="1.1" fill="#000"/>
<rect x="201.2" y="124.9" width="1.1" height="1.1" fill="#000"/>
<rect x="201.7" y="103.2" width="1.1" height="1.1" fill="#000"/>
<rect x="197.6" y="107.4" width="1.1" height="1.1" fill="#000"/>
<rect x="198.7" y="124.1" width="1.1" height="1.1" fill="#000"/>
<rect x="200.4" y="119.5" width="1.1" height="1.1" fill="#000"/>
<rect x="195.1" y="124.5" width="1.1" height="1.1" fill="#000"/>
<rect x="201.8" y="101.3" width="1.1" height="1.1" fill="#000"/>
<rect x="200.1" y="124.0" width="1.1" height="1.1" fill="#000"/>
<rect x="197.8" y="101.8" width="1.1" height="1.1" fill="#000"/>
<rect x="201.1" y="125.9" width="1.1" height="1.1" fill="#000"/>
<rect x="202.8" y="105.6" width="1.1" height="1.1" fill="#000"/>
<rect x="200.0" y="117.2" width="1.1" height="1.1" fill="#000"/>
<rect x="202.5" y="121.5" width="1.1" height="1.1" fill="#000"/>
<rect x="203.8" y="122.5" width="1.1" height="1.1" fill="#000"/>
<rect x="197.4" y="129.0" width="1.1" height="1.1" fill="#000"/>
<rect x="199.1" y="108.3" width="1.1" height="1.1" fill="#000"/>
<rect x="196.7" y="110.6" width="1.1" height="1.1" fill="#000"/>
<rect x="202.5" y="119.0" width="1.1" height="1.1" fill="#000"/>
<rect x="199.1" y="129.5" width="1.1" height="1.1" fill="#000"/>
<rect x="201.6" y="128.7" width="1.1" height="1.1" fill="#000"/>
<rect x="197.0" y="125.1" width="1.1" height="1.1" fill="#000"/>
<rect x="202.2" y="101.7" width="1.1" height="1.1" fill="#000"/>
<rect x="199.7" y="109.7" width="1.1" height="1.1" fill="#000"/>
<rect x="196.8" y="106.9" width="1.1" height="1.1" fill="#000"/>
<rect x="196.3" y="120.6" width="1.1" height="1.1" fill="#000"/>
<rect x="198.1" y="123.4" width="1.1" height="1.1" fill="#000"/>
<rect x="200.0" y="127.9" width="1.1" height="1.1" fill="#000"/>
<rect x="196.2" y="110.1" width="1.1" height="1.1" fill="#000"/>
<rect x="195.0" y="123.6" width="1.1" height="1.1" fill="#000"/>
<rect x="195.8" y="125.3" width="1.1" height="1.1" fill="#000"/>
<rect x="200.8" y="119.3" width="1.1" height="1.1" fill="#000"/>
<rect x="200.5" y="120.3" width="1.1" height="1.1" fill="#000"/>
<rect x="197.9" y="114.1" width="1.1" height="1.1" fill="#000"/>
<rect x="194.6" y="117.5" width="1.1" height="1.1" fill="#000"/>
<rect x="204.5" y="119.2" width="1.1" height="1.1" fill="#000"/>
<rect x="200.1" y="124.1" width="1.1" height="1.1" fill="#000"/>
<rect x="197.2" y="111.3" width="1.1" height="1.1" fill="#000"/>
<rect x="204.1" y="120.6" width="1.1" height="1.1" fill="#000"/>
<rect x="201.9" y="109.6" width="1.1" height="1.1" fill="#000"/>
<rect x="197.2" y="125.9" width="1.1" height="1.1" fill="#000"/>
<rect x="196.7" y="97.3" width="1.1" height="1.1" fill="#000"/>
<rect x="195.1" y="120.6" width="1.1" height="1.1" fill="#000"/>
<rect x="195.0" y="123.1" width="1.1" height="1.1" fill="#000"/>
<rect x="199.2" y="101.5" width="1.1" height="1.1" fill="#000"/>
<rect x="203.8" y="112.7" width="1.1" height="1.1" fill="#000"/>
<rect x="200.5" y="121.3" width="1.1" height="1.1" fill="#000"/>
<rect x="198.4" y="117.6" width="1.1" height="1.1" fill="#000"/>
<rect x="197.7" y="130.5" width="1.1" height="1.1" fill="#000"/>
<rect x="199.9" y="129.8" width="1.1" height="1.1" fill="#000"/>
<rect x="200.8" y="104.4" width="1.1" height="1.1" fill="#000"/>
<rect x="198.7" y="101.1" width="1.1" height="1.1" fill="#000"/>
<rect x="204.1" y="114.1" width="1.1" height="1.1" fill="#000"/>
<rect x="204.5" y="120.6" width="1.1" height="1.1" fill="#000"/>
<rect x="196.9" y="119.7" width="1.1" height="1.1" fill="#000"/>
<rect x="197.9" y="121.1" width="1.1" height="1.1" fill="#000"/>
<rect x="201.9" y="130.1" width="1.1" height="1.1" fill="#000"/>
<rect x="195.5" y="107.6" width="1.1" height="1.1" fill="#000"/>
<rect x="201.0" y="121.6" width="1.1" height="1.1" fill="#000"/>
<rect x="203.3" y="104.9" width="1.1" height="1.1" fill="#000"/>
<rect x="202.0" y="122.6" width="1.1" height="1.1" fill="#000"/>
<rect x="204.0" y="120.6" width="1.1" height="1.1" fill="#000"/>
<rect x="200.4" y="115.9" width="1.1" height="1.1" fill="#000"/>
<rect x="201.9" y="112.3" width="1.1" height="1.1" fill="#000"/>
<rect x="197.1" y="123.6" width="1.1" height="1.1" fill="#000"/>
<rect x="195.7" y="122.7" width="1.1" height="1.1" fill="#000"/>
<rect x="196.9" y="113.7" width="1.1" height="1.1" fill="#000"/>
<rect x="195.7" y="119.9" width="1.1" height="1.1" fill="#000"/>
<rect x="201.7" y="118.8" width="1.1" height="1.1" fill="#000"/>
<rect x="196.3" y="118.1" width="1.1" height="1.1" fill="#000"/>
<rect x="197.7" y="132.9" width="1.1" height="1.1" fill="#000"/>
<rect x="203.8" y="122.5" width="1.1" height="1.1" fill="#000"/>
<rect x="196.5" y="127.9" width="1.1" height="1.1" fill="#000"/>
<rect x="199.0" y="104.7" width="1.1" height="1.1" fill="#000"/>
<rect x="201.9" y="130.8" width="1.1" height="1.1" fill="#000"/>
<rect x="200.5" y="127.3" width="1.1" height="1.1" fill="#000"/>
<rect x="202.5" y="111.2" width="1.1" height="1.1" fill="#000"/>
<rect x="199.2" y="121.1" width="1.1" height="1.1" fill="#000"/>
<rect x="196.6" y="115.8" width="1.1" height="1.1" fill="#000"/>
<rect x="194.9" y="115.6" width="1.1" height="1.1" fill="#000"/>
<rect x="195.8" y="116.7" width="1.1" height="1.1" fill="#000"/>
<rect x="202.7" y="107.7" width="1.1" height="1.1" fill="#000"/>
<rect x="195.9" y="118.4" width="1.1" height="1.1" fill="#000"/>
<rect x="197.4" y="125.6" width="1.1" height="1.1" fill="#000"/>
<rect x="196.1" y="122.3" width="1.1" height="1.1" fill="#000"/>
<rect x="199.4" y="112.2" width="1.1" height="1.1" fill="#000"/>
<rect x="195.8" y="110.9" width="1.1" height="1.1" fill="#000"/>
<rect x="202.7" y="131.2" width="1.1" height="1.1" fill="#000"/>
<rect x="200.6" y="131.4" width="1.1" height="1.1" fill="#000"/>
<rect x="196.6" y="123.9" width="1.1" height="1.1" fill="#000"/>
<rect x="197.1" y="111.7" width="1.1" height="1.1" fill="#000"/>
<rect x="196.4" y="120.1" width="1.1" height="1.1" fill="#000"/>
<rect x="202.8" y="100.3" width="1.1" height="1.1" fill="#000"/>
<rect x="202.0" y="133.3" width="1.1" height="1.1" fill="#000"/>
<rect x="203.3" y="123.5" width="1.1" height="1.1" fill="#000"/>
<rect x="195.0" y="122.3" width="1.1" height="1.1" fill="#000"/>
<rect x="204.4" y="118.3" width="1.1" height="1.1" fill="#000"/>
<rect x="194.8" y="111.6" width="1.1" height="1.1" fill="#000"/>
<rect x="195.8" y="121.4" width="1.1" height="1.1" fill="#000"/>
<rect x="194.7" y="111.3" width="1.1" height="1.1" fill="#000"/>
<rect x="196.3" y="123.1" width="1.1" height="1.1" fill="#000"/>
<rect x="198.9" y="109.3" width="1.1" height="1.1" fill="#000"/>
<rect x="200.2" y="123.0" width="1.1" height="1.1" fill="#000"/>
<rect x="195.8" y="115.9" width="1.1" height="1.1" fill="#000"/>
<rect x="201.5" y="123.8" width="1.1" height="1.1" fill="#000"/>
<rect x="197.1" y="128.8" width="1.1" height="1.1" fill="#000"/>
<rect x="200.6" y="121.7" width="1.1" height="1.1" fill="#000"/>
<rect x="199.4" y="120.7" width="1.1" height="1.1" fill="#000"/>
<rect x="200.6" y="118.5" width="1.1" height="1.1" fill="#000"/>
<rect x="201.5" y="123.5" width="1.1" height="1.1" fill="#000"/>
<rect x="196.4" y="122.4" width="1.1" height="1.1" fill="#000"/>
<rect x="195.7" y="107.8" width="1.1" height="1.1" fill="#000"/>
<rect x="201.8" y="118.4" width="1.1" height="1.1" fill="#000"/>
<rect x="195.4" y="109.8" width="1.1" height="1.1" fill="#000"/>
<rect x="203.0" y="121.5" width="1.1" height="1.1" fill="#000"/>
<rect x="202.9" y="111.5" width="1.1" height="1.1" fill="#000"/>
<rect x="203.7" y="117.8" width="1.1" height="1.1" fill="#000"/>
<rect x="199.2" y="119.5" width="1.1" height="1.1" fill="#000"/>
<rect x="196.3" y="122.7" width="1.1" height="1.1" fill="#000"/>
<rect x="202.8" y="114.1" width="1.1" height="1.1" fill="#000"/>
<rect x="198.1" y="115.6" width="1.1" height="1.1" fill="#000"/>
<rect x="200.4" y="122.1" width="1.1" height="1.1" fill="#000"/>
<rect x="199.0" y="126.7" width="1.1" height="1.1" fill="#000"/>
<rect x="199.6" y="119.7" width="1.1" height="1.1" fill="#000"/>
<rect x="202.3" y="126.3" width="1.1" height="1.1" fill="#000"/>
<rect x="202.7" y="126.0" width="1.1" height="1.1" fill="#000"/>
<rect x="198.3" y="113.0" width="1.1" height="1.1" fill="#000"/>
<rect x="201.5" y="128.0" width="1.1" height="1.1" fill="#000"/>
<rect x="202.6" y="130.7" width="1.1" height="1.1" fill="#000"/>
<rect x="199.4" y="124.0" width="1.1" height="1.1" fill="#000"/>
<rect x="199.8" y="107.8" width="1.1" height="1.1" fill="#000"/>
<rect x="194.5" y="118.5" width="1.1" height="1.1" fill="#000"/>
<rect x="196.3" y="123.6" width="1.1" height="1.1" fill="#000"/>
<rect x="195.3" y="118.1" width="1.1" height="1.1" fill="#000"/>
<rect x="194.6" y="119.4" width="1.1" height="1.1" fill="#000"/>
<rect x="196.6" y="130.5" width="1.1" height="1.1" fill="#000"/>
<rect x="194.5" y="117.5" width="1.1" height="1.1" fill="#000"/>
<rect x="200.4" y="113.5" width="1.1" height="1.1" fill="#000"/>
<rect x="201.3" y="109.2" width="1.1" height="1.1" fill="#000"/>
<rect x="195.5" y="114.1" width="1.1" height="1.1" fill="#000"/>
<rect x="195.4" y="126.0" width="1.1" height="1.1" fill="#000"/>
<rect x="196.1" y="108.4" width="1.1" height="1.1" fill="#000"/>
<rect x="197.5" y="108.3" width="1.1" height="1.1" fill="#000"/>
<rect x="195.5" y="119.7" width="1.1" height="1.1" fill="#000"/>
<rect x="200.4" y="115.2" width="1.1" height="1.1" fill="#000"/>
<rect x="203.2" y="121.3" width="1.1" height="1.1" fill="#000"/>
<rect x="201.8" y="124.2" width="1.1" height="1.1" fill="#000"/>
<rect x="196.4" y="125.7" width="1.1" height="1.1" fill="#000"/>
<rect x="198.4" y="125.9" width="1.1" height="1.1" fill="#000"/>
<rect x="198.9" y="99.6" width="1.1" height="1.1" fill="#000"/>
<rect x="198.4" y="123.4" width="1.1" height="1.1" fill="#000"/>
<rect x="203.5" y="109.6" width="1.1" height="1.1" fill="#000"/>
<rect x="196.8" y="120.4" width="1.1" height="1.1" fill="#000"/>
<rect x="197.9" y="110.9" width="1.1" height="1.1" fill="#000"/>
<rect x="201.1" y="94.8" width="1.1" height="1.1" fill="#000"/>
<rect x="203.1" y="126.1" width="1.1" height="1.1" fill="#000"/>
<rect x="195.1" y="124.1" width="1.1" height="1.1" fill="#000"/>
<rect x="199.6" y="102.5" width="1.1" height="1.1" fill="#000"/>
<rect x="197.9" y="133.0" width="1.1" height="1.1" fill="#000"/>
<rect x="198.7" y="113.6" width="1.1" height="1.1" fill="#000"/>
<rect x="199.8" y="113.4" width="1.1" height="1.1" fill="#000"/>
<rect x="195.2" y="112.8" width="1.1" height="1.1" fill="#000"/>
<rect x="195.1" y="109.2" width="1.1" height="1.1" fill="#000"/>
<rect x="195.8" y="122.4" width="1.1" height="1.1" fill="#000"/>
<rect x="202.7" y="129.7" width="1.1" height="1.1" fill="#000"/>
<rect x="200.8" y="116.3" width="1.1" height="1.1" fill="#000"/>
<rect x="203.2" y="124.0" width="1.1" height="1.1" fill="#000"/>
<rect x="196.2" y="101.1" width="1.1" height="1.1" fill="#000"/>
<rect x="201.2" y="114.7" width="1.1" height="1.1" fill="#000"/>
<rect x="197.2" y="113.6" width="1.1" height="1.1" fill="#000"/>
<rect x="200.2" y="98.6" width="1.1" height="1.1" fill="#000"/>
<rect x="197.0" y="113.8" width="1.1" height="1.1" fill="#000"/>
<rect x="203.5" y="109.4" width="1.1" height="1.1" fill="#000"/>
<rect x="197.2" y="118.2" width="1.1" height="1.1" fill="#000"/>
<rect x="195.6" y="114.8" width="1.1" height="1.1" fill="#000"/>
<rect x="200.2" y="127.6" width="1.1" height="1.1" fill="#000"/>
<rect x="197.4" y="126.4" width="1.1" height="1.1" fill="#000"/>
<rect x="199.1" y="116.3" width="1.1" height="1.1" fill="#000"/>
<rect x="195.7" y="114.2" width="1.1" height="1.1" fill="#000"/>
<rect x="195.6" y="118.3" width="1.1" height="1.1" fill="#000"/>
<rect x="197.3" y="116.8" width="1.1" height="1.1" fill="#000"/>
<rect x="197.1" y="125.4" width="1.1" height="1.1" fill="#000"/>
<rect x="202.5" y="125.9" width="1.1" height="1.1" fill="#000"/>
<rect x="200.5" y="123.4" width="1.1" height="1.1" fill="#000"/>
<rect x="196.9" y="107.0" width="1.1" height="1.1" fill="#000"/>
<rect x="201.5" y="113.6" width="1.1" height="1.1" fill="#000"/>
<rect x="200.4" y="107.8" width="1.1" height="1.1" fill="#000"/>
<rect x="199.1" y="121.3" width="1.1" height="1.1" fill="#000"/>
<rect x="196.6" y="116.8" width="1.1" height="1.1" fill="#000"/>
<rect x="199.6" y="123.6" width="1.1" height="1.1" fill="#000"/>
<rect x="194.9" y="110.1" width="1.1" height="1.1" fill="#000"/>
<rect x="198.1" y="124.8" width="1.1" height="1.1" fill="#000"/>
<rect x="200.0" y="122.3" width="1.1" height="1.1" fill="#000"/>
<rect x="199.4" y="114.1" width="1.1" height="1.1" fill="#000"/>
<rect x="197.4" y="113.3" width="1.1" height="1.1" fill="#000"/>
<rect x="200.8" y="134.4" width="1.1" height="1.1" fill="#000"/>
<rect x="203.3" y="120.7" width="1.1" height="1.1" fill="#000"/>
<rect x="198.8" y="121.3" width="1.1" height="1.1" fill="#000"/>
<rect x="198.9" y="124.9" width="1.1" height="1.1" fill="#000"/>
<rect x="201.9" y="121.7" width="1.1" height="1.1" fill="#000"/>
<rect x="204.0" y="122.8" width="1.1" height="1.1" fill="#000"/>
<rect x="201.9" y="122.2" width="1.1" height="1.1" fill="#000"/>
<rect x="198.0" y="122.5" width="1.1" height="1.1" fill="#000"/>
<rect x="201.2" y="123.9" width="1.1" height="1.1" fill="#000"/>
<rect x="202.1" y="105.7" width="1.1" height="1.1" fill="#000"/>
<rect x="199.6" y="107.1" width="1.1" height="1.1" fill="#000"/>
<rect x="202.1" y="118.3" width="1.1" height="1.1" fill="#000"/>
<rect x="199.3" y="103.8" width="1.1" height="1.1" fill="#000"/>
<rect x="193.30" y="116.00" width="13.50" height="10.00" fill="none" stroke="#333" stroke-width="0.7"/>
<line x1="193.3" y1="120.7" x2="206.8" y2="120.7" stroke="#333" stroke-width="0.9"/>
<line x1="217.9" y1="108.5" x2="217.9" y2="109.5" stroke="#2a2aff" stroke-width="0.6"/>
<line x1="217.9" y1="115.4" x2="217.9" y2="118.0" stroke="#2a2aff" stroke-width="0.6"/>
<rect x="211.00" y="109.50" width="13.80" height="5.90" fill="none" stroke="#2a2aff" stroke-width="0.7"/>
<line x1="211.0" y1="113.4" x2="224.8" y2="113.4" stroke="#2a2aff" stroke-width="0.9"/>
<circle cx="216.0" cy="109.0" r="0.75" fill="#2a2aff"/>
<circle cx="220.0" cy="110.0" r="0.75" fill="#2a2aff"/>
<circle cx="218.0" cy="113.5" r="0.75" fill="#2a2aff"/>
<circle cx="217.0" cy="116.0" r="0.75" fill="#2a2aff"/>
<circle cx="220.5" cy="121.0" r="0.75" fill="#2a2aff"/>
<line x1="235.9" y1="103.0" x2="235.9" y2="112.5" stroke="#ff3030" stroke-width="0.6"/>
<rect x="229.00" y="112.50" width="13.80" height="13.50" fill="none" stroke="#ff3030" stroke-width="0.7"/>
<line x1="229.0" y1="113.5" x2="242.8" y2="113.5" stroke="#ff3030" stroke-width="0.9"/>
<circle cx="237.0" cy="103.3" r="0.75" fill="#ff3030"/>
<circle cx="233.0" cy="112.6" r="0.75" fill="#ff3030"/>
<circle cx="236.0" cy="113.5" r="0.75" fill="#ff3030"/>
<circle cx="233.0" cy="126.0" r="0.75" fill="#ff3030"/>
<line x1="27.3" y1="149.5" x2="27.3" y2="242.2" stroke="#9a9a9a" stroke-width="0.9"/>
<line x1="27.3" y1="242.2" x2="84.8" y2="242.2" stroke="#9a9a9a" stroke-width="0.9"/>
<line x1="25.8" y1="150.0" x2="27.3" y2="150.0" stroke="#9a9a9a" stroke-width="0.6"/>
<text x="25.3" y="151.2" font-size="3.4" text-anchor="end" fill="#555">10000</text>
<line x1="25.8" y1="173.5" x2="27.3" y2="173.5" stroke="#9a9a9a" stroke-width="0.6"/>
<text x="25.3" y="174.7" font-size="3.4" text-anchor="end" fill="#555">7500</text>
<line x1="25.8" y1="196.8" x2="27.3" y2="196.8" stroke="#9a9a9a" stroke-width="0.6"/>
<text x="25.3" y="198.0" font-size="3.4" text-anchor="end" fill="#555">5000</text>
<line x1="25.8" y1="220.0" x2="27.3" y2="220.0" stroke="#9a9a9a" stroke-width="0.6"/>
<text x="25.3" y="221.2" font-size="3.4" text-anchor="end" fill="#555">2500</text>
<text transform="translate(13.1,196.2) rotate(-90)" x="0" y="1.9" font-size="5.6" font-weight="bold" text-anchor="middle" textLength="75.6" lengthAdjust="spacingAndGlyphs" fill="#000" stroke="#000" stroke-width="0.12">ATP6V1D Expression (FPKM)</text>
<text x="48.9" y="152.0" font-size="6.2" font-weight="bold" textLength="31.5" lengthAdjust="spacingAndGlyphs" fill="#000" stroke="#000" stroke-width="0.1">p.adj=0.027</text>
<path d="M55.2,155.4 V153.8 H74.6 V155.4" stroke="#999" stroke-width="0.6" fill="none"/>
<text x="40.7" y="164.7" font-size="6.2" font-weight="bold" textLength="31.8" lengthAdjust="spacingAndGlyphs" fill="#000" stroke="#000" stroke-width="0.1">p.adj=0.766</text>
<path d="M37.5,167.9 V166.3 H74.6 V167.9" stroke="#999" stroke-width="0.6" fill="none"/>
<text x="29.6" y="176.9" font-size="6.2" font-weight="bold" textLength="40.4" lengthAdjust="spacingAndGlyphs" fill="#000" stroke="#000" stroke-width="0.1">p.adj=9.24e-05</text>
<path d="M37.5,180.0 V178.4 H56.5 V180.0" stroke="#999" stroke-width="0.6" fill="none"/>
<rect x="41.7" y="226.3" width="1.1" height="1.1" fill="#000"/>
<rect x="34.5" y="212.2" width="1.1" height="1.1" fill="#000"/>
<rect x="40.2" y="224.8" width="1.1" height="1.1" fill="#000"/>
<rect x="38.3" y="223.9" width="1.1" height="1.1" fill="#000"/>
<rect x="37.8" y="203.9" width="1.1" height="1.1" fill="#000"/>
<rect x="36.6" y="224.6" width="1.1" height="1.1" fill="#000"/>
<rect x="38.5" y="226.8" width="1.1" height="1.1" fill="#000"/>
<rect x="36.6" y="208.6" width="1.1" height="1.1" fill="#000"/>
<rect x="39.5" y="216.0" width="1.1" height="1.1" fill="#000"/>
<rect x="35.3" y="226.2" width="1.1" height="1.1" fill="#000"/>
<rect x="36.4" y="216.6" width="1.1" height="1.1" fill="#000"/>
<rect x="35.7" y="228.9" width="1.1" height="1.1" fill="#000"/>
<rect x="37.4" y="226.9" width="1.1" height="1.1" fill="#000"/>
<rect x="37.1" y="209.3" width="1.1" height="1.1" fill="#000"/>
<rect x="33.8" y="226.3" width="1.1" height="1.1" fill="#000"/>
<rect x="38.2" y="228.7" width="1.1" height="1.1" fill="#000"/>
<rect x="41.7" y="221.5" width="1.1" height="1.1" fill="#000"/>
<rect x="35.6" y="222.8" width="1.1" height="1.1" fill="#000"/>
<rect x="41.6" y="230.3" width="1.1" height="1.1" fill="#000"/>
<rect x="35.2" y="211.7" width="1.1" height="1.1" fill="#000"/>
<rect x="34.1" y="208.7" width="1.1" height="1.1" fill="#000"/>
<rect x="33.3" y="229.8" width="1.1" height="1.1" fill="#000"/>
<rect x="41.2" y="215.8" width="1.1" height="1.1" fill="#000"/>
<rect x="40.2" y="220.7" width="1.1" height="1.1" fill="#000"/>
<rect x="37.5" y="196.7" width="1.1" height="1.1" fill="#000"/>
<rect x="37.6" y="217.6" width="1.1" height="1.1" fill="#000"/>
<rect x="36.0" y="221.3" width="1.1" height="1.1" fill="#000"/>
<rect x="38.3" y="217.2" width="1.1" height="1.1" fill="#000"/>
<rect x="38.9" y="212.9" width="1.1" height="1.1" fill="#000"/>
<rect x="37.6" y="235.2" width="1.1" height="1.1" fill="#000"/>
<rect x="36.5" y="228.8" width="1.1" height="1.1" fill="#000"/>
<rect x="38.1" y="227.6" width="1.1" height="1.1" fill="#000"/>
<rect x="40.8" y="209.7" width="1.1" height="1.1" fill="#000"/>
<rect x="37.3" y="217.1" width="1.1" height="1.1" fill="#000"/>
<rect x="41.7" y="214.0" width="1.1" height="1.1" fill="#000"/>
<rect x="35.9" y="227.3" width="1.1" height="1.1" fill="#000"/>
<rect x="35.1" y="210.0" width="1.1" height="1.1" fill="#000"/>
<rect x="35.6" y="221.7" width="1.1" height="1.1" fill="#000"/>
<rect x="37.5" y="234.6" width="1.1" height="1.1" fill="#000"/>
<rect x="33.4" y="222.4" width="1.1" height="1.1" fill="#000"/>
<rect x="40.2" y="231.1" width="1.1" height="1.1" fill="#000"/>
<rect x="42.0" y="216.9" width="1.1" height="1.1" fill="#000"/>
<rect x="34.1" y="228.8" width="1.1" height="1.1" fill="#000"/>
<rect x="35.4" y="219.0" width="1.1" height="1.1" fill="#000"/>
<rect x="34.7" y="215.0" width="1.1" height="1.1" fill="#000"/>
<rect x="34.2" y="223.8" width="1.1" height="1.1" fill="#000"/>
<rect x="36.1" y="217.0" width="1.1" height="1.1" fill="#000"/>
<rect x="42.0" y="216.5" width="1.1" height="1.1" fill="#000"/>
<rect x="36.5" y="222.9" width="1.1" height="1.1" fill="#000"/>
<rect x="40.4" y="222.7" width="1.1" height="1.1" fill="#000"/>
<rect x="32.5" y="220.2" width="1.1" height="1.1" fill="#000"/>
<rect x="35.9" y="232.3" width="1.1" height="1.1" fill="#000"/>
<rect x="39.1" y="228.4" width="1.1" height="1.1" fill="#000"/>
<rect x="34.7" y="215.6" width="1.1" height="1.1" fill="#000"/>
<rect x="35.4" y="214.3" width="1.1" height="1.1" fill="#000"/>
<rect x="39.0" y="224.5" width="1.1" height="1.1" fill="#000"/>
<rect x="37.8" y="197.6" width="1.1" height="1.1" fill="#000"/>
<rect x="36.6" y="219.1" width="1.1" height="1.1" fill="#000"/>
<rect x="40.1" y="226.8" width="1.1" height="1.1" fill="#000"/>
<rect x="33.4" y="226.7" width="1.1" height="1.1" fill="#000"/>
<rect x="37.7" y="227.2" width="1.1" height="1.1" fill="#000"/>
<rect x="40.8" y="226.4" width="1.1" height="1.1" fill="#000"/>
<rect x="33.8" y="213.5" width="1.1" height="1.1" fill="#000"/>
<rect x="33.2" y="215.0" width="1.1" height="1.1" fill="#000"/>
<rect x="39.7" y="225.1" width="1.1" height="1.1" fill="#000"/>
<rect x="36.1" y="217.4" width="1.1" height="1.1" fill="#000"/>
<rect x="33.4" y="226.6" width="1.1" height="1.1" fill="#000"/>
<rect x="41.4" y="228.2" width="1.1" height="1.1" fill="#000"/>
<rect x="37.0" y="218.0" width="1.1" height="1.1" fill="#000"/>
<rect x="36.3" y="220.8" width="1.1" height="1.1" fill="#000"/>
<rect x="38.0" y="235.3" width="1.1" height="1.1" fill="#000"/>
<rect x="41.9" y="228.3" width="1.1" height="1.1" fill="#000"/>
<rect x="35.3" y="214.1" width="1.1" height="1.1" fill="#000"/>
<rect x="32.9" y="227.3" width="1.1" height="1.1" fill="#000"/>
<rect x="36.1" y="234.2" width="1.1" height="1.1" fill="#000"/>
<rect x="41.3" y="217.8" width="1.1" height="1.1" fill="#000"/>
<rect x="38.5" y="226.3" width="1.1" height="1.1" fill="#000"/>
<rect x="41.9" y="218.2" width="1.1" height="1.1" fill="#000"/>
<rect x="36.0" y="204.9" width="1.1" height="1.1" fill="#000"/>
<rect x="36.3" y="224.8" width="1.1" height="1.1" fill="#000"/>
<rect x="35.5" y="223.3" width="1.1" height="1.1" fill="#000"/>
<rect x="41.1" y="218.9" width="1.1" height="1.1" fill="#000"/>
<rect x="35.6" y="210.3" width="1.1" height="1.1" fill="#000"/>
<rect x="34.1" y="225.4" width="1.1" height="1.1" fill="#000"/>
<rect x="42.3" y="221.2" width="1.1" height="1.1" fill="#000"/>
<rect x="35.3" y="227.2" width="1.1" height="1.1" fill="#000"/>
<rect x="37.8" y="220.8" width="1.1" height="1.1" fill="#000"/>
<rect x="36.3" y="223.0" width="1.1" height="1.1" fill="#000"/>
<rect x="33.6" y="222.0" width="1.1" height="1.1" fill="#000"/>
<rect x="40.8" y="225.6" width="1.1" height="1.1" fill="#000"/>
<rect x="34.3" y="220.9" width="1.1" height="1.1" fill="#000"/>
<rect x="35.3" y="227.8" width="1.1" height="1.1" fill="#000"/>
<rect x="39.2" y="224.6" width="1.1" height="1.1" fill="#000"/>
<rect x="35.8" y="225.9" width="1.1" height="1.1" fill="#000"/>
<rect x="33.6" y="229.2" width="1.1" height="1.1" fill="#000"/>
<rect x="35.5" y="231.6" width="1.1" height="1.1" fill="#000"/>
<rect x="36.9" y="225.9" width="1.1" height="1.1" fill="#000"/>
<rect x="40.9" y="220.8" width="1.1" height="1.1" fill="#000"/>
<rect x="35.9" y="225.5" width="1.1" height="1.1" fill="#000"/>
<rect x="39.7" y="220.0" width="1.1" height="1.1" fill="#000"/>
<rect x="35.3" y="210.0" width="1.1" height="1.1" fill="#000"/>
<rect x="40.8" y="234.1" width="1.1" height="1.1" fill="#000"/>
<rect x="37.0" y="218.7" width="1.1" height="1.1" fill="#000"/>
<rect x="33.6" y="224.3" width="1.1" height="1.1" fill="#000"/>
<rect x="41.6" y="222.8" width="1.1" height="1.1" fill="#000"/>
<rect x="38.3" y="218.5" width="1.1" height="1.1" fill="#000"/>
<rect x="38.5" y="220.4" width="1.1" height="1.1" fill="#000"/>
<rect x="34.6" y="227.5" width="1.1" height="1.1" fill="#000"/>
<rect x="37.6" y="226.4" width="1.1" height="1.1" fill="#000"/>
<rect x="37.9" y="221.5" width="1.1" height="1.1" fill="#000"/>
<rect x="36.3" y="222.7" width="1.1" height="1.1" fill="#000"/>
<rect x="38.6" y="233.8" width="1.1" height="1.1" fill="#000"/>
<rect x="36.4" y="218.2" width="1.1" height="1.1" fill="#000"/>
<rect x="33.2" y="221.6" width="1.1" height="1.1" fill="#000"/>
<rect x="35.8" y="229.2" width="1.1" height="1.1" fill="#000"/>
<rect x="38.6" y="234.1" width="1.1" height="1.1" fill="#000"/>
<rect x="36.2" y="229.9" width="1.1" height="1.1" fill="#000"/>
<rect x="37.5" y="228.9" width="1.1" height="1.1" fill="#000"/>
<rect x="35.5" y="223.6" width="1.1" height="1.1" fill="#000"/>
<rect x="34.6" y="226.4" width="1.1" height="1.1" fill="#000"/>
<rect x="35.5" y="230.6" width="1.1" height="1.1" fill="#000"/>
<rect x="36.6" y="230.7" width="1.1" height="1.1" fill="#000"/>
<rect x="40.6" y="232.4" width="1.1" height="1.1" fill="#000"/>
<rect x="40.8" y="217.0" width="1.1" height="1.1" fill="#000"/>
<rect x="32.7" y="227.4" width="1.1" height="1.1" fill="#000"/>
<rect x="39.2" y="227.7" width="1.1" height="1.1" fill="#000"/>
<rect x="36.6" y="220.6" width="1.1" height="1.1" fill="#000"/>
<rect x="39.0" y="218.1" width="1.1" height="1.1" fill="#000"/>
<rect x="41.0" y="222.6" width="1.1" height="1.1" fill="#000"/>
<rect x="36.0" y="218.7" width="1.1" height="1.1" fill="#000"/>
<rect x="33.5" y="221.0" width="1.1" height="1.1" fill="#000"/>
<rect x="41.6" y="220.8" width="1.1" height="1.1" fill="#000"/>
<rect x="32.7" y="223.2" width="1.1" height="1.1" fill="#000"/>
<rect x="33.9" y="211.9" width="1.1" height="1.1" fill="#000"/>
<rect x="35.4" y="226.4" width="1.1" height="1.1" fill="#000"/>
<rect x="36.3" y="227.6" width="1.1" height="1.1" fill="#000"/>
<rect x="38.8" y="229.1" width="1.1" height="1.1" fill="#000"/>
<rect x="34.1" y="225.6" width="1.1" height="1.1" fill="#000"/>
<rect x="39.6" y="228.3" width="1.1" height="1.1" fill="#000"/>
<rect x="35.2" y="215.7" width="1.1" height="1.1" fill="#000"/>
<rect x="36.2" y="213.3" width="1.1" height="1.1" fill="#000"/>
<rect x="32.5" y="227.8" width="1.1" height="1.1" fill="#000"/>
<rect x="35.4" y="229.3" width="1.1" height="1.1" fill="#000"/>
<rect x="33.8" y="212.5" width="1.1" height="1.1" fill="#000"/>
<rect x="33.1" y="229.0" width="1.1" height="1.1" fill="#000"/>
<rect x="35.1" y="215.8" width="1.1" height="1.1" fill="#000"/>
<rect x="35.0" y="231.9" width="1.1" height="1.1" fill="#000"/>
<rect x="41.1" y="230.7" width="1.1" height="1.1" fill="#000"/>
<rect x="39.5" y="224.4" width="1.1" height="1.1" fill="#000"/>
<rect x="36.4" y="221.1" width="1.1" height="1.1" fill="#000"/>
<rect x="35.2" y="224.2" width="1.1" height="1.1" fill="#000"/>
<rect x="34.6" y="209.4" width="1.1" height="1.1" fill="#000"/>
<rect x="41.4" y="229.9" width="1.1" height="1.1" fill="#000"/>
<rect x="39.4" y="221.7" width="1.1" height="1.1" fill="#000"/>
<rect x="38.8" y="223.4" width="1.1" height="1.1" fill="#000"/>
<rect x="37.1" y="209.4" width="1.1" height="1.1" fill="#000"/>
<rect x="36.9" y="232.5" width="1.1" height="1.1" fill="#000"/>
<rect x="37.6" y="227.3" width="1.1" height="1.1" fill="#000"/>
<rect x="40.1" y="227.0" width="1.1" height="1.1" fill="#000"/>
<rect x="32.7" y="222.6" width="1.1" height="1.1" fill="#000"/>
<rect x="35.1" y="220.2" width="1.1" height="1.1" fill="#000"/>
<rect x="37.8" y="210.6" width="1.1" height="1.1" fill="#000"/>
<rect x="37.8" y="232.1" width="1.1" height="1.1" fill="#000"/>
<rect x="34.9" y="222.3" width="1.1" height="1.1" fill="#000"/>
<rect x="36.6" y="229.3" width="1.1" height="1.1" fill="#000"/>
<rect x="34.4" y="226.3" width="1.1" height="1.1" fill="#000"/>
<rect x="39.6" y="222.8" width="1.1" height="1.1" fill="#000"/>
<rect x="39.2" y="227.2" width="1.1" height="1.1" fill="#000"/>
<rect x="37.6" y="224.8" width="1.1" height="1.1" fill="#000"/>
<rect x="36.9" y="228.5" width="1.1" height="1.1" fill="#000"/>
<rect x="35.5" y="229.2" width="1.1" height="1.1" fill="#000"/>
<rect x="41.4" y="221.5" width="1.1" height="1.1" fill="#000"/>
<rect x="35.9" y="228.9" width="1.1" height="1.1" fill="#000"/>
<rect x="40.4" y="230.0" width="1.1" height="1.1" fill="#000"/>
<rect x="34.9" y="211.5" width="1.1" height="1.1" fill="#000"/>
<rect x="39.1" y="220.4" width="1.1" height="1.1" fill="#000"/>
<rect x="40.0" y="217.2" width="1.1" height="1.1" fill="#000"/>
<rect x="40.7" y="219.3" width="1.1" height="1.1" fill="#000"/>
<rect x="36.1" y="227.9" width="1.1" height="1.1" fill="#000"/>
<rect x="34.5" y="227.4" width="1.1" height="1.1" fill="#000"/>
<rect x="34.5" y="228.6" width="1.1" height="1.1" fill="#000"/>
<rect x="39.5" y="226.1" width="1.1" height="1.1" fill="#000"/>
<rect x="35.7" y="220.7" width="1.1" height="1.1" fill="#000"/>
<rect x="37.1" y="225.3" width="1.1" height="1.1" fill="#000"/>
<rect x="33.1" y="221.3" width="1.1" height="1.1" fill="#000"/>
<rect x="32.5" y="227.0" width="1.1" height="1.1" fill="#000"/>
<rect x="34.3" y="233.6" width="1.1" height="1.1" fill="#000"/>
<rect x="39.7" y="223.8" width="1.1" height="1.1" fill="#000"/>
<rect x="34.1" y="231.5" width="1.1" height="1.1" fill="#000"/>
<rect x="37.3" y="223.2" width="1.1" height="1.1" fill="#000"/>
<rect x="37.9" y="219.7" width="1.1" height="1.1" fill="#000"/>
<rect x="32.4" y="225.9" width="1.1" height="1.1" fill="#000"/>
<rect x="38.5" y="231.4" width="1.1" height="1.1" fill="#000"/>
<rect x="41.7" y="218.9" width="1.1" height="1.1" fill="#000"/>
<rect x="34.9" y="221.0" width="1.1" height="1.1" fill="#000"/>
<rect x="33.9" y="219.5" width="1.1" height="1.1" fill="#000"/>
<rect x="40.0" y="233.8" width="1.1" height="1.1" fill="#000"/>
<rect x="35.4" y="226.1" width="1.1" height="1.1" fill="#000"/>
<rect x="40.9" y="227.5" width="1.1" height="1.1" fill="#000"/>
<rect x="41.1" y="231.7" width="1.1" height="1.1" fill="#000"/>
<rect x="40.6" y="229.2" width="1.1" height="1.1" fill="#000"/>
<rect x="39.4" y="232.9" width="1.1" height="1.1" fill="#000"/>
<rect x="40.8" y="222.1" width="1.1" height="1.1" fill="#000"/>
<rect x="35.7" y="227.6" width="1.1" height="1.1" fill="#000"/>
<rect x="36.2" y="217.6" width="1.1" height="1.1" fill="#000"/>
<rect x="40.5" y="229.6" width="1.1" height="1.1" fill="#000"/>
<rect x="38.1" y="224.6" width="1.1" height="1.1" fill="#000"/>
<rect x="38.8" y="226.0" width="1.1" height="1.1" fill="#000"/>
<rect x="41.4" y="228.1" width="1.1" height="1.1" fill="#000"/>
<rect x="41.1" y="213.1" width="1.1" height="1.1" fill="#000"/>
<rect x="34.4" y="215.0" width="1.1" height="1.1" fill="#000"/>
<rect x="35.4" y="224.7" width="1.1" height="1.1" fill="#000"/>
<rect x="39.4" y="221.6" width="1.1" height="1.1" fill="#000"/>
<rect x="34.0" y="222.9" width="1.1" height="1.1" fill="#000"/>
<rect x="35.1" y="204.6" width="1.1" height="1.1" fill="#000"/>
<rect x="33.1" y="229.5" width="1.1" height="1.1" fill="#000"/>
<rect x="39.7" y="219.6" width="1.1" height="1.1" fill="#000"/>
<rect x="32.3" y="225.8" width="1.1" height="1.1" fill="#000"/>
<rect x="40.1" y="230.3" width="1.1" height="1.1" fill="#000"/>
<rect x="36.9" y="211.2" width="1.1" height="1.1" fill="#000"/>
<rect x="37.6" y="222.0" width="1.1" height="1.1" fill="#000"/>
<rect x="36.8" y="232.4" width="1.1" height="1.1" fill="#000"/>
<rect x="39.1" y="219.9" width="1.1" height="1.1" fill="#000"/>
<rect x="40.5" y="229.5" width="1.1" height="1.1" fill="#000"/>
<rect x="35.4" y="227.2" width="1.1" height="1.1" fill="#000"/>
<rect x="36.9" y="221.7" width="1.1" height="1.1" fill="#000"/>
<rect x="34.6" y="217.6" width="1.1" height="1.1" fill="#000"/>
<rect x="33.2" y="221.6" width="1.1" height="1.1" fill="#000"/>
<rect x="42.2" y="220.5" width="1.1" height="1.1" fill="#000"/>
<rect x="41.2" y="229.9" width="1.1" height="1.1" fill="#000"/>
<rect x="40.8" y="234.3" width="1.1" height="1.1" fill="#000"/>
<rect x="38.2" y="208.2" width="1.1" height="1.1" fill="#000"/>
<rect x="39.3" y="225.2" width="1.1" height="1.1" fill="#000"/>
<rect x="38.6" y="221.8" width="1.1" height="1.1" fill="#000"/>
<rect x="42.1" y="221.4" width="1.1" height="1.1" fill="#000"/>
<rect x="37.3" y="231.3" width="1.1" height="1.1" fill="#000"/>
<rect x="35.9" y="220.4" width="1.1" height="1.1" fill="#000"/>
<rect x="41.2" y="219.1" width="1.1" height="1.1" fill="#000"/>
<rect x="39.2" y="228.0" width="1.1" height="1.1" fill="#000"/>
<rect x="36.9" y="225.1" width="1.1" height="1.1" fill="#000"/>
<rect x="36.4" y="231.4" width="1.1" height="1.1" fill="#000"/>
<rect x="38.2" y="228.6" width="1.1" height="1.1" fill="#000"/>
<rect x="38.0" y="215.9" width="1.1" height="1.1" fill="#000"/>
<rect x="36.4" y="227.8" width="1.1" height="1.1" fill="#000"/>
<rect x="41.4" y="227.1" width="1.1" height="1.1" fill="#000"/>
<rect x="37.9" y="226.7" width="1.1" height="1.1" fill="#000"/>
<rect x="35.5" y="232.8" width="1.1" height="1.1" fill="#000"/>
<rect x="34.0" y="231.5" width="1.1" height="1.1" fill="#000"/>
<rect x="37.3" y="218.5" width="1.1" height="1.1" fill="#000"/>
<rect x="38.0" y="223.3" width="1.1" height="1.1" fill="#000"/>
<rect x="33.4" y="225.5" width="1.1" height="1.1" fill="#000"/>
<rect x="37.6" y="231.5" width="1.1" height="1.1" fill="#000"/>
<rect x="36.5" y="221.7" width="1.1" height="1.1" fill="#000"/>
<rect x="33.0" y="222.7" width="1.1" height="1.1" fill="#000"/>
<rect x="37.8" y="209.6" width="1.1" height="1.1" fill="#000"/>
<rect x="39.5" y="228.5" width="1.1" height="1.1" fill="#000"/>
<rect x="42.6" y="224.6" width="1.1" height="1.1" fill="#000"/>
<rect x="39.7" y="220.5" width="1.1" height="1.1" fill="#000"/>
<rect x="36.6" y="232.7" width="1.1" height="1.1" fill="#000"/>
<rect x="34.5" y="230.6" width="1.1" height="1.1" fill="#000"/>
<rect x="39.8" y="231.3" width="1.1" height="1.1" fill="#000"/>
<rect x="33.7" y="221.9" width="1.1" height="1.1" fill="#000"/>
<rect x="34.7" y="224.8" width="1.1" height="1.1" fill="#000"/>
<rect x="36.1" y="221.7" width="1.1" height="1.1" fill="#000"/>
<rect x="35.0" y="231.8" width="1.1" height="1.1" fill="#000"/>
<rect x="35.4" y="225.2" width="1.1" height="1.1" fill="#000"/>
<rect x="41.5" y="222.2" width="1.1" height="1.1" fill="#000"/>
<rect x="38.6" y="216.3" width="1.1" height="1.1" fill="#000"/>
<rect x="41.4" y="229.4" width="1.1" height="1.1" fill="#000"/>
<rect x="40.9" y="217.0" width="1.1" height="1.1" fill="#000"/>
<rect x="35.9" y="228.9" width="1.1" height="1.1" fill="#000"/>
<rect x="39.6" y="232.4" width="1.1" height="1.1" fill="#000"/>
<rect x="33.8" y="218.1" width="1.1" height="1.1" fill="#000"/>
<rect x="36.5" y="210.9" width="1.1" height="1.1" fill="#000"/>
<rect x="39.7" y="222.9" width="1.1" height="1.1" fill="#000"/>
<rect x="34.8" y="205.1" width="1.1" height="1.1" fill="#000"/>
<rect x="37.9" y="221.5" width="1.1" height="1.1" fill="#000"/>
<rect x="40.6" y="222.2" width="1.1" height="1.1" fill="#000"/>
<rect x="38.7" y="234.0" width="1.1" height="1.1" fill="#000"/>
<rect x="35.5" y="232.6" width="1.1" height="1.1" fill="#000"/>
<rect x="40.9" y="226.5" width="1.1" height="1.1" fill="#000"/>
<rect x="38.2" y="230.1" width="1.1" height="1.1" fill="#000"/>
<rect x="33.4" y="225.3" width="1.1" height="1.1" fill="#000"/>
<rect x="40.6" y="225.2" width="1.1" height="1.1" fill="#000"/>
<rect x="35.3" y="227.2" width="1.1" height="1.1" fill="#000"/>
<rect x="39.1" y="230.9" width="1.1" height="1.1" fill="#000"/>
<rect x="41.3" y="221.2" width="1.1" height="1.1" fill="#000"/>
<rect x="37.8" y="226.5" width="1.1" height="1.1" fill="#000"/>
<rect x="41.9" y="219.1" width="1.1" height="1.1" fill="#000"/>
<rect x="33.8" y="210.9" width="1.1" height="1.1" fill="#000"/>
<rect x="37.5" y="221.9" width="1.1" height="1.1" fill="#000"/>
<rect x="41.2" y="227.1" width="1.1" height="1.1" fill="#000"/>
<rect x="34.1" y="224.9" width="1.1" height="1.1" fill="#000"/>
<rect x="40.7" y="222.4" width="1.1" height="1.1" fill="#000"/>
<rect x="37.2" y="221.0" width="1.1" height="1.1" fill="#000"/>
<rect x="34.2" y="217.2" width="1.1" height="1.1" fill="#000"/>
<rect x="41.2" y="227.5" width="1.1" height="1.1" fill="#000"/>
<rect x="38.5" y="217.8" width="1.1" height="1.1" fill="#000"/>
<rect x="34.7" y="228.8" width="1.1" height="1.1" fill="#000"/>
<rect x="41.5" y="226.7" width="1.1" height="1.1" fill="#000"/>
<rect x="34.0" y="222.4" width="1.1" height="1.1" fill="#000"/>
<rect x="36.0" y="223.2" width="1.1" height="1.1" fill="#000"/>
<rect x="36.5" y="214.2" width="1.1" height="1.1" fill="#000"/>
<rect x="35.9" y="225.9" width="1.1" height="1.1" fill="#000"/>
<rect x="36.0" y="231.7" width="1.1" height="1.1" fill="#000"/>
<rect x="32.5" y="224.7" width="1.1" height="1.1" fill="#000"/>
<rect x="35.2" y="201.8" width="1.1" height="1.1" fill="#000"/>
<rect x="34.0" y="228.5" width="1.1" height="1.1" fill="#000"/>
<rect x="35.1" y="221.4" width="1.1" height="1.1" fill="#000"/>
<rect x="37.5" y="218.8" width="1.1" height="1.1" fill="#000"/>
<rect x="37.7" y="223.7" width="1.1" height="1.1" fill="#000"/>
<rect x="41.3" y="231.6" width="1.1" height="1.1" fill="#000"/>
<rect x="38.1" y="225.9" width="1.1" height="1.1" fill="#000"/>
<rect x="40.3" y="224.3" width="1.1" height="1.1" fill="#000"/>
<rect x="38.6" y="231.0" width="1.1" height="1.1" fill="#000"/>
<rect x="38.6" y="214.5" width="1.1" height="1.1" fill="#000"/>
<rect x="40.4" y="220.2" width="1.1" height="1.1" fill="#000"/>
<rect x="41.1" y="227.8" width="1.1" height="1.1" fill="#000"/>
<rect x="35.8" y="232.2" width="1.1" height="1.1" fill="#000"/>
<rect x="40.1" y="219.9" width="1.1" height="1.1" fill="#000"/>
<rect x="38.9" y="223.8" width="1.1" height="1.1" fill="#000"/>
<rect x="36.1" y="214.9" width="1.1" height="1.1" fill="#000"/>
<rect x="33.4" y="216.7" width="1.1" height="1.1" fill="#000"/>
<rect x="35.8" y="221.9" width="1.1" height="1.1" fill="#000"/>
<rect x="37.3" y="213.8" width="1.1" height="1.1" fill="#000"/>
<rect x="36.7" y="239.1" width="1.1" height="1.1" fill="#000"/>
<rect x="35.9" y="224.6" width="1.1" height="1.1" fill="#000"/>
<rect x="33.9" y="228.5" width="1.1" height="1.1" fill="#000"/>
<rect x="37.1" y="235.6" width="1.1" height="1.1" fill="#000"/>
<rect x="36.9" y="225.0" width="1.1" height="1.1" fill="#000"/>
<rect x="34.3" y="218.3" width="1.1" height="1.1" fill="#000"/>
<rect x="33.0" y="221.6" width="1.1" height="1.1" fill="#000"/>
<rect x="39.8" y="222.3" width="1.1" height="1.1" fill="#000"/>
<rect x="37.9" y="228.9" width="1.1" height="1.1" fill="#000"/>
<rect x="41.5" y="229.1" width="1.1" height="1.1" fill="#000"/>
<rect x="38.3" y="221.7" width="1.1" height="1.1" fill="#000"/>
<rect x="38.3" y="227.5" width="1.1" height="1.1" fill="#000"/>
<rect x="42.5" y="226.1" width="1.1" height="1.1" fill="#000"/>
<rect x="36.8" y="215.9" width="1.1" height="1.1" fill="#000"/>
<rect x="40.5" y="231.9" width="1.1" height="1.1" fill="#000"/>
<rect x="41.1" y="230.2" width="1.1" height="1.1" fill="#000"/>
<rect x="35.2" y="227.1" width="1.1" height="1.1" fill="#000"/>
<rect x="34.0" y="224.4" width="1.1" height="1.1" fill="#000"/>
<rect x="35.1" y="225.6" width="1.1" height="1.1" fill="#000"/>
<rect x="36.4" y="222.9" width="1.1" height="1.1" fill="#000"/>
<rect x="34.5" y="219.1" width="1.1" height="1.1" fill="#000"/>
<rect x="38.6" y="211.7" width="1.1" height="1.1" fill="#000"/>
<rect x="34.8" y="214.8" width="1.1" height="1.1" fill="#000"/>
<rect x="38.5" y="222.4" width="1.1" height="1.1" fill="#000"/>
<rect x="35.1" y="204.0" width="1.1" height="1.1" fill="#000"/>
<rect x="35.9" y="228.5" width="1.1" height="1.1" fill="#000"/>
<rect x="34.9" y="209.2" width="1.1" height="1.1" fill="#000"/>
<rect x="41.2" y="227.0" width="1.1" height="1.1" fill="#000"/>
<rect x="38.7" y="230.8" width="1.1" height="1.1" fill="#000"/>
<rect x="35.7" y="227.8" width="1.1" height="1.1" fill="#000"/>
<rect x="40.0" y="221.9" width="1.1" height="1.1" fill="#000"/>
<rect x="39.2" y="219.6" width="1.1" height="1.1" fill="#000"/>
<rect x="35.9" y="217.9" width="1.1" height="1.1" fill="#000"/>
<rect x="33.2" y="229.8" width="1.1" height="1.1" fill="#000"/>
<rect x="38.7" y="226.5" width="1.1" height="1.1" fill="#000"/>
<rect x="38.4" y="219.7" width="1.1" height="1.1" fill="#000"/>
<rect x="35.2" y="230.0" width="1.1" height="1.1" fill="#000"/>
<rect x="41.9" y="223.2" width="1.1" height="1.1" fill="#000"/>
<rect x="38.1" y="224.7" width="1.1" height="1.1" fill="#000"/>
<rect x="38.6" y="226.3" width="1.1" height="1.1" fill="#000"/>
<rect x="39.8" y="224.2" width="1.1" height="1.1" fill="#000"/>
<rect x="33.9" y="222.8" width="1.1" height="1.1" fill="#000"/>
<rect x="33.8" y="226.6" width="1.1" height="1.1" fill="#000"/>
<rect x="40.7" y="224.7" width="1.1" height="1.1" fill="#000"/>
<rect x="36.7" y="221.0" width="1.1" height="1.1" fill="#000"/>
<rect x="37.9" y="214.1" width="1.1" height="1.1" fill="#000"/>
<rect x="39.1" y="221.9" width="1.1" height="1.1" fill="#000"/>
<rect x="39.8" y="218.7" width="1.1" height="1.1" fill="#000"/>
<rect x="35.0" y="220.2" width="1.1" height="1.1" fill="#000"/>
<rect x="40.3" y="221.2" width="1.1" height="1.1" fill="#000"/>
<rect x="36.0" y="211.3" width="1.1" height="1.1" fill="#000"/>
<rect x="37.0" y="226.6" width="1.1" height="1.1" fill="#000"/>
<rect x="36.3" y="202.6" width="1.1" height="1.1" fill="#000"/>
<rect x="35.3" y="205.6" width="1.1" height="1.1" fill="#000"/>
<rect x="32.4" y="221.7" width="1.1" height="1.1" fill="#000"/>
<rect x="31.50" y="221.50" width="13.20" height="7.20" fill="none" stroke="#333" stroke-width="0.7"/>
<line x1="31.5" y1="225.0" x2="44.7" y2="225.0" stroke="#333" stroke-width="0.9"/>
<line x1="56.0" y1="184.0" x2="56.0" y2="196.2" stroke="#2a2aff" stroke-width="0.6"/>
<line x1="56.0" y1="216.5" x2="56.0" y2="232.6" stroke="#2a2aff" stroke-width="0.6"/>
<rect x="49.30" y="196.20" width="13.50" height="20.30" fill="none" stroke="#2a2aff" stroke-width="0.7"/>
<line x1="49.3" y1="211.2" x2="62.8" y2="211.2" stroke="#2a2aff" stroke-width="0.9"/>
<circle cx="55.5" cy="184.5" r="0.75" fill="#2a2aff"/>
<circle cx="54.5" cy="195.0" r="0.75" fill="#2a2aff"/>
<circle cx="56.0" cy="204.5" r="0.75" fill="#2a2aff"/>
<circle cx="53.5" cy="214.5" r="0.75" fill="#2a2aff"/>
<circle cx="58.5" cy="218.0" r="0.75" fill="#2a2aff"/>
<circle cx="58.5" cy="221.0" r="0.75" fill="#2a2aff"/>
<line x1="74.0" y1="218.6" x2="74.0" y2="221.2" stroke="#ff3030" stroke-width="0.6"/>
<line x1="74.0" y1="225.7" x2="74.0" y2="231.3" stroke="#ff3030" stroke-width="0.6"/>
<rect x="67.30" y="221.20" width="13.50" height="4.50" fill="none" stroke="#ff3030" stroke-width="0.7"/>
<line x1="67.3" y1="225.2" x2="80.8" y2="225.2" stroke="#ff3030" stroke-width="0.9"/>
<circle cx="70.0" cy="221.5" r="0.75" fill="#ff3030"/>
<circle cx="74.0" cy="222.5" r="0.75" fill="#ff3030"/>
<circle cx="75.0" cy="231.0" r="0.75" fill="#ff3030"/>
<line x1="108.9" y1="149.2" x2="108.9" y2="241.4" stroke="#9a9a9a" stroke-width="0.9"/>
<line x1="108.9" y1="241.4" x2="166.7" y2="241.4" stroke="#9a9a9a" stroke-width="0.9"/>
<line x1="107.4" y1="177.5" x2="108.9" y2="177.5" stroke="#9a9a9a" stroke-width="0.6"/>
<text x="106.9" y="178.7" font-size="3.4" text-anchor="end" fill="#555">10000</text>
<line x1="107.4" y1="211.6" x2="108.9" y2="211.6" stroke="#9a9a9a" stroke-width="0.6"/>
<text x="106.9" y="212.8" font-size="3.4" text-anchor="end" fill="#555">5000</text>
<text transform="translate(94.9,195.5) rotate(-90)" x="0" y="1.9" font-size="5.6" font-weight="bold" text-anchor="middle" textLength="77.0" lengthAdjust="spacingAndGlyphs" fill="#000" stroke="#000" stroke-width="0.12">ATP6V1E1 Expression (FPKM)</text>
<text x="130.0" y="151.6" font-size="6.2" font-weight="bold" textLength="31.9" lengthAdjust="spacingAndGlyphs" fill="#000" stroke="#000" stroke-width="0.1">p.adj=0.534</text>
<path d="M137.6,154.7 V153.1 H156.6 V154.7" stroke="#999" stroke-width="0.6" fill="none"/>
<text x="122.8" y="164.1" font-size="6.2" font-weight="bold" textLength="31.6" lengthAdjust="spacingAndGlyphs" fill="#000" stroke="#000" stroke-width="0.1">p.adj=0.534</text>
<path d="M119.4,167.2 V165.6 H156.6 V167.2" stroke="#999" stroke-width="0.6" fill="none"/>
<text x="112.0" y="175.6" font-size="6.2" font-weight="bold" textLength="31.5" lengthAdjust="spacingAndGlyphs" fill="#000" stroke="#000" stroke-width="0.1">p.adj=0.021</text>
<path d="M119.4,179.1 V177.5 H138.2 V179.1" stroke="#999" stroke-width="0.6" fill="none"/>
<rect x="121.1" y="211.5" width="1.1" height="1.1" fill="#000"/>
<rect x="117.6" y="225.6" width="1.1" height="1.1" fill="#000"/>
<rect x="121.4" y="228.0" width="1.1" height="1.1" fill="#000"/>
<rect x="114.9" y="224.0" width="1.1" height="1.1" fill="#000"/>
<rect x="114.7" y="227.1" width="1.1" height="1.1" fill="#000"/>
<rect x="119.0" y="224.9" width="1.1" height="1.1" fill="#000"/>
<rect x="123.2" y="219.1" width="1.1" height="1.1" fill="#000"/>
<rect x="117.6" y="222.5" width="1.1" height="1.1" fill="#000"/>
<rect x="121.3" y="226.3" width="1.1" height="1.1" fill="#000"/>
<rect x="123.0" y="227.0" width="1.1" height="1.1" fill="#000"/>
<rect x="121.7" y="225.1" width="1.1" height="1.1" fill="#000"/>
<rect x="116.4" y="225.5" width="1.1" height="1.1" fill="#000"/>
<rect x="120.1" y="230.3" width="1.1" height="1.1" fill="#000"/>
<rect x="117.4" y="223.3" width="1.1" height="1.1" fill="#000"/>
<rect x="117.2" y="226.2" width="1.1" height="1.1" fill="#000"/>
<rect x="122.5" y="215.0" width="1.1" height="1.1" fill="#000"/>
<rect x="115.4" y="230.8" width="1.1" height="1.1" fill="#000"/>
<rect x="120.2" y="229.5" width="1.1" height="1.1" fill="#000"/>
<rect x="115.7" y="209.8" width="1.1" height="1.1" fill="#000"/>
<rect x="119.5" y="230.2" width="1.1" height="1.1" fill="#000"/>
<rect x="121.9" y="207.4" width="1.1" height="1.1" fill="#000"/>
<rect x="120.0" y="230.5" width="1.1" height="1.1" fill="#000"/>
<rect x="116.6" y="225.1" width="1.1" height="1.1" fill="#000"/>
<rect x="118.3" y="228.2" width="1.1" height="1.1" fill="#000"/>
<rect x="121.5" y="224.8" width="1.1" height="1.1" fill="#000"/>
<rect x="120.3" y="227.8" width="1.1" height="1.1" fill="#000"/>
<rect x="116.4" y="215.8" width="1.1" height="1.1" fill="#000"/>
<rect x="119.3" y="238.3" width="1.1" height="1.1" fill="#000"/>
<rect x="122.1" y="230.0" width="1.1" height="1.1" fill="#000"/>
<rect x="117.3" y="232.8" width="1.1" height="1.1" fill="#000"/>
<rect x="116.8" y="224.5" width="1.1" height="1.1" fill="#000"/>
<rect x="117.8" y="207.7" width="1.1" height="1.1" fill="#000"/>
<rect x="116.8" y="205.6" width="1.1" height="1.1" fill="#000"/>
<rect x="120.8" y="225.4" width="1.1" height="1.1" fill="#000"/>
<rect x="119.7" y="216.4" width="1.1" height="1.1" fill="#000"/>
<rect x="122.6" y="218.8" width="1.1" height="1.1" fill="#000"/>
<rect x="117.6" y="227.0" width="1.1" height="1.1" fill="#000"/>
<rect x="120.8" y="234.5" width="1.1" height="1.1" fill="#000"/>
<rect x="122.5" y="226.5" width="1.1" height="1.1" fill="#000"/>
<rect x="123.8" y="220.1" width="1.1" height="1.1" fill="#000"/>
<rect x="115.1" y="223.9" width="1.1" height="1.1" fill="#000"/>
<rect x="123.7" y="225.5" width="1.1" height="1.1" fill="#000"/>
<rect x="116.8" y="235.4" width="1.1" height="1.1" fill="#000"/>
<rect x="121.3" y="225.1" width="1.1" height="1.1" fill="#000"/>
<rect x="120.7" y="226.9" width="1.1" height="1.1" fill="#000"/>
<rect x="114.9" y="226.2" width="1.1" height="1.1" fill="#000"/>
<rect x="120.8" y="213.7" width="1.1" height="1.1" fill="#000"/>
<rect x="121.5" y="233.9" width="1.1" height="1.1" fill="#000"/>
<rect x="116.3" y="225.7" width="1.1" height="1.1" fill="#000"/>
<rect x="121.9" y="224.2" width="1.1" height="1.1" fill="#000"/>
<rect x="119.0" y="223.5" width="1.1" height="1.1" fill="#000"/>
<rect x="116.3" y="222.1" width="1.1" height="1.1" fill="#000"/>
<rect x="114.3" y="220.6" width="1.1" height="1.1" fill="#000"/>
<rect x="123.8" y="225.4" width="1.1" height="1.1" fill="#000"/>
<rect x="115.5" y="217.0" width="1.1" height="1.1" fill="#000"/>
<rect x="118.9" y="233.8" width="1.1" height="1.1" fill="#000"/>
<rect x="115.9" y="227.9" width="1.1" height="1.1" fill="#000"/>
<rect x="120.7" y="228.4" width="1.1" height="1.1" fill="#000"/>
<rect x="119.0" y="229.3" width="1.1" height="1.1" fill="#000"/>
<rect x="115.8" y="231.0" width="1.1" height="1.1" fill="#000"/>
<rect x="122.9" y="218.1" width="1.1" height="1.1" fill="#000"/>
<rect x="117.6" y="229.1" width="1.1" height="1.1" fill="#000"/>
<rect x="122.6" y="227.3" width="1.1" height="1.1" fill="#000"/>
<rect x="120.2" y="237.2" width="1.1" height="1.1" fill="#000"/>
<rect x="116.6" y="223.6" width="1.1" height="1.1" fill="#000"/>
<rect x="114.8" y="227.5" width="1.1" height="1.1" fill="#000"/>
<rect x="118.2" y="230.2" width="1.1" height="1.1" fill="#000"/>
<rect x="119.5" y="226.0" width="1.1" height="1.1" fill="#000"/>
<rect x="120.8" y="223.6" width="1.1" height="1.1" fill="#000"/>
<rect x="120.5" y="225.0" width="1.1" height="1.1" fill="#000"/>
<rect x="120.5" y="213.5" width="1.1" height="1.1" fill="#000"/>
<rect x="123.7" y="221.4" width="1.1" height="1.1" fill="#000"/>
<rect x="118.1" y="230.0" width="1.1" height="1.1" fill="#000"/>
<rect x="117.4" y="214.3" width="1.1" height="1.1" fill="#000"/>
<rect x="118.3" y="203.3" width="1.1" height="1.1" fill="#000"/>
<rect x="118.0" y="231.0" width="1.1" height="1.1" fill="#000"/>
<rect x="123.8" y="220.2" width="1.1" height="1.1" fill="#000"/>
<rect x="114.1" y="225.9" width="1.1" height="1.1" fill="#000"/>
<rect x="117.2" y="208.4" width="1.1" height="1.1" fill="#000"/>
<rect x="119.8" y="211.6" width="1.1" height="1.1" fill="#000"/>
<rect x="116.0" y="219.7" width="1.1" height="1.1" fill="#000"/>
<rect x="115.2" y="227.0" width="1.1" height="1.1" fill="#000"/>
<rect x="122.6" y="229.3" width="1.1" height="1.1" fill="#000"/>
<rect x="115.4" y="211.3" width="1.1" height="1.1" fill="#000"/>
<rect x="120.4" y="221.7" width="1.1" height="1.1" fill="#000"/>
<rect x="119.4" y="217.0" width="1.1" height="1.1" fill="#000"/>
<rect x="114.6" y="214.8" width="1.1" height="1.1" fill="#000"/>
<rect x="120.3" y="236.7" width="1.1" height="1.1" fill="#000"/>
<rect x="119.8" y="228.1" width="1.1" height="1.1" fill="#000"/>
<rect x="123.4" y="215.9" width="1.1" height="1.1" fill="#000"/>
<rect x="121.4" y="225.1" width="1.1" height="1.1" fill="#000"/>
<rect x="118.0" y="231.5" width="1.1" height="1.1" fill="#000"/>
<rect x="119.2" y="222.3" width="1.1" height="1.1" fill="#000"/>
<rect x="120.0" y="215.7" width="1.1" height="1.1" fill="#000"/>
<rect x="120.2" y="220.9" width="1.1" height="1.1" fill="#000"/>
<rect x="119.3" y="217.3" width="1.1" height="1.1" fill="#000"/>
<rect x="116.6" y="225.6" width="1.1" height="1.1" fill="#000"/>
<rect x="122.2" y="231.2" width="1.1" height="1.1" fill="#000"/>
<rect x="119.1" y="210.3" width="1.1" height="1.1" fill="#000"/>
<rect x="118.7" y="225.8" width="1.1" height="1.1" fill="#000"/>
<rect x="123.2" y="224.9" width="1.1" height="1.1" fill="#000"/>
<rect x="119.2" y="227.2" width="1.1" height="1.1" fill="#000"/>
<rect x="121.6" y="213.6" width="1.1" height="1.1" fill="#000"/>
<rect x="116.3" y="222.8" width="1.1" height="1.1" fill="#000"/>
<rect x="118.6" y="228.8" width="1.1" height="1.1" fill="#000"/>
<rect x="120.0" y="232.7" width="1.1" height="1.1" fill="#000"/>
<rect x="122.2" y="229.4" width="1.1" height="1.1" fill="#000"/>
<rect x="115.9" y="207.6" width="1.1" height="1.1" fill="#000"/>
<rect x="121.5" y="212.0" width="1.1" height="1.1" fill="#000"/>
<rect x="115.9" y="230.9" width="1.1" height="1.1" fill="#000"/>
<rect x="115.1" y="226.6" width="1.1" height="1.1" fill="#000"/>
<rect x="117.6" y="227.6" width="1.1" height="1.1" fill="#000"/>
<rect x="118.5" y="226.4" width="1.1" height="1.1" fill="#000"/>
<rect x="115.4" y="214.1" width="1.1" height="1.1" fill="#000"/>
<rect x="119.9" y="200.2" width="1.1" height="1.1" fill="#000"/>
<rect x="118.6" y="234.8" width="1.1" height="1.1" fill="#000"/>
<rect x="120.8" y="208.5" width="1.1" height="1.1" fill="#000"/>
<rect x="115.5" y="225.7" width="1.1" height="1.1" fill="#000"/>
<rect x="119.2" y="220.8" width="1.1" height="1.1" fill="#000"/>
<rect x="116.6" y="216.7" width="1.1" height="1.1" fill="#000"/>
<rect x="117.8" y="218.8" width="1.1" height="1.1" fill="#000"/>
<rect x="114.4" y="227.8" width="1.1" height="1.1" fill="#000"/>
<rect x="114.6" y="226.4" width="1.1" height="1.1" fill="#000"/>
<rect x="116.3" y="230.6" width="1.1" height="1.1" fill="#000"/>
<rect x="117.2" y="223.0" width="1.1" height="1.1" fill="#000"/>
<rect x="116.6" y="217.4" width="1.1" height="1.1" fill="#000"/>
<rect x="120.3" y="225.6" width="1.1" height="1.1" fill="#000"/>
<rect x="122.5" y="221.0" width="1.1" height="1.1" fill="#000"/>
<rect x="121.8" y="226.0" width="1.1" height="1.1" fill="#000"/>
<rect x="120.0" y="229.5" width="1.1" height="1.1" fill="#000"/>
<rect x="118.4" y="222.6" width="1.1" height="1.1" fill="#000"/>
<rect x="117.6" y="225.5" width="1.1" height="1.1" fill="#000"/>
<rect x="118.0" y="222.7" width="1.1" height="1.1" fill="#000"/>
<rect x="120.3" y="217.1" width="1.1" height="1.1" fill="#000"/>
<rect x="117.8" y="226.2" width="1.1" height="1.1" fill="#000"/>
<rect x="119.7" y="216.7" width="1.1" height="1.1" fill="#000"/>
<rect x="123.5" y="227.4" width="1.1" height="1.1" fill="#000"/>
<rect x="121.0" y="221.8" width="1.1" height="1.1" fill="#000"/>
<rect x="117.5" y="215.2" width="1.1" height="1.1" fill="#000"/>
<rect x="115.2" y="229.8" width="1.1" height="1.1" fill="#000"/>
<rect x="119.2" y="224.6" width="1.1" height="1.1" fill="#000"/>
<rect x="118.9" y="215.7" width="1.1" height="1.1" fill="#000"/>
<rect x="115.2" y="231.3" width="1.1" height="1.1" fill="#000"/>
<rect x="119.8" y="215.7" width="1.1" height="1.1" fill="#000"/>
<rect x="121.9" y="214.7" width="1.1" height="1.1" fill="#000"/>
<rect x="118.1" y="225.7" width="1.1" height="1.1" fill="#000"/>
<rect x="118.6" y="205.8" width="1.1" height="1.1" fill="#000"/>
<rect x="118.9" y="226.2" width="1.1" height="1.1" fill="#000"/>
<rect x="120.1" y="207.7" width="1.1" height="1.1" fill="#000"/>
<rect x="121.3" y="223.2" width="1.1" height="1.1" fill="#000"/>
<rect x="120.7" y="222.3" width="1.1" height="1.1" fill="#000"/>
<rect x="119.5" y="225.3" width="1.1" height="1.1" fill="#000"/>
<rect x="115.2" y="225.5" width="1.1" height="1.1" fill="#000"/>
<rect x="116.9" y="209.1" width="1.1" height="1.1" fill="#000"/>
<rect x="116.0" y="232.6" width="1.1" height="1.1" fill="#000"/>
<rect x="115.2" y="228.7" width="1.1" height="1.1" fill="#000"/>
<rect x="114.5" y="224.6" width="1.1" height="1.1" fill="#000"/>
<rect x="120.4" y="212.8" width="1.1" height="1.1" fill="#000"/>
<rect x="114.5" y="221.9" width="1.1" height="1.1" fill="#000"/>
<rect x="120.6" y="214.4" width="1.1" height="1.1" fill="#000"/>
<rect x="123.2" y="214.1" width="1.1" height="1.1" fill="#000"/>
<rect x="122.0" y="227.7" width="1.1" height="1.1" fill="#000"/>
<rect x="117.3" y="226.4" width="1.1" height="1.1" fill="#000"/>
<rect x="119.1" y="220.8" width="1.1" height="1.1" fill="#000"/>
<rect x="117.9" y="238.3" width="1.1" height="1.1" fill="#000"/>
<rect x="116.6" y="225.0" width="1.1" height="1.1" fill="#000"/>
<rect x="122.5" y="221.8" width="1.1" height="1.1" fill="#000"/>
<rect x="119.5" y="228.0" width="1.1" height="1.1" fill="#000"/>
<rect x="115.0" y="215.1" width="1.1" height="1.1" fill="#000"/>
<rect x="117.0" y="223.8" width="1.1" height="1.1" fill="#000"/>
<rect x="121.9" y="230.5" width="1.1" height="1.1" fill="#000"/>
<rect x="117.0" y="212.4" width="1.1" height="1.1" fill="#000"/>
<rect x="119.3" y="224.9" width="1.1" height="1.1" fill="#000"/>
<rect x="117.7" y="226.0" width="1.1" height="1.1" fill="#000"/>
<rect x="119.7" y="214.3" width="1.1" height="1.1" fill="#000"/>
<rect x="117.6" y="225.7" width="1.1" height="1.1" fill="#000"/>
<rect x="123.1" y="225.5" width="1.1" height="1.1" fill="#000"/>
<rect x="119.5" y="218.7" width="1.1" height="1.1" fill="#000"/>
<rect x="119.3" y="228.6" width="1.1" height="1.1" fill="#000"/>
<rect x="118.0" y="225.8" width="1.1" height="1.1" fill="#000"/>
<rect x="116.9" y="217.1" width="1.1" height="1.1" fill="#000"/>
<rect x="121.9" y="221.3" width="1.1" height="1.1" fill="#000"/>
<rect x="121.9" y="220.8" width="1.1" height="1.1" fill="#000"/>
<rect x="119.7" y="232.1" width="1.1" height="1.1" fill="#000"/>
<rect x="118.6" y="204.3" width="1.1" height="1.1" fill="#000"/>
<rect x="122.5" y="227.7" width="1.1" height="1.1" fill="#000"/>
<rect x="120.2" y="229.4" width="1.1" height="1.1" fill="#000"/>
<rect x="114.5" y="226.3" width="1.1" height="1.1" fill="#000"/>
<rect x="119.9" y="225.7" width="1.1" height="1.1" fill="#000"/>
<rect x="115.8" y="221.8" width="1.1" height="1.1" fill="#000"/>
<rect x="121.5" y="230.1" width="1.1" height="1.1" fill="#000"/>
<rect x="118.9" y="219.0" width="1.1" height="1.1" fill="#000"/>
<rect x="117.0" y="218.2" width="1.1" height="1.1" fill="#000"/>
<rect x="116.6" y="212.5" width="1.1" height="1.1" fill="#000"/>
<rect x="123.1" y="225.9" width="1.1" height="1.1" fill="#000"/>
<rect x="116.1" y="220.2" width="1.1" height="1.1" fill="#000"/>
<rect x="121.7" y="226.3" width="1.1" height="1.1" fill="#000"/>
<rect x="123.4" y="225.8" width="1.1" height="1.1" fill="#000"/>
<rect x="116.9" y="213.1" width="1.1" height="1.1" fill="#000"/>
<rect x="122.7" y="228.2" width="1.1" height="1.1" fill="#000"/>
<rect x="114.5" y="222.4" width="1.1" height="1.1" fill="#000"/>
<rect x="120.8" y="219.6" width="1.1" height="1.1" fill="#000"/>
<rect x="117.5" y="233.6" width="1.1" height="1.1" fill="#000"/>
<rect x="116.4" y="226.9" width="1.1" height="1.1" fill="#000"/>
<rect x="119.5" y="217.6" width="1.1" height="1.1" fill="#000"/>
<rect x="115.6" y="220.6" width="1.1" height="1.1" fill="#000"/>
<rect x="122.1" y="228.2" width="1.1" height="1.1" fill="#000"/>
<rect x="115.6" y="220.3" width="1.1" height="1.1" fill="#000"/>
<rect x="118.0" y="228.7" width="1.1" height="1.1" fill="#000"/>
<rect x="116.6" y="200.5" width="1.1" height="1.1" fill="#000"/>
<rect x="116.5" y="215.1" width="1.1" height="1.1" fill="#000"/>
<rect x="119.4" y="229.3" width="1.1" height="1.1" fill="#000"/>
<rect x="121.0" y="229.1" width="1.1" height="1.1" fill="#000"/>
<rect x="118.3" y="227.5" width="1.1" height="1.1" fill="#000"/>
<rect x="122.2" y="222.5" width="1.1" height="1.1" fill="#000"/>
<rect x="115.3" y="220.4" width="1.1" height="1.1" fill="#000"/>
<rect x="121.0" y="238.3" width="1.1" height="1.1" fill="#000"/>
<rect x="119.1" y="210.6" width="1.1" height="1.1" fill="#000"/>
<rect x="121.4" y="222.3" width="1.1" height="1.1" fill="#000"/>
<rect x="118.9" y="228.9" width="1.1" height="1.1" fill="#000"/>
<rect x="118.8" y="226.4" width="1.1" height="1.1" fill="#000"/>
<rect x="122.6" y="222.8" width="1.1" height="1.1" fill="#000"/>
<rect x="115.3" y="215.3" width="1.1" height="1.1" fill="#000"/>
<rect x="115.6" y="218.0" width="1.1" height="1.1" fill="#000"/>
<rect x="122.4" y="221.9" width="1.1" height="1.1" fill="#000"/>
<rect x="117.2" y="234.9" width="1.1" height="1.1" fill="#000"/>
<rect x="119.9" y="225.6" width="1.1" height="1.1" fill="#000"/>
<rect x="123.6" y="223.4" width="1.1" height="1.1" fill="#000"/>
<rect x="120.2" y="212.4" width="1.1" height="1.1" fill="#000"/>
<rect x="116.0" y="234.4" width="1.1" height="1.1" fill="#000"/>
<rect x="116.5" y="219.5" width="1.1" height="1.1" fill="#000"/>
<rect x="121.1" y="229.2" width="1.1" height="1.1" fill="#000"/>
<rect x="117.1" y="228.3" width="1.1" height="1.1" fill="#000"/>
<rect x="115.7" y="232.4" width="1.1" height="1.1" fill="#000"/>
<rect x="119.5" y="220.7" width="1.1" height="1.1" fill="#000"/>
<rect x="121.8" y="223.0" width="1.1" height="1.1" fill="#000"/>
<rect x="114.7" y="216.2" width="1.1" height="1.1" fill="#000"/>
<rect x="119.1" y="218.8" width="1.1" height="1.1" fill="#000"/>
<rect x="115.8" y="230.4" width="1.1" height="1.1" fill="#000"/>
<rect x="119.7" y="228.6" width="1.1" height="1.1" fill="#000"/>
<rect x="120.5" y="219.2" width="1.1" height="1.1" fill="#000"/>
<rect x="115.8" y="228.3" width="1.1" height="1.1" fill="#000"/>
<rect x="117.5" y="230.2" width="1.1" height="1.1" fill="#000"/>
<rect x="121.1" y="234.9" width="1.1" height="1.1" fill="#000"/>
<rect x="115.7" y="228.5" width="1.1" height="1.1" fill="#000"/>
<rect x="115.2" y="217.1" width="1.1" height="1.1" fill="#000"/>
<rect x="118.9" y="226.3" width="1.1" height="1.1" fill="#000"/>
<rect x="119.3" y="221.4" width="1.1" height="1.1" fill="#000"/>
<rect x="115.9" y="228.6" width="1.1" height="1.1" fill="#000"/>
<rect x="119.3" y="228.2" width="1.1" height="1.1" fill="#000"/>
<rect x="116.2" y="215.9" width="1.1" height="1.1" fill="#000"/>
<rect x="118.0" y="224.1" width="1.1" height="1.1" fill="#000"/>
<rect x="116.4" y="225.2" width="1.1" height="1.1" fill="#000"/>
<rect x="122.6" y="226.9" width="1.1" height="1.1" fill="#000"/>
<rect x="115.9" y="205.5" width="1.1" height="1.1" fill="#000"/>
<rect x="123.4" y="224.2" width="1.1" height="1.1" fill="#000"/>
<rect x="119.4" y="208.6" width="1.1" height="1.1" fill="#000"/>
<rect x="120.8" y="225.1" width="1.1" height="1.1" fill="#000"/>
<rect x="115.5" y="225.5" width="1.1" height="1.1" fill="#000"/>
<rect x="117.2" y="232.7" width="1.1" height="1.1" fill="#000"/>
<rect x="119.1" y="229.4" width="1.1" height="1.1" fill="#000"/>
<rect x="116.9" y="225.4" width="1.1" height="1.1" fill="#000"/>
<rect x="119.7" y="226.1" width="1.1" height="1.1" fill="#000"/>
<rect x="116.3" y="222.1" width="1.1" height="1.1" fill="#000"/>
<rect x="120.6" y="211.4" width="1.1" height="1.1" fill="#000"/>
<rect x="115.1" y="215.6" width="1.1" height="1.1" fill="#000"/>
<rect x="123.8" y="224.6" width="1.1" height="1.1" fill="#000"/>
<rect x="115.3" y="231.2" width="1.1" height="1.1" fill="#000"/>
<rect x="121.6" y="214.3" width="1.1" height="1.1" fill="#000"/>
<rect x="117.6" y="215.1" width="1.1" height="1.1" fill="#000"/>
<rect x="123.1" y="226.5" width="1.1" height="1.1" fill="#000"/>
<rect x="114.7" y="215.1" width="1.1" height="1.1" fill="#000"/>
<rect x="118.1" y="229.2" width="1.1" height="1.1" fill="#000"/>
<rect x="114.9" y="221.1" width="1.1" height="1.1" fill="#000"/>
<rect x="120.7" y="224.7" width="1.1" height="1.1" fill="#000"/>
<rect x="116.4" y="232.6" width="1.1" height="1.1" fill="#000"/>
<rect x="116.0" y="221.7" width="1.1" height="1.1" fill="#000"/>
<rect x="116.2" y="226.7" width="1.1" height="1.1" fill="#000"/>
<rect x="123.0" y="212.5" width="1.1" height="1.1" fill="#000"/>
<rect x="120.6" y="236.4" width="1.1" height="1.1" fill="#000"/>
<rect x="121.3" y="214.0" width="1.1" height="1.1" fill="#000"/>
<rect x="123.0" y="225.2" width="1.1" height="1.1" fill="#000"/>
<rect x="115.9" y="224.5" width="1.1" height="1.1" fill="#000"/>
<rect x="119.9" y="211.6" width="1.1" height="1.1" fill="#000"/>
<rect x="115.3" y="229.4" width="1.1" height="1.1" fill="#000"/>
<rect x="120.6" y="211.4" width="1.1" height="1.1" fill="#000"/>
<rect x="123.5" y="221.3" width="1.1" height="1.1" fill="#000"/>
<rect x="120.6" y="226.9" width="1.1" height="1.1" fill="#000"/>
<rect x="122.2" y="224.3" width="1.1" height="1.1" fill="#000"/>
<rect x="123.2" y="219.6" width="1.1" height="1.1" fill="#000"/>
<rect x="121.6" y="231.3" width="1.1" height="1.1" fill="#000"/>
<rect x="121.7" y="216.1" width="1.1" height="1.1" fill="#000"/>
<rect x="121.9" y="216.3" width="1.1" height="1.1" fill="#000"/>
<rect x="121.7" y="219.3" width="1.1" height="1.1" fill="#000"/>
<rect x="123.4" y="227.4" width="1.1" height="1.1" fill="#000"/>
<rect x="119.3" y="218.9" width="1.1" height="1.1" fill="#000"/>
<rect x="123.5" y="226.8" width="1.1" height="1.1" fill="#000"/>
<rect x="121.8" y="223.0" width="1.1" height="1.1" fill="#000"/>
<rect x="116.3" y="224.2" width="1.1" height="1.1" fill="#000"/>
<rect x="116.9" y="234.0" width="1.1" height="1.1" fill="#000"/>
<rect x="118.9" y="218.1" width="1.1" height="1.1" fill="#000"/>
<rect x="123.0" y="225.4" width="1.1" height="1.1" fill="#000"/>
<rect x="117.9" y="218.8" width="1.1" height="1.1" fill="#000"/>
<rect x="121.2" y="211.4" width="1.1" height="1.1" fill="#000"/>
<rect x="123.3" y="226.5" width="1.1" height="1.1" fill="#000"/>
<rect x="121.5" y="211.3" width="1.1" height="1.1" fill="#000"/>
<rect x="120.5" y="221.3" width="1.1" height="1.1" fill="#000"/>
<rect x="122.3" y="225.6" width="1.1" height="1.1" fill="#000"/>
<rect x="122.1" y="218.0" width="1.1" height="1.1" fill="#000"/>
<rect x="121.5" y="230.1" width="1.1" height="1.1" fill="#000"/>
<rect x="114.8" y="230.2" width="1.1" height="1.1" fill="#000"/>
<rect x="115.1" y="224.6" width="1.1" height="1.1" fill="#000"/>
<rect x="120.0" y="226.4" width="1.1" height="1.1" fill="#000"/>
<rect x="118.6" y="215.8" width="1.1" height="1.1" fill="#000"/>
<rect x="117.5" y="221.3" width="1.1" height="1.1" fill="#000"/>
<rect x="122.2" y="227.4" width="1.1" height="1.1" fill="#000"/>
<rect x="115.0" y="219.0" width="1.1" height="1.1" fill="#000"/>
<rect x="116.8" y="219.4" width="1.1" height="1.1" fill="#000"/>
<rect x="120.5" y="221.5" width="1.1" height="1.1" fill="#000"/>
<rect x="121.6" y="215.2" width="1.1" height="1.1" fill="#000"/>
<rect x="115.0" y="230.0" width="1.1" height="1.1" fill="#000"/>
<rect x="121.8" y="229.7" width="1.1" height="1.1" fill="#000"/>
<rect x="123.5" y="226.1" width="1.1" height="1.1" fill="#000"/>
<rect x="117.7" y="228.1" width="1.1" height="1.1" fill="#000"/>
<rect x="120.0" y="226.1" width="1.1" height="1.1" fill="#000"/>
<rect x="121.4" y="234.8" width="1.1" height="1.1" fill="#000"/>
<rect x="123.1" y="216.1" width="1.1" height="1.1" fill="#000"/>
<rect x="119.0" y="228.1" width="1.1" height="1.1" fill="#000"/>
<rect x="122.1" y="227.7" width="1.1" height="1.1" fill="#000"/>
<rect x="115.6" y="224.0" width="1.1" height="1.1" fill="#000"/>
<rect x="115.7" y="224.2" width="1.1" height="1.1" fill="#000"/>
<rect x="123.4" y="224.4" width="1.1" height="1.1" fill="#000"/>
<rect x="117.2" y="208.7" width="1.1" height="1.1" fill="#000"/>
<rect x="117.5" y="227.0" width="1.1" height="1.1" fill="#000"/>
<rect x="122.1" y="229.6" width="1.1" height="1.1" fill="#000"/>
<rect x="119.1" y="228.2" width="1.1" height="1.1" fill="#000"/>
<rect x="121.8" y="209.7" width="1.1" height="1.1" fill="#000"/>
<rect x="120.2" y="232.5" width="1.1" height="1.1" fill="#000"/>
<rect x="118.5" y="230.7" width="1.1" height="1.1" fill="#000"/>
<rect x="123.3" y="227.7" width="1.1" height="1.1" fill="#000"/>
<rect x="120.1" y="215.9" width="1.1" height="1.1" fill="#000"/>
<rect x="117.9" y="230.1" width="1.1" height="1.1" fill="#000"/>
<rect x="122.1" y="211.1" width="1.1" height="1.1" fill="#000"/>
<rect x="118.9" y="222.6" width="1.1" height="1.1" fill="#000"/>
<rect x="115.9" y="208.3" width="1.1" height="1.1" fill="#000"/>
<rect x="121.1" y="234.8" width="1.1" height="1.1" fill="#000"/>
<rect x="118.4" y="219.8" width="1.1" height="1.1" fill="#000"/>
<rect x="121.1" y="213.9" width="1.1" height="1.1" fill="#000"/>
<rect x="121.0" y="230.7" width="1.1" height="1.1" fill="#000"/>
<rect x="114.9" y="215.3" width="1.1" height="1.1" fill="#000"/>
<rect x="123.4" y="222.2" width="1.1" height="1.1" fill="#000"/>
<rect x="122.8" y="226.9" width="1.1" height="1.1" fill="#000"/>
<rect x="119.7" y="228.5" width="1.1" height="1.1" fill="#000"/>
<rect x="115.0" y="229.7" width="1.1" height="1.1" fill="#000"/>
<rect x="120.1" y="212.8" width="1.1" height="1.1" fill="#000"/>
<rect x="117.0" y="229.6" width="1.1" height="1.1" fill="#000"/>
<rect x="119.4" y="224.8" width="1.1" height="1.1" fill="#000"/>
<rect x="118.2" y="217.0" width="1.1" height="1.1" fill="#000"/>
<rect x="121.3" y="231.6" width="1.1" height="1.1" fill="#000"/>
<rect x="120.7" y="222.7" width="1.1" height="1.1" fill="#000"/>
<rect x="120.4" y="207.6" width="1.1" height="1.1" fill="#000"/>
<rect x="120.3" y="233.2" width="1.1" height="1.1" fill="#000"/>
<rect x="119.7" y="223.5" width="1.1" height="1.1" fill="#000"/>
<rect x="122.1" y="227.4" width="1.1" height="1.1" fill="#000"/>
<rect x="115.4" y="225.7" width="1.1" height="1.1" fill="#000"/>
<rect x="119.1" y="216.4" width="1.1" height="1.1" fill="#000"/>
<rect x="121.3" y="226.6" width="1.1" height="1.1" fill="#000"/>
<rect x="115.7" y="220.7" width="1.1" height="1.1" fill="#000"/>
<rect x="116.9" y="223.3" width="1.1" height="1.1" fill="#000"/>
<rect x="117.8" y="226.0" width="1.1" height="1.1" fill="#000"/>
<rect x="117.3" y="237.0" width="1.1" height="1.1" fill="#000"/>
<rect x="117.1" y="219.7" width="1.1" height="1.1" fill="#000"/>
<rect x="117.2" y="227.6" width="1.1" height="1.1" fill="#000"/>
<rect x="118.3" y="222.4" width="1.1" height="1.1" fill="#000"/>
<rect x="117.9" y="227.5" width="1.1" height="1.1" fill="#000"/>
<rect x="117.8" y="226.9" width="1.1" height="1.1" fill="#000"/>
<rect x="116.2" y="228.3" width="1.1" height="1.1" fill="#000"/>
<rect x="123.0" y="222.8" width="1.1" height="1.1" fill="#000"/>
<rect x="119.9" y="208.1" width="1.1" height="1.1" fill="#000"/>
<rect x="121.6" y="227.4" width="1.1" height="1.1" fill="#000"/>
<rect x="113.30" y="220.80" width="13.50" height="8.80" fill="none" stroke="#333" stroke-width="0.7"/>
<line x1="113.3" y1="225.5" x2="126.8" y2="225.5" stroke="#333" stroke-width="0.9"/>
<line x1="138.1" y1="211.0" x2="138.1" y2="213.6" stroke="#2a2aff" stroke-width="0.6"/>
<line x1="138.1" y1="224.4" x2="138.1" y2="230.0" stroke="#2a2aff" stroke-width="0.6"/>
<rect x="131.30" y="213.60" width="13.50" height="10.80" fill="none" stroke="#2a2aff" stroke-width="0.7"/>
<line x1="131.3" y1="215.2" x2="144.8" y2="215.2" stroke="#2a2aff" stroke-width="0.9"/>
<circle cx="136.5" cy="192.5" r="0.75" fill="#2a2aff"/>
<circle cx="137.0" cy="212.0" r="0.75" fill="#2a2aff"/>
<circle cx="138.0" cy="215.5" r="0.75" fill="#2a2aff"/>
<circle cx="136.5" cy="221.0" r="0.75" fill="#2a2aff"/>
<circle cx="137.5" cy="225.0" r="0.75" fill="#2a2aff"/>
<circle cx="140.5" cy="226.5" r="0.75" fill="#2a2aff"/>
<circle cx="140.0" cy="230.0" r="0.75" fill="#2a2aff"/>
<line x1="156.1" y1="214.5" x2="156.1" y2="216.2" stroke="#ff3030" stroke-width="0.6"/>
<line x1="156.1" y1="227.4" x2="156.1" y2="231.0" stroke="#ff3030" stroke-width="0.6"/>
<rect x="149.40" y="216.20" width="13.40" height="11.20" fill="none" stroke="#ff3030" stroke-width="0.7"/>
<line x1="149.4" y1="218.2" x2="162.8" y2="218.2" stroke="#ff3030" stroke-width="0.9"/>
<circle cx="155.5" cy="215.0" r="0.75" fill="#ff3030"/>
<circle cx="153.5" cy="227.0" r="0.75" fill="#ff3030"/>
<circle cx="152.5" cy="230.0" r="0.75" fill="#ff3030"/>
<line x1="189.7" y1="148.1" x2="189.7" y2="240.5" stroke="#9a9a9a" stroke-width="0.9"/>
<line x1="189.7" y1="240.5" x2="249.8" y2="240.5" stroke="#9a9a9a" stroke-width="0.9"/>
<line x1="188.2" y1="164.3" x2="189.7" y2="164.3" stroke="#9a9a9a" stroke-width="0.6"/>
<text x="187.7" y="165.5" font-size="3.4" text-anchor="end" fill="#555">6000</text>
<line x1="188.2" y1="189.7" x2="189.7" y2="189.7" stroke="#9a9a9a" stroke-width="0.6"/>
<text x="187.7" y="190.9" font-size="3.4" text-anchor="end" fill="#555">4000</text>
<line x1="188.2" y1="214.6" x2="189.7" y2="214.6" stroke="#9a9a9a" stroke-width="0.6"/>
<text x="187.7" y="215.8" font-size="3.4" text-anchor="end" fill="#555">2000</text>
<line x1="188.2" y1="240.0" x2="189.7" y2="240.0" stroke="#9a9a9a" stroke-width="0.6"/>
<text x="187.7" y="241.2" font-size="3.4" text-anchor="end" fill="#555">0</text>
<text transform="translate(177.5,193.9) rotate(-90)" x="0" y="1.9" font-size="5.6" font-weight="bold" text-anchor="middle" textLength="74.9" lengthAdjust="spacingAndGlyphs" fill="#000" stroke="#000" stroke-width="0.12">ATP6V1H Expression (FPKM)</text>
<text x="212.6" y="150.2" font-size="6.2" font-weight="bold" textLength="32.3" lengthAdjust="spacingAndGlyphs" fill="#000" stroke="#000" stroke-width="0.1">p.adj=0.583</text>
<path d="M219.5,153.4 V151.8 H238.6 V153.4" stroke="#999" stroke-width="0.6" fill="none"/>
<text x="203.8" y="163.1" font-size="6.2" font-weight="bold" textLength="32.4" lengthAdjust="spacingAndGlyphs" fill="#000" stroke="#000" stroke-width="0.1">p.adj=0.014</text>
<path d="M201.0,165.9 V164.3 H238.6 V165.9" stroke="#999" stroke-width="0.6" fill="none"/>
<text x="194.6" y="175.6" font-size="6.2" font-weight="bold" textLength="31.9" lengthAdjust="spacingAndGlyphs" fill="#000" stroke="#000" stroke-width="0.1">p.adj=0.001</text>
<path d="M201.0,178.6 V177.0 H220.0 V178.6" stroke="#999" stroke-width="0.6" fill="none"/>
<rect x="203.1" y="218.4" width="1.1" height="1.1" fill="#000"/>
<rect x="200.2" y="223.4" width="1.1" height="1.1" fill="#000"/>
<rect x="202.5" y="207.9" width="1.1" height="1.1" fill="#000"/>
<rect x="198.2" y="215.6" width="1.1" height="1.1" fill="#000"/>
<rect x="200.7" y="207.4" width="1.1" height="1.1" fill="#000"/>
<rect x="198.9" y="229.8" width="1.1" height="1.1" fill="#000"/>
<rect x="203.2" y="215.7" width="1.1" height="1.1" fill="#000"/>
<rect x="195.9" y="215.4" width="1.1" height="1.1" fill="#000"/>
<rect x="199.0" y="223.7" width="1.1" height="1.1" fill="#000"/>
<rect x="204.4" y="210.1" width="1.1" height="1.1" fill="#000"/>
<rect x="196.0" y="219.8" width="1.1" height="1.1" fill="#000"/>
<rect x="200.9" y="224.5" width="1.1" height="1.1" fill="#000"/>
<rect x="199.5" y="220.6" width="1.1" height="1.1" fill="#000"/>
<rect x="202.9" y="206.9" width="1.1" height="1.1" fill="#000"/>
<rect x="201.9" y="224.1" width="1.1" height="1.1" fill="#000"/>
<rect x="205.1" y="223.5" width="1.1" height="1.1" fill="#000"/>
<rect x="203.0" y="211.2" width="1.1" height="1.1" fill="#000"/>
<rect x="199.5" y="210.2" width="1.1" height="1.1" fill="#000"/>
<rect x="199.2" y="228.9" width="1.1" height="1.1" fill="#000"/>
<rect x="199.4" y="215.0" width="1.1" height="1.1" fill="#000"/>
<rect x="197.2" y="222.2" width="1.1" height="1.1" fill="#000"/>
<rect x="204.0" y="212.6" width="1.1" height="1.1" fill="#000"/>
<rect x="201.9" y="209.7" width="1.1" height="1.1" fill="#000"/>
<rect x="204.6" y="218.3" width="1.1" height="1.1" fill="#000"/>
<rect x="196.1" y="223.8" width="1.1" height="1.1" fill="#000"/>
<rect x="199.6" y="224.2" width="1.1" height="1.1" fill="#000"/>
<rect x="201.6" y="202.9" width="1.1" height="1.1" fill="#000"/>
<rect x="201.3" y="220.2" width="1.1" height="1.1" fill="#000"/>
<rect x="198.4" y="210.8" width="1.1" height="1.1" fill="#000"/>
<rect x="203.8" y="224.5" width="1.1" height="1.1" fill="#000"/>
<rect x="196.9" y="223.0" width="1.1" height="1.1" fill="#000"/>
<rect x="201.7" y="203.8" width="1.1" height="1.1" fill="#000"/>
<rect x="204.6" y="220.6" width="1.1" height="1.1" fill="#000"/>
<rect x="204.0" y="209.8" width="1.1" height="1.1" fill="#000"/>
<rect x="202.0" y="219.7" width="1.1" height="1.1" fill="#000"/>
<rect x="203.1" y="203.8" width="1.1" height="1.1" fill="#000"/>
<rect x="202.3" y="226.3" width="1.1" height="1.1" fill="#000"/>
<rect x="201.4" y="226.8" width="1.1" height="1.1" fill="#000"/>
<rect x="201.5" y="219.9" width="1.1" height="1.1" fill="#000"/>
<rect x="203.8" y="222.5" width="1.1" height="1.1" fill="#000"/>
<rect x="197.6" y="219.6" width="1.1" height="1.1" fill="#000"/>
<rect x="196.5" y="224.2" width="1.1" height="1.1" fill="#000"/>
<rect x="203.1" y="209.5" width="1.1" height="1.1" fill="#000"/>
<rect x="199.6" y="198.6" width="1.1" height="1.1" fill="#000"/>
<rect x="204.0" y="219.4" width="1.1" height="1.1" fill="#000"/>
<rect x="198.7" y="217.1" width="1.1" height="1.1" fill="#000"/>
<rect x="197.5" y="228.2" width="1.1" height="1.1" fill="#000"/>
<rect x="198.1" y="220.6" width="1.1" height="1.1" fill="#000"/>
<rect x="201.0" y="226.0" width="1.1" height="1.1" fill="#000"/>
<rect x="203.6" y="222.6" width="1.1" height="1.1" fill="#000"/>
<rect x="197.7" y="230.4" width="1.1" height="1.1" fill="#000"/>
<rect x="197.7" y="223.0" width="1.1" height="1.1" fill="#000"/>
<rect x="198.8" y="214.8" width="1.1" height="1.1" fill="#000"/>
<rect x="201.1" y="214.5" width="1.1" height="1.1" fill="#000"/>
<rect x="197.5" y="222.4" width="1.1" height="1.1" fill="#000"/>
<rect x="203.0" y="230.0" width="1.1" height="1.1" fill="#000"/>
<rect x="195.7" y="222.9" width="1.1" height="1.1" fill="#000"/>
<rect x="202.9" y="210.0" width="1.1" height="1.1" fill="#000"/>
<rect x="199.8" y="226.9" width="1.1" height="1.1" fill="#000"/>
<rect x="195.9" y="221.6" width="1.1" height="1.1" fill="#000"/>
<rect x="201.2" y="210.6" width="1.1" height="1.1" fill="#000"/>
<rect x="199.6" y="209.9" width="1.1" height="1.1" fill="#000"/>
<rect x="198.1" y="208.5" width="1.1" height="1.1" fill="#000"/>
<rect x="204.3" y="219.5" width="1.1" height="1.1" fill="#000"/>
<rect x="203.8" y="230.4" width="1.1" height="1.1" fill="#000"/>
<rect x="198.7" y="220.0" width="1.1" height="1.1" fill="#000"/>
<rect x="200.2" y="222.6" width="1.1" height="1.1" fill="#000"/>
<rect x="196.6" y="220.2" width="1.1" height="1.1" fill="#000"/>
<rect x="202.1" y="207.4" width="1.1" height="1.1" fill="#000"/>
<rect x="200.0" y="222.8" width="1.1" height="1.1" fill="#000"/>
<rect x="199.5" y="217.3" width="1.1" height="1.1" fill="#000"/>
<rect x="198.3" y="223.4" width="1.1" height="1.1" fill="#000"/>
<rect x="200.6" y="223.5" width="1.1" height="1.1" fill="#000"/>
<rect x="200.0" y="228.9" width="1.1" height="1.1" fill="#000"/>
<rect x="197.4" y="223.2" width="1.1" height="1.1" fill="#000"/>
<rect x="198.6" y="228.6" width="1.1" height="1.1" fill="#000"/>
<rect x="204.3" y="207.5" width="1.1" height="1.1" fill="#000"/>
<rect x="202.9" y="215.3" width="1.1" height="1.1" fill="#000"/>
<rect x="201.9" y="232.2" width="1.1" height="1.1" fill="#000"/>
<rect x="202.6" y="214.0" width="1.1" height="1.1" fill="#000"/>
<rect x="195.6" y="223.9" width="1.1" height="1.1" fill="#000"/>
<rect x="204.2" y="221.9" width="1.1" height="1.1" fill="#000"/>
<rect x="198.0" y="218.2" width="1.1" height="1.1" fill="#000"/>
<rect x="199.3" y="208.0" width="1.1" height="1.1" fill="#000"/>
<rect x="205.2" y="224.5" width="1.1" height="1.1" fill="#000"/>
<rect x="198.8" y="227.1" width="1.1" height="1.1" fill="#000"/>
<rect x="199.0" y="223.7" width="1.1" height="1.1" fill="#000"/>
<rect x="204.6" y="221.4" width="1.1" height="1.1" fill="#000"/>
<rect x="196.4" y="222.5" width="1.1" height="1.1" fill="#000"/>
<rect x="196.9" y="211.1" width="1.1" height="1.1" fill="#000"/>
<rect x="200.2" y="225.9" width="1.1" height="1.1" fill="#000"/>
<rect x="204.5" y="228.3" width="1.1" height="1.1" fill="#000"/>
<rect x="200.3" y="228.8" width="1.1" height="1.1" fill="#000"/>
<rect x="203.5" y="212.0" width="1.1" height="1.1" fill="#000"/>
<rect x="201.1" y="222.3" width="1.1" height="1.1" fill="#000"/>
<rect x="200.5" y="222.4" width="1.1" height="1.1" fill="#000"/>
<rect x="195.5" y="221.5" width="1.1" height="1.1" fill="#000"/>
<rect x="204.4" y="224.5" width="1.1" height="1.1" fill="#000"/>
<rect x="205.2" y="215.1" width="1.1" height="1.1" fill="#000"/>
<rect x="200.1" y="199.4" width="1.1" height="1.1" fill="#000"/>
<rect x="203.7" y="219.5" width="1.1" height="1.1" fill="#000"/>
<rect x="203.6" y="211.6" width="1.1" height="1.1" fill="#000"/>
<rect x="197.5" y="221.0" width="1.1" height="1.1" fill="#000"/>
<rect x="201.3" y="221.1" width="1.1" height="1.1" fill="#000"/>
<rect x="203.9" y="219.6" width="1.1" height="1.1" fill="#000"/>
<rect x="203.4" y="221.0" width="1.1" height="1.1" fill="#000"/>
<rect x="204.5" y="217.8" width="1.1" height="1.1" fill="#000"/>
<rect x="200.8" y="220.8" width="1.1" height="1.1" fill="#000"/>
<rect x="201.6" y="224.8" width="1.1" height="1.1" fill="#000"/>
<rect x="204.4" y="222.5" width="1.1" height="1.1" fill="#000"/>
<rect x="198.0" y="207.7" width="1.1" height="1.1" fill="#000"/>
<rect x="197.8" y="221.2" width="1.1" height="1.1" fill="#000"/>
<rect x="196.7" y="224.9" width="1.1" height="1.1" fill="#000"/>
<rect x="201.4" y="215.5" width="1.1" height="1.1" fill="#000"/>
<rect x="200.0" y="223.0" width="1.1" height="1.1" fill="#000"/>
<rect x="201.3" y="223.1" width="1.1" height="1.1" fill="#000"/>
<rect x="199.9" y="211.2" width="1.1" height="1.1" fill="#000"/>
<rect x="196.7" y="209.8" width="1.1" height="1.1" fill="#000"/>
<rect x="200.1" y="220.0" width="1.1" height="1.1" fill="#000"/>
<rect x="199.4" y="217.5" width="1.1" height="1.1" fill="#000"/>
<rect x="197.9" y="213.8" width="1.1" height="1.1" fill="#000"/>
<rect x="201.7" y="207.9" width="1.1" height="1.1" fill="#000"/>
<rect x="196.8" y="216.8" width="1.1" height="1.1" fill="#000"/>
<rect x="204.2" y="210.9" width="1.1" height="1.1" fill="#000"/>
<rect x="197.8" y="217.8" width="1.1" height="1.1" fill="#000"/>
<rect x="205.5" y="218.6" width="1.1" height="1.1" fill="#000"/>
<rect x="203.4" y="221.2" width="1.1" height="1.1" fill="#000"/>
<rect x="203.4" y="225.9" width="1.1" height="1.1" fill="#000"/>
<rect x="196.3" y="210.6" width="1.1" height="1.1" fill="#000"/>
<rect x="196.9" y="209.4" width="1.1" height="1.1" fill="#000"/>
<rect x="197.1" y="230.2" width="1.1" height="1.1" fill="#000"/>
<rect x="195.8" y="218.0" width="1.1" height="1.1" fill="#000"/>
<rect x="197.5" y="221.2" width="1.1" height="1.1" fill="#000"/>
<rect x="201.5" y="233.1" width="1.1" height="1.1" fill="#000"/>
<rect x="204.0" y="227.6" width="1.1" height="1.1" fill="#000"/>
<rect x="198.1" y="215.0" width="1.1" height="1.1" fill="#000"/>
<rect x="203.1" y="221.1" width="1.1" height="1.1" fill="#000"/>
<rect x="196.3" y="221.3" width="1.1" height="1.1" fill="#000"/>
<rect x="198.0" y="229.0" width="1.1" height="1.1" fill="#000"/>
<rect x="203.6" y="218.1" width="1.1" height="1.1" fill="#000"/>
<rect x="196.5" y="223.9" width="1.1" height="1.1" fill="#000"/>
<rect x="203.1" y="226.1" width="1.1" height="1.1" fill="#000"/>
<rect x="196.7" y="229.9" width="1.1" height="1.1" fill="#000"/>
<rect x="203.3" y="207.6" width="1.1" height="1.1" fill="#000"/>
<rect x="200.5" y="204.8" width="1.1" height="1.1" fill="#000"/>
<rect x="201.6" y="214.7" width="1.1" height="1.1" fill="#000"/>
<rect x="197.1" y="207.1" width="1.1" height="1.1" fill="#000"/>
<rect x="196.4" y="211.4" width="1.1" height="1.1" fill="#000"/>
<rect x="199.5" y="213.3" width="1.1" height="1.1" fill="#000"/>
<rect x="195.4" y="218.3" width="1.1" height="1.1" fill="#000"/>
<rect x="203.9" y="220.4" width="1.1" height="1.1" fill="#000"/>
<rect x="203.7" y="218.5" width="1.1" height="1.1" fill="#000"/>
<rect x="202.0" y="216.0" width="1.1" height="1.1" fill="#000"/>
<rect x="197.4" y="221.2" width="1.1" height="1.1" fill="#000"/>
<rect x="205.3" y="216.5" width="1.1" height="1.1" fill="#000"/>
<rect x="200.9" y="221.6" width="1.1" height="1.1" fill="#000"/>
<rect x="202.8" y="218.0" width="1.1" height="1.1" fill="#000"/>
<rect x="204.0" y="222.4" width="1.1" height="1.1" fill="#000"/>
<rect x="199.1" y="221.9" width="1.1" height="1.1" fill="#000"/>
<rect x="198.4" y="217.1" width="1.1" height="1.1" fill="#000"/>
<rect x="201.6" y="220.7" width="1.1" height="1.1" fill="#000"/>
<rect x="205.2" y="215.4" width="1.1" height="1.1" fill="#000"/>
<rect x="196.0" y="220.5" width="1.1" height="1.1" fill="#000"/>
<rect x="196.4" y="219.4" width="1.1" height="1.1" fill="#000"/>
<rect x="200.7" y="216.1" width="1.1" height="1.1" fill="#000"/>
<rect x="200.1" y="209.1" width="1.1" height="1.1" fill="#000"/>
<rect x="201.8" y="210.1" width="1.1" height="1.1" fill="#000"/>
<rect x="204.5" y="224.6" width="1.1" height="1.1" fill="#000"/>
<rect x="204.7" y="218.7" width="1.1" height="1.1" fill="#000"/>
<rect x="202.9" y="204.5" width="1.1" height="1.1" fill="#000"/>
<rect x="202.3" y="220.0" width="1.1" height="1.1" fill="#000"/>
<rect x="204.1" y="218.3" width="1.1" height="1.1" fill="#000"/>
<rect x="198.2" y="203.7" width="1.1" height="1.1" fill="#000"/>
<rect x="204.6" y="225.2" width="1.1" height="1.1" fill="#000"/>
<rect x="198.4" y="207.3" width="1.1" height="1.1" fill="#000"/>
<rect x="198.5" y="223.5" width="1.1" height="1.1" fill="#000"/>
<rect x="196.4" y="215.8" width="1.1" height="1.1" fill="#000"/>
<rect x="199.9" y="224.4" width="1.1" height="1.1" fill="#000"/>
<rect x="204.0" y="228.4" width="1.1" height="1.1" fill="#000"/>
<rect x="203.2" y="218.9" width="1.1" height="1.1" fill="#000"/>
<rect x="202.4" y="229.6" width="1.1" height="1.1" fill="#000"/>
<rect x="199.3" y="195.7" width="1.1" height="1.1" fill="#000"/>
<rect x="195.5" y="220.5" width="1.1" height="1.1" fill="#000"/>
<rect x="198.0" y="226.1" width="1.1" height="1.1" fill="#000"/>
<rect x="199.2" y="229.8" width="1.1" height="1.1" fill="#000"/>
<rect x="202.6" y="207.2" width="1.1" height="1.1" fill="#000"/>
<rect x="203.5" y="222.3" width="1.1" height="1.1" fill="#000"/>
<rect x="200.7" y="201.8" width="1.1" height="1.1" fill="#000"/>
<rect x="198.9" y="228.6" width="1.1" height="1.1" fill="#000"/>
<rect x="201.6" y="226.7" width="1.1" height="1.1" fill="#000"/>
<rect x="204.9" y="212.9" width="1.1" height="1.1" fill="#000"/>
<rect x="197.3" y="225.5" width="1.1" height="1.1" fill="#000"/>
<rect x="200.8" y="207.7" width="1.1" height="1.1" fill="#000"/>
<rect x="205.0" y="217.9" width="1.1" height="1.1" fill="#000"/>
<rect x="201.8" y="203.8" width="1.1" height="1.1" fill="#000"/>
<rect x="204.5" y="227.1" width="1.1" height="1.1" fill="#000"/>
<rect x="198.3" y="223.7" width="1.1" height="1.1" fill="#000"/>
<rect x="204.6" y="222.5" width="1.1" height="1.1" fill="#000"/>
<rect x="202.5" y="224.7" width="1.1" height="1.1" fill="#000"/>
<rect x="205.5" y="220.8" width="1.1" height="1.1" fill="#000"/>
<rect x="202.3" y="223.1" width="1.1" height="1.1" fill="#000"/>
<rect x="202.2" y="225.7" width="1.1" height="1.1" fill="#000"/>
<rect x="197.8" y="220.1" width="1.1" height="1.1" fill="#000"/>
<rect x="198.6" y="205.4" width="1.1" height="1.1" fill="#000"/>
<rect x="198.1" y="228.8" width="1.1" height="1.1" fill="#000"/>
<rect x="198.0" y="221.9" width="1.1" height="1.1" fill="#000"/>
<rect x="201.2" y="228.1" width="1.1" height="1.1" fill="#000"/>
<rect x="202.1" y="217.6" width="1.1" height="1.1" fill="#000"/>
<rect x="198.8" y="209.1" width="1.1" height="1.1" fill="#000"/>
<rect x="196.3" y="212.5" width="1.1" height="1.1" fill="#000"/>
<rect x="199.0" y="221.3" width="1.1" height="1.1" fill="#000"/>
<rect x="196.7" y="220.8" width="1.1" height="1.1" fill="#000"/>
<rect x="204.9" y="225.3" width="1.1" height="1.1" fill="#000"/>
<rect x="202.3" y="224.6" width="1.1" height="1.1" fill="#000"/>
<rect x="197.1" y="218.2" width="1.1" height="1.1" fill="#000"/>
<rect x="197.5" y="229.8" width="1.1" height="1.1" fill="#000"/>
<rect x="202.4" y="217.4" width="1.1" height="1.1" fill="#000"/>
<rect x="199.9" y="225.8" width="1.1" height="1.1" fill="#000"/>
<rect x="204.9" y="219.9" width="1.1" height="1.1" fill="#000"/>
<rect x="198.9" y="216.5" width="1.1" height="1.1" fill="#000"/>
<rect x="203.9" y="221.1" width="1.1" height="1.1" fill="#000"/>
<rect x="197.6" y="218.5" width="1.1" height="1.1" fill="#000"/>
<rect x="202.0" y="226.5" width="1.1" height="1.1" fill="#000"/>
<rect x="198.6" y="207.6" width="1.1" height="1.1" fill="#000"/>
<rect x="204.4" y="224.0" width="1.1" height="1.1" fill="#000"/>
<rect x="196.9" y="220.7" width="1.1" height="1.1" fill="#000"/>
<rect x="202.0" y="214.0" width="1.1" height="1.1" fill="#000"/>
<rect x="197.6" y="210.4" width="1.1" height="1.1" fill="#000"/>
<rect x="205.4" y="222.0" width="1.1" height="1.1" fill="#000"/>
<rect x="199.3" y="222.4" width="1.1" height="1.1" fill="#000"/>
<rect x="197.8" y="213.7" width="1.1" height="1.1" fill="#000"/>
<rect x="196.5" y="210.9" width="1.1" height="1.1" fill="#000"/>
<rect x="197.9" y="231.2" width="1.1" height="1.1" fill="#000"/>
<rect x="205.2" y="221.5" width="1.1" height="1.1" fill="#000"/>
<rect x="197.2" y="211.0" width="1.1" height="1.1" fill="#000"/>
<rect x="203.0" y="227.1" width="1.1" height="1.1" fill="#000"/>
<rect x="200.7" y="220.4" width="1.1" height="1.1" fill="#000"/>
<rect x="196.8" y="225.7" width="1.1" height="1.1" fill="#000"/>
<rect x="198.2" y="220.6" width="1.1" height="1.1" fill="#000"/>
<rect x="199.6" y="230.3" width="1.1" height="1.1" fill="#000"/>
<rect x="197.3" y="220.8" width="1.1" height="1.1" fill="#000"/>
<rect x="197.7" y="214.1" width="1.1" height="1.1" fill="#000"/>
<rect x="201.8" y="214.0" width="1.1" height="1.1" fill="#000"/>
<rect x="200.2" y="223.9" width="1.1" height="1.1" fill="#000"/>
<rect x="202.1" y="221.7" width="1.1" height="1.1" fill="#000"/>
<rect x="203.9" y="218.3" width="1.1" height="1.1" fill="#000"/>
<rect x="199.8" y="220.6" width="1.1" height="1.1" fill="#000"/>
<rect x="196.5" y="221.8" width="1.1" height="1.1" fill="#000"/>
<rect x="197.2" y="206.7" width="1.1" height="1.1" fill="#000"/>
<rect x="196.6" y="222.6" width="1.1" height="1.1" fill="#000"/>
<rect x="197.8" y="214.9" width="1.1" height="1.1" fill="#000"/>
<rect x="199.8" y="220.9" width="1.1" height="1.1" fill="#000"/>
<rect x="199.0" y="222.0" width="1.1" height="1.1" fill="#000"/>
<rect x="200.1" y="221.8" width="1.1" height="1.1" fill="#000"/>
<rect x="196.7" y="226.9" width="1.1" height="1.1" fill="#000"/>
<rect x="197.7" y="216.0" width="1.1" height="1.1" fill="#000"/>
<rect x="204.3" y="220.0" width="1.1" height="1.1" fill="#000"/>
<rect x="204.4" y="208.9" width="1.1" height="1.1" fill="#000"/>
<rect x="205.0" y="222.1" width="1.1" height="1.1" fill="#000"/>
<rect x="200.7" y="217.1" width="1.1" height="1.1" fill="#000"/>
<rect x="204.2" y="220.7" width="1.1" height="1.1" fill="#000"/>
<rect x="197.6" y="223.8" width="1.1" height="1.1" fill="#000"/>
<rect x="204.6" y="224.2" width="1.1" height="1.1" fill="#000"/>
<rect x="200.1" y="222.6" width="1.1" height="1.1" fill="#000"/>
<rect x="200.0" y="220.0" width="1.1" height="1.1" fill="#000"/>
<rect x="198.6" y="216.9" width="1.1" height="1.1" fill="#000"/>
<rect x="199.0" y="222.7" width="1.1" height="1.1" fill="#000"/>
<rect x="197.3" y="228.2" width="1.1" height="1.1" fill="#000"/>
<rect x="197.6" y="226.7" width="1.1" height="1.1" fill="#000"/>
<rect x="195.4" y="219.4" width="1.1" height="1.1" fill="#000"/>
<rect x="195.8" y="214.3" width="1.1" height="1.1" fill="#000"/>
<rect x="200.2" y="211.6" width="1.1" height="1.1" fill="#000"/>
<rect x="197.7" y="219.8" width="1.1" height="1.1" fill="#000"/>
<rect x="200.4" y="209.3" width="1.1" height="1.1" fill="#000"/>
<rect x="197.3" y="210.1" width="1.1" height="1.1" fill="#000"/>
<rect x="203.3" y="212.4" width="1.1" height="1.1" fill="#000"/>
<rect x="203.3" y="229.0" width="1.1" height="1.1" fill="#000"/>
<rect x="199.1" y="215.5" width="1.1" height="1.1" fill="#000"/>
<rect x="197.7" y="223.3" width="1.1" height="1.1" fill="#000"/>
<rect x="201.5" y="217.2" width="1.1" height="1.1" fill="#000"/>
<rect x="197.5" y="222.3" width="1.1" height="1.1" fill="#000"/>
<rect x="195.7" y="218.3" width="1.1" height="1.1" fill="#000"/>
<rect x="197.3" y="215.9" width="1.1" height="1.1" fill="#000"/>
<rect x="203.0" y="221.6" width="1.1" height="1.1" fill="#000"/>
<rect x="199.8" y="202.0" width="1.1" height="1.1" fill="#000"/>
<rect x="202.0" y="209.8" width="1.1" height="1.1" fill="#000"/>
<rect x="198.9" y="233.8" width="1.1" height="1.1" fill="#000"/>
<rect x="200.2" y="221.5" width="1.1" height="1.1" fill="#000"/>
<rect x="200.4" y="198.6" width="1.1" height="1.1" fill="#000"/>
<rect x="205.5" y="218.8" width="1.1" height="1.1" fill="#000"/>
<rect x="203.8" y="215.9" width="1.1" height="1.1" fill="#000"/>
<rect x="197.4" y="216.1" width="1.1" height="1.1" fill="#000"/>
<rect x="198.0" y="226.5" width="1.1" height="1.1" fill="#000"/>
<rect x="205.2" y="220.4" width="1.1" height="1.1" fill="#000"/>
<rect x="198.9" y="216.4" width="1.1" height="1.1" fill="#000"/>
<rect x="202.0" y="225.5" width="1.1" height="1.1" fill="#000"/>
<rect x="197.3" y="225.7" width="1.1" height="1.1" fill="#000"/>
<rect x="203.9" y="221.2" width="1.1" height="1.1" fill="#000"/>
<rect x="198.4" y="228.0" width="1.1" height="1.1" fill="#000"/>
<rect x="200.0" y="220.5" width="1.1" height="1.1" fill="#000"/>
<rect x="197.5" y="207.3" width="1.1" height="1.1" fill="#000"/>
<rect x="197.9" y="215.1" width="1.1" height="1.1" fill="#000"/>
<rect x="198.0" y="230.6" width="1.1" height="1.1" fill="#000"/>
<rect x="197.8" y="230.0" width="1.1" height="1.1" fill="#000"/>
<rect x="203.7" y="208.7" width="1.1" height="1.1" fill="#000"/>
<rect x="195.9" y="218.8" width="1.1" height="1.1" fill="#000"/>
<rect x="201.3" y="220.8" width="1.1" height="1.1" fill="#000"/>
<rect x="200.0" y="223.8" width="1.1" height="1.1" fill="#000"/>
<rect x="201.6" y="204.6" width="1.1" height="1.1" fill="#000"/>
<rect x="203.7" y="226.7" width="1.1" height="1.1" fill="#000"/>
<rect x="204.7" y="224.6" width="1.1" height="1.1" fill="#000"/>
<rect x="199.5" y="218.5" width="1.1" height="1.1" fill="#000"/>
<rect x="197.9" y="232.0" width="1.1" height="1.1" fill="#000"/>
<rect x="195.7" y="224.3" width="1.1" height="1.1" fill="#000"/>
<rect x="205.3" y="218.6" width="1.1" height="1.1" fill="#000"/>
<rect x="204.0" y="224.9" width="1.1" height="1.1" fill="#000"/>
<rect x="203.6" y="210.8" width="1.1" height="1.1" fill="#000"/>
<rect x="203.5" y="223.7" width="1.1" height="1.1" fill="#000"/>
<rect x="196.7" y="214.3" width="1.1" height="1.1" fill="#000"/>
<rect x="198.1" y="211.6" width="1.1" height="1.1" fill="#000"/>
<rect x="203.4" y="213.9" width="1.1" height="1.1" fill="#000"/>
<rect x="204.0" y="210.4" width="1.1" height="1.1" fill="#000"/>
<rect x="196.3" y="223.9" width="1.1" height="1.1" fill="#000"/>
<rect x="204.6" y="219.1" width="1.1" height="1.1" fill="#000"/>
<rect x="202.4" y="215.3" width="1.1" height="1.1" fill="#000"/>
<rect x="197.9" y="218.0" width="1.1" height="1.1" fill="#000"/>
<rect x="200.7" y="220.9" width="1.1" height="1.1" fill="#000"/>
<rect x="202.1" y="225.7" width="1.1" height="1.1" fill="#000"/>
<rect x="201.5" y="228.5" width="1.1" height="1.1" fill="#000"/>
<rect x="200.2" y="224.5" width="1.1" height="1.1" fill="#000"/>
<rect x="195.8" y="212.9" width="1.1" height="1.1" fill="#000"/>
<rect x="200.3" y="206.2" width="1.1" height="1.1" fill="#000"/>
<rect x="201.9" y="214.3" width="1.1" height="1.1" fill="#000"/>
<rect x="197.8" y="207.7" width="1.1" height="1.1" fill="#000"/>
<rect x="198.4" y="229.8" width="1.1" height="1.1" fill="#000"/>
<rect x="199.7" y="216.4" width="1.1" height="1.1" fill="#000"/>
<rect x="199.6" y="224.1" width="1.1" height="1.1" fill="#000"/>
<rect x="205.2" y="218.8" width="1.1" height="1.1" fill="#000"/>
<rect x="202.8" y="223.7" width="1.1" height="1.1" fill="#000"/>
<rect x="199.0" y="216.6" width="1.1" height="1.1" fill="#000"/>
<rect x="196.9" y="212.5" width="1.1" height="1.1" fill="#000"/>
<rect x="198.2" y="207.3" width="1.1" height="1.1" fill="#000"/>
<rect x="195.6" y="221.4" width="1.1" height="1.1" fill="#000"/>
<rect x="196.9" y="224.7" width="1.1" height="1.1" fill="#000"/>
<rect x="196.5" y="212.6" width="1.1" height="1.1" fill="#000"/>
<rect x="201.3" y="223.6" width="1.1" height="1.1" fill="#000"/>
<rect x="199.2" y="227.2" width="1.1" height="1.1" fill="#000"/>
<rect x="202.5" y="216.3" width="1.1" height="1.1" fill="#000"/>
<rect x="200.3" y="215.3" width="1.1" height="1.1" fill="#000"/>
<rect x="195.5" y="221.8" width="1.1" height="1.1" fill="#000"/>
<rect x="199.1" y="218.1" width="1.1" height="1.1" fill="#000"/>
<rect x="205.1" y="215.7" width="1.1" height="1.1" fill="#000"/>
<rect x="201.9" y="221.5" width="1.1" height="1.1" fill="#000"/>
<rect x="201.4" y="203.4" width="1.1" height="1.1" fill="#000"/>
<rect x="197.5" y="213.9" width="1.1" height="1.1" fill="#000"/>
<rect x="201.9" y="197.9" width="1.1" height="1.1" fill="#000"/>
<rect x="203.8" y="218.3" width="1.1" height="1.1" fill="#000"/>
<rect x="201.4" y="224.5" width="1.1" height="1.1" fill="#000"/>
<rect x="201.2" y="227.0" width="1.1" height="1.1" fill="#000"/>
<rect x="198.2" y="205.6" width="1.1" height="1.1" fill="#000"/>
<rect x="202.4" y="227.2" width="1.1" height="1.1" fill="#000"/>
<rect x="198.1" y="221.1" width="1.1" height="1.1" fill="#000"/>
<rect x="197.1" y="220.9" width="1.1" height="1.1" fill="#000"/>
<rect x="202.5" y="220.7" width="1.1" height="1.1" fill="#000"/>
<rect x="198.2" y="224.4" width="1.1" height="1.1" fill="#000"/>
<rect x="202.6" y="220.5" width="1.1" height="1.1" fill="#000"/>
<rect x="196.5" y="221.5" width="1.1" height="1.1" fill="#000"/>
<rect x="205.0" y="220.3" width="1.1" height="1.1" fill="#000"/>
<rect x="198.8" y="223.5" width="1.1" height="1.1" fill="#000"/>
<rect x="200.7" y="219.5" width="1.1" height="1.1" fill="#000"/>
<rect x="200.2" y="216.5" width="1.1" height="1.1" fill="#000"/>
<rect x="198.2" y="225.6" width="1.1" height="1.1" fill="#000"/>
<rect x="197.0" y="222.6" width="1.1" height="1.1" fill="#000"/>
<rect x="196.2" y="221.2" width="1.1" height="1.1" fill="#000"/>
<rect x="198.3" y="210.6" width="1.1" height="1.1" fill="#000"/>
<rect x="203.1" y="210.7" width="1.1" height="1.1" fill="#000"/>
<rect x="200.4" y="219.4" width="1.1" height="1.1" fill="#000"/>
<rect x="197.5" y="212.3" width="1.1" height="1.1" fill="#000"/>
<rect x="196.5" y="226.8" width="1.1" height="1.1" fill="#000"/>
<rect x="197.0" y="215.5" width="1.1" height="1.1" fill="#000"/>
<rect x="194.20" y="217.30" width="13.90" height="9.20" fill="none" stroke="#333" stroke-width="0.7"/>
<line x1="194.2" y1="222.8" x2="208.1" y2="222.8" stroke="#333" stroke-width="0.9"/>
<line x1="220.1" y1="204.0" x2="220.1" y2="210.3" stroke="#2a2aff" stroke-width="0.6"/>
<line x1="220.1" y1="218.6" x2="220.1" y2="222.0" stroke="#2a2aff" stroke-width="0.6"/>
<rect x="213.40" y="210.30" width="13.40" height="8.30" fill="none" stroke="#2a2aff" stroke-width="0.7"/>
<line x1="213.4" y1="215.2" x2="226.8" y2="215.2" stroke="#2a2aff" stroke-width="0.9"/>
<circle cx="217.5" cy="185.0" r="0.75" fill="#2a2aff"/>
<circle cx="218.5" cy="204.5" r="0.75" fill="#2a2aff"/>
<circle cx="222.5" cy="212.5" r="0.75" fill="#2a2aff"/>
<circle cx="218.0" cy="215.5" r="0.75" fill="#2a2aff"/>
<circle cx="219.0" cy="219.0" r="0.75" fill="#2a2aff"/>
<circle cx="220.5" cy="222.0" r="0.75" fill="#2a2aff"/>
<rect x="231.80" y="212.00" width="13.60" height="3.60" fill="none" stroke="#ff3030" stroke-width="0.7"/>
<line x1="231.8" y1="213.5" x2="245.4" y2="213.5" stroke="#ff3030" stroke-width="0.9"/>
<circle cx="238.5" cy="216.0" r="0.75" fill="#ff3030"/>
<rect x="381.00" y="47.60" width="12.90" height="11.90" fill="#000"/>
<rect x="381.00" y="62.20" width="12.90" height="11.60" fill="#1818ff"/>
<rect x="381.00" y="77.30" width="12.90" height="11.30" fill="#f08228"/>
<rect x="381.00" y="91.40" width="12.90" height="11.30" fill="#f3f33c"/>
<text x="396.6" y="57.1" font-size="9" font-weight="bold" textLength="104.0" lengthAdjust="spacingAndGlyphs" fill="#000">HK2/ <tspan font-style="italic">SFPQ-TFE3</tspan> (No Dox)</text>
<text x="396.6" y="71.5" font-size="9" font-weight="bold" textLength="90.0" lengthAdjust="spacingAndGlyphs" fill="#000">HK2/ <tspan font-style="italic">SFPQ-TFE3</tspan> (+Dox)</text>
<text x="396.6" y="86.3" font-size="9" font-weight="bold" textLength="132.0" lengthAdjust="spacingAndGlyphs" fill="#000">HK2/ <tspan font-style="italic">SFPQ-TFE3</tspan> (+Dox+Torin1)</text>
<text x="396.6" y="100.7" font-size="9" font-weight="bold" textLength="154.0" lengthAdjust="spacingAndGlyphs" fill="#000">HK2/ <tspan font-style="italic">SFPQ-TFE3</tspan> (+Dox+<tspan font-style="italic">Rheb1</tspan> siRNA)</text>
<line x1="303.8" y1="86.5" x2="303.8" y2="226.0" stroke="#000" stroke-width="1.4"/>
<line x1="303.2" y1="225.4" x2="560.5" y2="225.4" stroke="#000" stroke-width="1.4"/>
<line x1="300.0" y1="225.4" x2="303.8" y2="225.4" stroke="#000" stroke-width="1.2"/>
<text x="299.3" y="228.8" font-size="10" font-weight="bold" text-anchor="end" fill="#000">0</text>
<line x1="300.0" y1="205.6" x2="303.8" y2="205.6" stroke="#000" stroke-width="1.2"/>
<text x="299.3" y="209.1" font-size="10" font-weight="bold" text-anchor="end" fill="#000">1</text>
<line x1="300.0" y1="185.9" x2="303.8" y2="185.9" stroke="#000" stroke-width="1.2"/>
<text x="299.3" y="189.3" font-size="10" font-weight="bold" text-anchor="end" fill="#000">2</text>
<line x1="300.0" y1="166.1" x2="303.8" y2="166.1" stroke="#000" stroke-width="1.2"/>
<text x="299.3" y="169.5" font-size="10" font-weight="bold" text-anchor="end" fill="#000">3</text>
<line x1="300.0" y1="146.3" x2="303.8" y2="146.3" stroke="#000" stroke-width="1.2"/>
<text x="299.3" y="149.8" font-size="10" font-weight="bold" text-anchor="end" fill="#000">4</text>
<line x1="300.0" y1="126.6" x2="303.8" y2="126.6" stroke="#000" stroke-width="1.2"/>
<text x="299.3" y="130.0" font-size="10" font-weight="bold" text-anchor="end" fill="#000">5</text>
<line x1="300.0" y1="106.8" x2="303.8" y2="106.8" stroke="#000" stroke-width="1.2"/>
<text x="299.3" y="110.2" font-size="10" font-weight="bold" text-anchor="end" fill="#000">6</text>
<line x1="300.0" y1="87.0" x2="303.8" y2="87.0" stroke="#000" stroke-width="1.2"/>
<text x="299.3" y="90.5" font-size="10" font-weight="bold" text-anchor="end" fill="#000">7</text>
<text transform="translate(285.0,153.5) rotate(-90)" x="0" y="4.5" font-size="13" font-weight="bold" text-anchor="middle" textLength="122.5" lengthAdjust="spacingAndGlyphs" fill="#000">mRNA Fold Change</text>
<rect x="307.00" y="205.63" width="6.25" height="19.77" fill="#000"/>
<rect x="313.25" y="185.86" width="6.25" height="39.54" fill="#1818ff"/>
<rect x="319.50" y="211.56" width="6.25" height="13.84" fill="#f08228"/>
<rect x="325.75" y="202.66" width="6.25" height="22.74" fill="#f3f33c"/>
<line x1="316.4" y1="179.7" x2="316.4" y2="192.0" stroke="#000" stroke-width="0.6"/>
<line x1="315.2" y1="179.7" x2="317.6" y2="179.7" stroke="#000" stroke-width="0.6"/>
<circle cx="316.4" cy="178.9" r="1.3" fill="#000"/>
<circle cx="314.6" cy="185.9" r="1.3" fill="#000"/>
<circle cx="318.2" cy="192.8" r="1.3" fill="#000"/>
<line x1="322.6" y1="208.4" x2="322.6" y2="214.7" stroke="#000" stroke-width="0.6"/>
<line x1="321.4" y1="208.4" x2="323.8" y2="208.4" stroke="#000" stroke-width="0.6"/>
<circle cx="322.6" cy="207.2" r="1.3" fill="#000"/>
<circle cx="320.8" cy="213.1" r="1.3" fill="#000"/>
<circle cx="324.4" cy="213.5" r="1.3" fill="#000"/>
<line x1="328.9" y1="201.7" x2="328.9" y2="203.7" stroke="#000" stroke-width="0.6"/>
<line x1="327.7" y1="201.7" x2="330.1" y2="201.7" stroke="#000" stroke-width="0.6"/>
<circle cx="328.9" cy="201.7" r="1.3" fill="#000"/>
<circle cx="327.1" cy="202.7" r="1.3" fill="#000"/>
<circle cx="330.7" cy="201.7" r="1.3" fill="#000"/>
<rect x="335.20" y="205.63" width="6.25" height="19.77" fill="#000"/>
<rect x="341.45" y="142.37" width="6.25" height="83.03" fill="#1818ff"/>
<rect x="347.70" y="206.62" width="6.25" height="18.78" fill="#f08228"/>
<rect x="353.95" y="189.81" width="6.25" height="35.59" fill="#f3f33c"/>
<line x1="344.6" y1="130.5" x2="344.6" y2="154.2" stroke="#000" stroke-width="0.6"/>
<line x1="343.4" y1="130.5" x2="345.8" y2="130.5" stroke="#000" stroke-width="0.6"/>
<circle cx="344.6" cy="87.0" r="1.3" fill="#000"/>
<circle cx="342.8" cy="133.5" r="1.3" fill="#000"/>
<circle cx="346.4" cy="148.3" r="1.3" fill="#000"/>
<circle cx="343.7" cy="157.2" r="1.3" fill="#000"/>
<circle cx="345.8" cy="162.1" r="1.3" fill="#000"/>
<line x1="350.8" y1="201.3" x2="350.8" y2="212.0" stroke="#000" stroke-width="0.6"/>
<line x1="349.6" y1="201.3" x2="352.0" y2="201.3" stroke="#000" stroke-width="0.6"/>
<circle cx="350.8" cy="199.7" r="1.3" fill="#000"/>
<circle cx="349.0" cy="204.6" r="1.3" fill="#000"/>
<circle cx="352.6" cy="207.6" r="1.3" fill="#000"/>
<circle cx="349.9" cy="209.6" r="1.3" fill="#000"/>
<circle cx="352.0" cy="211.6" r="1.3" fill="#000"/>
<circle cx="349.3" cy="208.6" r="1.3" fill="#000"/>
<line x1="357.1" y1="188.0" x2="357.1" y2="191.6" stroke="#000" stroke-width="0.6"/>
<line x1="355.9" y1="188.0" x2="358.3" y2="188.0" stroke="#000" stroke-width="0.6"/>
<circle cx="357.1" cy="185.9" r="1.3" fill="#000"/>
<circle cx="355.3" cy="188.8" r="1.3" fill="#000"/>
<circle cx="358.9" cy="188.8" r="1.3" fill="#000"/>
<rect x="363.40" y="205.63" width="6.25" height="19.77" fill="#000"/>
<rect x="369.65" y="189.81" width="6.25" height="35.59" fill="#1818ff"/>
<rect x="375.90" y="204.25" width="6.25" height="21.15" fill="#f08228"/>
<rect x="382.15" y="206.22" width="6.25" height="19.18" fill="#f3f33c"/>
<line x1="372.8" y1="181.7" x2="372.8" y2="197.9" stroke="#000" stroke-width="0.6"/>
<line x1="371.6" y1="181.7" x2="374.0" y2="181.7" stroke="#000" stroke-width="0.6"/>
<circle cx="372.8" cy="177.0" r="1.3" fill="#000"/>
<circle cx="371.0" cy="185.9" r="1.3" fill="#000"/>
<circle cx="374.6" cy="188.8" r="1.3" fill="#000"/>
<circle cx="371.9" cy="192.8" r="1.3" fill="#000"/>
<circle cx="374.0" cy="195.7" r="1.3" fill="#000"/>
<circle cx="371.3" cy="190.8" r="1.3" fill="#000"/>
<line x1="379.0" y1="200.3" x2="379.0" y2="208.2" stroke="#000" stroke-width="0.6"/>
<line x1="377.8" y1="200.3" x2="380.2" y2="200.3" stroke="#000" stroke-width="0.6"/>
<circle cx="379.0" cy="198.1" r="1.3" fill="#000"/>
<circle cx="377.2" cy="200.7" r="1.3" fill="#000"/>
<circle cx="380.8" cy="203.7" r="1.3" fill="#000"/>
<circle cx="378.1" cy="206.6" r="1.3" fill="#000"/>
<circle cx="380.2" cy="206.6" r="1.3" fill="#000"/>
<circle cx="377.5" cy="205.6" r="1.3" fill="#000"/>
<line x1="385.3" y1="205.6" x2="385.3" y2="206.8" stroke="#000" stroke-width="0.6"/>
<line x1="384.1" y1="205.6" x2="386.5" y2="205.6" stroke="#000" stroke-width="0.6"/>
<circle cx="385.3" cy="206.2" r="1.3" fill="#000"/>
<circle cx="383.5" cy="206.2" r="1.3" fill="#000"/>
<circle cx="387.1" cy="206.2" r="1.3" fill="#000"/>
<rect x="391.10" y="205.63" width="6.25" height="19.77" fill="#000"/>
<rect x="397.35" y="178.94" width="6.25" height="46.46" fill="#1818ff"/>
<rect x="403.60" y="183.88" width="6.25" height="41.52" fill="#f08228"/>
<rect x="409.85" y="193.77" width="6.25" height="31.63" fill="#f3f33c"/>
<line x1="400.5" y1="176.4" x2="400.5" y2="181.5" stroke="#000" stroke-width="0.6"/>
<line x1="399.3" y1="176.4" x2="401.7" y2="176.4" stroke="#000" stroke-width="0.6"/>
<circle cx="400.5" cy="174.0" r="1.3" fill="#000"/>
<circle cx="398.7" cy="178.0" r="1.3" fill="#000"/>
<circle cx="402.3" cy="178.9" r="1.3" fill="#000"/>
<line x1="406.7" y1="181.7" x2="406.7" y2="186.1" stroke="#000" stroke-width="0.6"/>
<line x1="405.5" y1="181.7" x2="407.9" y2="181.7" stroke="#000" stroke-width="0.6"/>
<circle cx="406.7" cy="181.9" r="1.3" fill="#000"/>
<circle cx="404.9" cy="182.9" r="1.3" fill="#000"/>
<circle cx="408.5" cy="185.9" r="1.3" fill="#000"/>
<line x1="413.0" y1="190.4" x2="413.0" y2="197.1" stroke="#000" stroke-width="0.6"/>
<line x1="411.8" y1="190.4" x2="414.2" y2="190.4" stroke="#000" stroke-width="0.6"/>
<circle cx="413.0" cy="189.8" r="1.3" fill="#000"/>
<circle cx="411.2" cy="194.8" r="1.3" fill="#000"/>
<circle cx="414.8" cy="196.7" r="1.3" fill="#000"/>
<rect x="419.20" y="205.63" width="6.25" height="19.77" fill="#000"/>
<rect x="425.45" y="192.78" width="6.25" height="32.62" fill="#1818ff"/>
<rect x="431.70" y="206.22" width="6.25" height="19.18" fill="#f08228"/>
<rect x="437.95" y="208.20" width="6.25" height="17.20" fill="#f3f33c"/>
<line x1="428.6" y1="191.7" x2="428.6" y2="193.8" stroke="#000" stroke-width="0.6"/>
<line x1="427.4" y1="191.7" x2="429.8" y2="191.7" stroke="#000" stroke-width="0.6"/>
<circle cx="428.6" cy="192.2" r="1.3" fill="#000"/>
<circle cx="426.8" cy="192.8" r="1.3" fill="#000"/>
<circle cx="430.4" cy="193.4" r="1.3" fill="#000"/>
<line x1="434.8" y1="205.1" x2="434.8" y2="207.4" stroke="#000" stroke-width="0.6"/>
<line x1="433.6" y1="205.1" x2="436.0" y2="205.1" stroke="#000" stroke-width="0.6"/>
<circle cx="434.8" cy="205.6" r="1.3" fill="#000"/>
<circle cx="433.0" cy="207.0" r="1.3" fill="#000"/>
<circle cx="436.6" cy="206.2" r="1.3" fill="#000"/>
<line x1="441.1" y1="207.0" x2="441.1" y2="209.4" stroke="#000" stroke-width="0.6"/>
<line x1="439.9" y1="207.0" x2="442.3" y2="207.0" stroke="#000" stroke-width="0.6"/>
<circle cx="441.1" cy="207.0" r="1.3" fill="#000"/>
<circle cx="439.3" cy="208.6" r="1.3" fill="#000"/>
<circle cx="442.9" cy="208.6" r="1.3" fill="#000"/>
<rect x="447.50" y="205.63" width="6.25" height="19.77" fill="#000"/>
<rect x="453.75" y="182.50" width="6.25" height="42.90" fill="#1818ff"/>
<rect x="460.00" y="197.72" width="6.25" height="27.68" fill="#f08228"/>
<rect x="466.25" y="200.69" width="6.25" height="24.71" fill="#f3f33c"/>
<line x1="456.9" y1="181.4" x2="456.9" y2="183.6" stroke="#000" stroke-width="0.6"/>
<line x1="455.7" y1="181.4" x2="458.1" y2="181.4" stroke="#000" stroke-width="0.6"/>
<circle cx="456.9" cy="181.5" r="1.3" fill="#000"/>
<circle cx="455.1" cy="182.9" r="1.3" fill="#000"/>
<circle cx="458.7" cy="182.9" r="1.3" fill="#000"/>
<line x1="463.1" y1="195.5" x2="463.1" y2="199.9" stroke="#000" stroke-width="0.6"/>
<line x1="461.9" y1="195.5" x2="464.3" y2="195.5" stroke="#000" stroke-width="0.6"/>
<circle cx="463.1" cy="194.8" r="1.3" fill="#000"/>
<circle cx="461.3" cy="197.7" r="1.3" fill="#000"/>
<circle cx="464.9" cy="198.7" r="1.3" fill="#000"/>
<line x1="469.4" y1="199.1" x2="469.4" y2="202.2" stroke="#000" stroke-width="0.6"/>
<line x1="468.2" y1="199.1" x2="470.6" y2="199.1" stroke="#000" stroke-width="0.6"/>
<circle cx="469.4" cy="199.3" r="1.3" fill="#000"/>
<circle cx="467.6" cy="200.7" r="1.3" fill="#000"/>
<circle cx="471.2" cy="201.7" r="1.3" fill="#000"/>
<rect x="475.80" y="205.63" width="6.25" height="19.77" fill="#000"/>
<rect x="482.05" y="184.48" width="6.25" height="40.92" fill="#1818ff"/>
<rect x="488.30" y="193.17" width="6.25" height="32.23" fill="#f08228"/>
<rect x="494.55" y="199.70" width="6.25" height="25.70" fill="#f3f33c"/>
<line x1="485.2" y1="175.2" x2="485.2" y2="193.8" stroke="#000" stroke-width="0.6"/>
<line x1="484.0" y1="175.2" x2="486.4" y2="175.2" stroke="#000" stroke-width="0.6"/>
<circle cx="485.2" cy="167.1" r="1.3" fill="#000"/>
<circle cx="483.4" cy="178.9" r="1.3" fill="#000"/>
<circle cx="487.0" cy="182.9" r="1.3" fill="#000"/>
<circle cx="484.3" cy="187.8" r="1.3" fill="#000"/>
<circle cx="486.4" cy="188.8" r="1.3" fill="#000"/>
<line x1="491.4" y1="189.0" x2="491.4" y2="197.3" stroke="#000" stroke-width="0.6"/>
<line x1="490.2" y1="189.0" x2="492.6" y2="189.0" stroke="#000" stroke-width="0.6"/>
<circle cx="491.4" cy="188.8" r="1.3" fill="#000"/>
<circle cx="489.6" cy="191.8" r="1.3" fill="#000"/>
<circle cx="493.2" cy="193.8" r="1.3" fill="#000"/>
<circle cx="490.5" cy="194.8" r="1.3" fill="#000"/>
<circle cx="492.6" cy="197.7" r="1.3" fill="#000"/>
<line x1="497.7" y1="196.3" x2="497.7" y2="203.1" stroke="#000" stroke-width="0.6"/>
<line x1="496.5" y1="196.3" x2="498.9" y2="196.3" stroke="#000" stroke-width="0.6"/>
<circle cx="497.7" cy="196.7" r="1.3" fill="#000"/>
<circle cx="495.9" cy="197.7" r="1.3" fill="#000"/>
<circle cx="499.5" cy="199.7" r="1.3" fill="#000"/>
<circle cx="496.8" cy="203.7" r="1.3" fill="#000"/>
<rect x="504.00" y="205.63" width="6.25" height="19.77" fill="#000"/>
<rect x="510.25" y="195.75" width="6.25" height="29.66" fill="#1818ff"/>
<rect x="516.50" y="189.81" width="6.25" height="35.59" fill="#f08228"/>
<rect x="522.75" y="214.53" width="6.25" height="10.87" fill="#f3f33c"/>
<line x1="513.4" y1="193.2" x2="513.4" y2="198.3" stroke="#000" stroke-width="0.6"/>
<line x1="512.2" y1="193.2" x2="514.6" y2="193.2" stroke="#000" stroke-width="0.6"/>
<circle cx="513.4" cy="193.8" r="1.3" fill="#000"/>
<circle cx="511.6" cy="194.8" r="1.3" fill="#000"/>
<circle cx="515.2" cy="198.7" r="1.3" fill="#000"/>
<line x1="519.6" y1="186.8" x2="519.6" y2="192.8" stroke="#000" stroke-width="0.6"/>
<line x1="518.4" y1="186.8" x2="520.8" y2="186.8" stroke="#000" stroke-width="0.6"/>
<circle cx="519.6" cy="184.9" r="1.3" fill="#000"/>
<circle cx="517.8" cy="188.8" r="1.3" fill="#000"/>
<circle cx="521.4" cy="190.8" r="1.3" fill="#000"/>
<line x1="525.9" y1="212.4" x2="525.9" y2="216.7" stroke="#000" stroke-width="0.6"/>
<line x1="524.7" y1="212.4" x2="527.1" y2="212.4" stroke="#000" stroke-width="0.6"/>
<circle cx="525.9" cy="211.6" r="1.3" fill="#000"/>
<circle cx="524.1" cy="213.5" r="1.3" fill="#000"/>
<circle cx="527.7" cy="215.5" r="1.3" fill="#000"/>
<rect x="532.00" y="205.63" width="6.25" height="19.77" fill="#000"/>
<rect x="538.25" y="177.95" width="6.25" height="47.45" fill="#1818ff"/>
<rect x="544.50" y="194.36" width="6.25" height="31.04" fill="#f08228"/>
<rect x="550.75" y="197.33" width="6.25" height="28.07" fill="#f3f33c"/>
<line x1="541.4" y1="175.4" x2="541.4" y2="180.5" stroke="#000" stroke-width="0.6"/>
<line x1="540.2" y1="175.4" x2="542.6" y2="175.4" stroke="#000" stroke-width="0.6"/>
<circle cx="541.4" cy="174.0" r="1.3" fill="#000"/>
<circle cx="539.6" cy="178.9" r="1.3" fill="#000"/>
<circle cx="543.2" cy="178.9" r="1.3" fill="#000"/>
<line x1="547.6" y1="192.8" x2="547.6" y2="195.9" stroke="#000" stroke-width="0.6"/>
<line x1="546.4" y1="192.8" x2="548.8" y2="192.8" stroke="#000" stroke-width="0.6"/>
<circle cx="547.6" cy="193.4" r="1.3" fill="#000"/>
<circle cx="545.8" cy="194.2" r="1.3" fill="#000"/>
<circle cx="549.4" cy="195.7" r="1.3" fill="#000"/>
<line x1="553.9" y1="195.9" x2="553.9" y2="198.7" stroke="#000" stroke-width="0.6"/>
<line x1="552.7" y1="195.9" x2="555.1" y2="195.9" stroke="#000" stroke-width="0.6"/>
<circle cx="553.9" cy="196.1" r="1.3" fill="#000"/>
<circle cx="552.1" cy="197.3" r="1.3" fill="#000"/>
<circle cx="555.7" cy="198.1" r="1.3" fill="#000"/>
<text x="306.7" y="172.0" font-size="6" font-weight="bold" textLength="21.1" lengthAdjust="spacingAndGlyphs" fill="#000">p=0.001</text>
<path d="M307.4,174.0 V170.8 H316.2 V174.0" stroke="#000" stroke-width="0.8" fill="none"/>
<text x="307.0" y="159.1" font-size="6" font-weight="bold" textLength="24.7" lengthAdjust="spacingAndGlyphs" fill="#000">p=0.0002</text>
<path d="M315.5,163.9 V160.7 H322.9 V163.9" stroke="#000" stroke-width="0.8" fill="none"/>
<text x="310.9" y="145.9" font-size="6" font-weight="bold" textLength="21.7" lengthAdjust="spacingAndGlyphs" fill="#000">p=0.003</text>
<path d="M315.5,151.1 V147.9 H328.5 V151.1" stroke="#000" stroke-width="0.8" fill="none"/>
<text x="327.5" y="78.6" font-size="6" font-weight="bold" textLength="25.2" lengthAdjust="spacingAndGlyphs" fill="#000">p&lt;0.0001</text>
<path d="M337.5,83.2 V80.0 H344.6 V83.2" stroke="#000" stroke-width="0.8" fill="none"/>
<text x="335.6" y="66.1" font-size="6" font-weight="bold" textLength="24.7" lengthAdjust="spacingAndGlyphs" fill="#000">p&lt;0.0001</text>
<path d="M344.2,70.6 V67.4 H351.4 V70.6" stroke="#000" stroke-width="0.8" fill="none"/>
<text x="337.5" y="53.3" font-size="6" font-weight="bold" textLength="25.3" lengthAdjust="spacingAndGlyphs" fill="#000">p=0.0021</text>
<path d="M344.2,58.2 V55.0 H357.5 V58.2" stroke="#000" stroke-width="0.8" fill="none"/>
<text x="355.8" y="169.0" font-size="6" font-weight="bold" textLength="24.6" lengthAdjust="spacingAndGlyphs" fill="#000">p&lt;0.0001</text>
<path d="M364.3,173.3 V170.1 H372.3 V173.3" stroke="#000" stroke-width="0.8" fill="none"/>
<text x="361.1" y="152.9" font-size="6" font-weight="bold" textLength="24.7" lengthAdjust="spacingAndGlyphs" fill="#000">p&lt;0.0001</text>
<path d="M371.4,157.7 V154.5 H379.4 V157.7" stroke="#000" stroke-width="0.8" fill="none"/>
<text x="365.9" y="139.4" font-size="6" font-weight="bold" textLength="24.8" lengthAdjust="spacingAndGlyphs" fill="#000">p&lt;0.0001</text>
<path d="M371.4,144.1 V140.9 H385.5 V144.1" stroke="#000" stroke-width="0.8" fill="none"/>
<text x="385.2" y="165.1" font-size="6" font-weight="bold" textLength="24.4" lengthAdjust="spacingAndGlyphs" fill="#000">p&lt;0.0001</text>
<path d="M393.2,169.5 V166.3 H400.8 V169.5" stroke="#000" stroke-width="0.8" fill="none"/>
<text x="398.0" y="153.4" font-size="6" font-weight="bold" textLength="9.2" lengthAdjust="spacingAndGlyphs" fill="#000">n.s.</text>
<path d="M398.4,158.9 V155.7 H406.1 V158.9" stroke="#000" stroke-width="0.8" fill="none"/>
<text x="393.2" y="141.4" font-size="6" font-weight="bold" textLength="24.8" lengthAdjust="spacingAndGlyphs" fill="#000">p=0.0019</text>
<path d="M398.7,145.7 V142.5 H411.5 V145.7" stroke="#000" stroke-width="0.8" fill="none"/>
<text x="414.1" y="183.9" font-size="6" font-weight="bold" textLength="24.1" lengthAdjust="spacingAndGlyphs" fill="#000">p&lt;0.0001</text>
<path d="M421.2,188.2 V185.0 H428.9 V188.2" stroke="#000" stroke-width="0.8" fill="none"/>
<text x="418.9" y="171.1" font-size="6" font-weight="bold" textLength="24.1" lengthAdjust="spacingAndGlyphs" fill="#000">p&lt;0.0001</text>
<path d="M428.6,174.9 V171.7 H435.3 V174.9" stroke="#000" stroke-width="0.8" fill="none"/>
<text x="424.4" y="155.8" font-size="6" font-weight="bold" textLength="24.6" lengthAdjust="spacingAndGlyphs" fill="#000">p&lt;0.0001</text>
<path d="M428.6,160.9 V157.7 H441.7 V160.9" stroke="#000" stroke-width="0.8" fill="none"/>
<text x="441.9" y="173.7" font-size="6" font-weight="bold" textLength="24.3" lengthAdjust="spacingAndGlyphs" fill="#000">p&lt;0.0001</text>
<path d="M449.5,178.2 V175.0 H457.1 V178.2" stroke="#000" stroke-width="0.8" fill="none"/>
<text x="447.2" y="162.9" font-size="6" font-weight="bold" textLength="24.1" lengthAdjust="spacingAndGlyphs" fill="#000">p&lt;0.0001</text>
<path d="M456.7,166.9 V163.7 H463.7 V166.9" stroke="#000" stroke-width="0.8" fill="none"/>
<text x="451.0" y="150.9" font-size="6" font-weight="bold" textLength="24.7" lengthAdjust="spacingAndGlyphs" fill="#000">p&lt;0.0001</text>
<path d="M456.7,155.8 V152.6 H469.4 V155.8" stroke="#000" stroke-width="0.8" fill="none"/>
<text x="475.1" y="162.0" font-size="6" font-weight="bold" textLength="25.3" lengthAdjust="spacingAndGlyphs" fill="#000">p&lt;0.0001</text>
<path d="M477.6,166.5 V163.3 H485.2 V166.5" stroke="#000" stroke-width="0.8" fill="none"/>
<text x="478.9" y="149.6" font-size="6" font-weight="bold" textLength="24.1" lengthAdjust="spacingAndGlyphs" fill="#000">p=0.0069</text>
<path d="M485.2,153.6 V150.4 H492.8 V153.6" stroke="#000" stroke-width="0.8" fill="none"/>
<text x="478.9" y="136.3" font-size="6" font-weight="bold" textLength="24.7" lengthAdjust="spacingAndGlyphs" fill="#000">p=0.0006</text>
<path d="M485.2,140.7 V137.5 H498.5 V140.7" stroke="#000" stroke-width="0.8" fill="none"/>
<text x="494.7" y="186.2" font-size="6" font-weight="bold" textLength="24.1" lengthAdjust="spacingAndGlyphs" fill="#000">p=0.0037</text>
<path d="M505.5,190.6 V187.4 H513.1 V190.6" stroke="#000" stroke-width="0.8" fill="none"/>
<text x="506.4" y="173.3" font-size="6" font-weight="bold" textLength="18.6" lengthAdjust="spacingAndGlyphs" fill="#000">p=0.03</text>
<path d="M512.5,177.9 V174.7 H519.3 V177.9" stroke="#000" stroke-width="0.8" fill="none"/>
<text x="505.5" y="162.0" font-size="6" font-weight="bold" textLength="25.2" lengthAdjust="spacingAndGlyphs" fill="#000">p&lt;0.0001</text>
<path d="M512.5,165.9 V162.7 H525.8 V165.9" stroke="#000" stroke-width="0.8" fill="none"/>
<text x="526.9" y="167.3" font-size="6" font-weight="bold" textLength="24.7" lengthAdjust="spacingAndGlyphs" fill="#000">p&lt;0.0001</text>
<path d="M533.4,171.6 V168.4 H540.6 V171.6" stroke="#000" stroke-width="0.8" fill="none"/>
<text x="529.6" y="154.4" font-size="6" font-weight="bold" textLength="24.7" lengthAdjust="spacingAndGlyphs" fill="#000">p&lt;0.0001</text>
<path d="M540.6,158.9 V155.7 H546.7 V158.9" stroke="#000" stroke-width="0.8" fill="none"/>
<text x="533.9" y="141.5" font-size="6" font-weight="bold" textLength="24.7" lengthAdjust="spacingAndGlyphs" fill="#000">p&lt;0.0001</text>
<path d="M540.6,145.6 V142.4 H553.5 V145.6" stroke="#000" stroke-width="0.8" fill="none"/>
<text x="273.9" y="241.2" font-size="10.5" font-weight="bold" font-style="italic" textLength="29.6" lengthAdjust="spacingAndGlyphs" fill="#000">ATP6:</text>
<text x="309.0" y="241.6" font-size="10.5" font-weight="bold" font-style="italic" textLength="17.4" lengthAdjust="spacingAndGlyphs" fill="#000">V1A</text>
<text x="336.0" y="241.6" font-size="10.5" font-weight="bold" font-style="italic" textLength="23.0" lengthAdjust="spacingAndGlyphs" fill="#000">V1B2</text>
<text x="364.5" y="241.6" font-size="10.5" font-weight="bold" font-style="italic" textLength="21.0" lengthAdjust="spacingAndGlyphs" fill="#000">V0C</text>
<text x="391.0" y="241.6" font-size="10.5" font-weight="bold" font-style="italic" textLength="23.5" lengthAdjust="spacingAndGlyphs" fill="#000">V1C1</text>
<text x="419.5" y="241.6" font-size="10.5" font-weight="bold" font-style="italic" textLength="23.5" lengthAdjust="spacingAndGlyphs" fill="#000">V0D1</text>
<text x="451.4" y="241.6" font-size="10.5" font-weight="bold" font-style="italic" textLength="18.0" lengthAdjust="spacingAndGlyphs" fill="#000">V1D</text>
<text x="476.0" y="241.6" font-size="10.5" font-weight="bold" font-style="italic" textLength="21.9" lengthAdjust="spacingAndGlyphs" fill="#000">V1E1</text>
<text x="503.6" y="241.6" font-size="10.5" font-weight="bold" font-style="italic" textLength="22.8" lengthAdjust="spacingAndGlyphs" fill="#000">V1G1</text>
<text x="534.5" y="241.6" font-size="10.5" font-weight="bold" font-style="italic" textLength="17.5" lengthAdjust="spacingAndGlyphs" fill="#000">V1H</text>
<line x1="592.7" y1="135.8" x2="592.7" y2="227.6" stroke="#000" stroke-width="1.3"/>
<line x1="592.1" y1="227.0" x2="682.0" y2="227.0" stroke="#000" stroke-width="1.3"/>
<line x1="589.5" y1="227.0" x2="592.7" y2="227.0" stroke="#000" stroke-width="1.1"/>
<text x="588.0" y="230.1" font-size="9" font-weight="bold" text-anchor="end" fill="#000">0</text>
<line x1="589.5" y1="214.0" x2="592.7" y2="214.0" stroke="#000" stroke-width="1.1"/>
<text x="588.0" y="217.1" font-size="9" font-weight="bold" text-anchor="end" fill="#000">50</text>
<line x1="589.5" y1="201.1" x2="592.7" y2="201.1" stroke="#000" stroke-width="1.1"/>
<text x="588.0" y="204.2" font-size="9" font-weight="bold" text-anchor="end" fill="#000">100</text>
<line x1="589.5" y1="188.1" x2="592.7" y2="188.1" stroke="#000" stroke-width="1.1"/>
<text x="588.0" y="191.2" font-size="9" font-weight="bold" text-anchor="end" fill="#000">150</text>
<line x1="589.5" y1="175.1" x2="592.7" y2="175.1" stroke="#000" stroke-width="1.1"/>
<text x="588.0" y="178.2" font-size="9" font-weight="bold" text-anchor="end" fill="#000">200</text>
<line x1="589.5" y1="162.1" x2="592.7" y2="162.1" stroke="#000" stroke-width="1.1"/>
<text x="588.0" y="165.2" font-size="9" font-weight="bold" text-anchor="end" fill="#000">250</text>
<line x1="589.5" y1="149.2" x2="592.7" y2="149.2" stroke="#000" stroke-width="1.1"/>
<text x="588.0" y="152.3" font-size="9" font-weight="bold" text-anchor="end" fill="#000">300</text>
<line x1="589.5" y1="136.2" x2="592.7" y2="136.2" stroke="#000" stroke-width="1.1"/>
<text x="588.0" y="139.3" font-size="9" font-weight="bold" text-anchor="end" fill="#000">350</text>
<rect x="620.70" y="173.04" width="17.00" height="53.96" fill="#1818ff" stroke="#000" stroke-width="0.8"/>
<rect x="637.70" y="209.36" width="18.00" height="17.64" fill="#f08228" stroke="#000" stroke-width="0.8"/>
<rect x="655.70" y="224.92" width="17.90" height="2.08" fill="#c8c83a" stroke="#000" stroke-width="0.8"/>
<line x1="629.2" y1="164.7" x2="629.2" y2="181.3" stroke="#000" stroke-width="0.7"/>
<line x1="626.5" y1="164.7" x2="632.0" y2="164.7" stroke="#000" stroke-width="0.7"/>
<line x1="626.5" y1="181.3" x2="632.0" y2="181.3" stroke="#000" stroke-width="0.7"/>
<line x1="646.7" y1="206.2" x2="646.7" y2="212.0" stroke="#000" stroke-width="0.7"/>
<line x1="644.0" y1="206.2" x2="649.5" y2="206.2" stroke="#000" stroke-width="0.7"/>
<circle cx="629.5" cy="140.1" r="2.1" fill="#000"/>
<circle cx="625.4" cy="165.8" r="2.1" fill="#000"/>
<circle cx="633.0" cy="166.8" r="2.1" fill="#000"/>
<circle cx="629.5" cy="181.3" r="2.1" fill="#000"/>
<circle cx="629.5" cy="188.1" r="2.1" fill="#000"/>
<circle cx="629.5" cy="194.8" r="2.1" fill="#000"/>
<circle cx="643.5" cy="202.1" r="2.1" fill="#000"/>
<circle cx="650.8" cy="202.1" r="2.1" fill="#000"/>
<circle cx="643.0" cy="210.1" r="2.1" fill="#000"/>
<circle cx="651.2" cy="210.1" r="2.1" fill="#000"/>
<circle cx="647.3" cy="215.8" r="2.1" fill="#000"/>
<circle cx="652.6" cy="210.9" r="2.1" fill="#000"/>
<circle cx="657.9" cy="224.9" r="2.1" fill="#000"/>
<circle cx="665.2" cy="223.1" r="2.1" fill="#000"/>
<circle cx="672.2" cy="224.4" r="2.1" fill="#000"/>
<circle cx="603.0" cy="226.7" r="1.9" fill="#000"/>
<circle cx="606.1" cy="226.7" r="1.9" fill="#000"/>
<circle cx="609.2" cy="226.7" r="1.9" fill="#000"/>
<circle cx="612.3" cy="226.7" r="1.9" fill="#000"/>
<circle cx="615.4" cy="226.7" r="1.9" fill="#000"/>
<circle cx="618.4" cy="226.7" r="1.9" fill="#000"/>
<text x="609.7" y="242.2" font-size="11.2" font-weight="bold" font-style="italic" textLength="56.6" lengthAdjust="spacingAndGlyphs" fill="#000">ATP6V0D2</text>
<text x="603.9" y="135.3" font-size="7.6" font-weight="bold" textLength="32.1" lengthAdjust="spacingAndGlyphs" fill="#000">p&lt;0.0001</text>
<path d="M609.7,141.0 V137.0 H629.0 V141.0" stroke="#000" stroke-width="0.9" fill="none"/>
<text x="620.7" y="120.0" font-size="7.6" font-weight="bold" textLength="31.5" lengthAdjust="spacingAndGlyphs" fill="#000">p&lt;0.0001</text>
<path d="M627.2,125.3 V121.3 H647.3 V125.3" stroke="#000" stroke-width="0.9" fill="none"/>
<text x="632.4" y="106.7" font-size="7.6" font-weight="bold" textLength="32.1" lengthAdjust="spacingAndGlyphs" fill="#000">p&lt;0.0001</text>
<path d="M629.5,112.1 V108.1 H665.7 V112.1" stroke="#000" stroke-width="0.9" fill="none"/>
<text x="62.0" y="268.1" font-size="11" font-weight="bold" textLength="95.6" lengthAdjust="spacingAndGlyphs" fill="#000">HK-2/<tspan font-style="italic">SFPQ-TFE3</tspan></text>
<line x1="74.0" y1="273.0" x2="150.9" y2="273.0" stroke="#000" stroke-width="1.6"/>
<rect x="77.40" y="283.30" width="5.00" height="1.80" fill="#000"/>
<text x="92.3" y="287.2" font-size="11" textLength="58.6" lengthAdjust="spacingAndGlyphs" fill="#000" stroke="#000" stroke-width="0.12">Doxycycline</text>
<line x1="96.3" y1="291.4" x2="144.0" y2="291.4" stroke="#000" stroke-width="1.1"/>
<text transform="translate(82.0,315.8) rotate(-41)" x="0" y="0" font-size="10.8" fill="#000" stroke="#000" stroke-width="0.22">dmso</text>
<text transform="translate(100.8,315.3) rotate(-41)" x="0" y="0" font-size="10.8" fill="#000" stroke="#000" stroke-width="0.22">dmso</text>
<text transform="translate(119.0,315.3) rotate(-41)" x="0" y="0" font-size="10.8" fill="#000" stroke="#000" stroke-width="0.22">Torin</text>
<text transform="translate(134.3,317.8) rotate(-39)" x="0" y="0" font-size="10.8" fill="#000" stroke="#000" stroke-width="0.22">Rheb siRNA</text>
<rect x="74.50" y="318.90" width="71.90" height="22.90" fill="#ececec"/>
<rect x="76.5" y="329.6" width="15.0" height="4.2" rx="2.1" fill="rgb(2,2,2)" filter="url(#b9)"/>
<rect x="94.8" y="328.9" width="14.5" height="5.6" rx="2.8" fill="rgb(0,0,0)" filter="url(#b9)"/>
<rect x="112.7" y="330.3" width="13.0" height="2.8" rx="1.4" fill="rgb(38,38,38)" filter="url(#b9)"/>
<rect x="131.1" y="330.4" width="12.0" height="2.6" rx="1.3" fill="rgb(49,49,49)" filter="url(#b9)"/>
<rect x="74.50" y="344.80" width="70.70" height="36.70" fill="#f2f2f2"/>
<rect x="76.5" y="359.4" width="15.0" height="4.6" rx="2.3" fill="rgb(2,2,2)" filter="url(#b9)"/>
<rect x="94.5" y="357.9" width="15.0" height="7.5" rx="3.8" fill="rgb(0,0,0)" filter="url(#b9)"/>
<rect x="112.7" y="359.7" width="13.0" height="4.0" rx="2.0" fill="rgb(4,4,4)" filter="url(#b9)"/>
<rect x="130.6" y="359.7" width="13.0" height="4.0" rx="2.0" fill="rgb(4,4,4)" filter="url(#b9)"/>
<rect x="75.00" y="385.00" width="70.20" height="29.70" fill="#cdcdcd"/>
<rect x="77.0" y="386" width="13" height="28" fill="#c1c1c1" filter="url(#b12)"/>
<rect x="93.3" y="386" width="13" height="28" fill="#c1c1c1" filter="url(#b12)"/>
<rect x="110.5" y="386" width="13" height="28" fill="#c1c1c1" filter="url(#b12)"/>
<rect x="128.3" y="386" width="13" height="28" fill="#c1c1c1" filter="url(#b12)"/>
<rect x="76.5" y="389.0" width="14.0" height="5.0" rx="2.5" fill="rgb(199,199,199)" filter="url(#b18)"/>
<rect x="92.8" y="389.0" width="14.0" height="5.0" rx="2.5" fill="rgb(199,199,199)" filter="url(#b18)"/>
<rect x="110.0" y="389.0" width="14.0" height="5.0" rx="2.5" fill="rgb(199,199,199)" filter="url(#b18)"/>
<rect x="127.8" y="389.0" width="14.0" height="5.0" rx="2.5" fill="rgb(199,199,199)" filter="url(#b18)"/>
<rect x="76.5" y="399.9" width="14.0" height="3.8" rx="1.9" fill="rgb(2,2,2)" filter="url(#b9)"/>
<rect x="92.5" y="399.5" width="14.5" height="4.6" rx="2.3" fill="rgb(0,0,0)" filter="url(#b9)"/>
<rect x="110.5" y="400.3" width="13.0" height="3.0" rx="1.5" fill="rgb(49,49,49)" filter="url(#b9)"/>
<rect x="128.3" y="400.2" width="13.0" height="3.2" rx="1.6" fill="rgb(32,32,32)" filter="url(#b9)"/>
<rect x="75.00" y="417.20" width="70.20" height="31.10" fill="#ededed"/>
<rect x="77.0" y="430.6" width="14.0" height="4.0" rx="2.0" fill="rgb(4,4,4)" filter="url(#b9)"/>
<rect x="94.2" y="429.6" width="15.5" height="6.0" rx="3.0" fill="rgb(0,0,0)" filter="url(#b9)"/>
<rect x="112.2" y="430.2" width="14.0" height="4.8" rx="2.4" fill="rgb(2,2,2)" filter="url(#b9)"/>
<rect x="130.6" y="430.4" width="13.0" height="4.5" rx="2.2" fill="rgb(4,4,4)" filter="url(#b9)"/>
<rect x="75.00" y="452.00" width="71.00" height="29.90" fill="#e3e3e3"/>
<rect x="105" y="468" width="41" height="14" fill="#cfcfcf" filter="url(#b30)"/>
<rect x="77.0" y="466.7" width="14.0" height="2.8" rx="1.4" fill="rgb(71,71,71)" filter="url(#b9)"/>
<rect x="94.5" y="465.6" width="15.0" height="5.0" rx="2.5" fill="rgb(0,0,0)" filter="url(#b9)"/>
<rect x="112.7" y="466.8" width="13.0" height="2.6" rx="1.3" fill="rgb(95,95,95)" filter="url(#b9)"/>
<rect x="130.6" y="466.6" width="13.0" height="3.0" rx="1.5" fill="rgb(83,83,83)" filter="url(#b9)"/>
<text x="72.0" y="335.6" font-size="13" text-anchor="end" fill="#000" stroke="#000" stroke-width="0.14">ATP6V1A</text>
<text x="72.0" y="368.6" font-size="13" text-anchor="end" fill="#000" stroke="#000" stroke-width="0.14">ATP6V1B1</text>
<text x="72.0" y="404.9" font-size="13" text-anchor="end" fill="#000" stroke="#000" stroke-width="0.14">ATP6V1C1</text>
<text x="72.0" y="438.6" font-size="13" text-anchor="end" fill="#000" stroke="#000" stroke-width="0.14">ATP6V0D1</text>
<text x="72.0" y="471.9" font-size="13" text-anchor="end" fill="#000" stroke="#000" stroke-width="0.14">ATP6V1G1</text>
<line x1="148.4" y1="329.9" x2="154.4" y2="329.9" stroke="#000" stroke-width="1.2"/>
<text x="155.9" y="332.8" font-size="8.5" fill="#000">76</text>
<line x1="148.4" y1="347.3" x2="154.4" y2="347.3" stroke="#000" stroke-width="1.2"/>
<text x="155.9" y="350.2" font-size="8.5" fill="#000">76</text>
<line x1="148.4" y1="367.6" x2="154.4" y2="367.6" stroke="#000" stroke-width="1.2"/>
<text x="155.9" y="370.5" font-size="8.5" fill="#000">52</text>
<line x1="148.4" y1="391.2" x2="154.4" y2="391.2" stroke="#000" stroke-width="1.2"/>
<text x="155.9" y="394.1" font-size="8.5" fill="#000">52</text>
<line x1="148.4" y1="405.3" x2="154.4" y2="405.3" stroke="#000" stroke-width="1.2"/>
<text x="155.9" y="408.2" font-size="8.5" fill="#000">38</text>
<line x1="148.4" y1="422.2" x2="154.4" y2="422.2" stroke="#000" stroke-width="1.2"/>
<text x="155.9" y="425.1" font-size="8.5" fill="#000">52</text>
<line x1="148.4" y1="436.6" x2="154.4" y2="436.6" stroke="#000" stroke-width="1.2"/>
<text x="155.9" y="439.5" font-size="8.5" fill="#000">38</text>
<line x1="148.4" y1="464.4" x2="154.4" y2="464.4" stroke="#000" stroke-width="1.2"/>
<text x="155.9" y="467.3" font-size="8.5" fill="#000">17</text>
<text x="224.6" y="268.7" font-size="11" font-weight="bold" textLength="94.3" lengthAdjust="spacingAndGlyphs" fill="#000">HK-2/<tspan font-style="italic">SFPQ-TFE3</tspan></text>
<line x1="236.5" y1="274.3" x2="313.5" y2="274.3" stroke="#000" stroke-width="1.6"/>
<rect x="239.50" y="284.30" width="5.50" height="1.80" fill="#000"/>
<text x="254.4" y="288.0" font-size="11" textLength="59.1" lengthAdjust="spacingAndGlyphs" fill="#000" stroke="#000" stroke-width="0.12">Doxycycline</text>
<line x1="257.4" y1="292.2" x2="306.0" y2="292.2" stroke="#000" stroke-width="1.1"/>
<text transform="translate(243.0,316.5) rotate(-41)" x="0" y="0" font-size="10.8" fill="#000" stroke="#000" stroke-width="0.22">dmso</text>
<text transform="translate(262.0,316.5) rotate(-41)" x="0" y="0" font-size="10.8" fill="#000" stroke="#000" stroke-width="0.22">dmso</text>
<text transform="translate(281.4,316.5) rotate(-41)" x="0" y="0" font-size="10.8" fill="#000" stroke="#000" stroke-width="0.22">Torin</text>
<text transform="translate(300.0,318.0) rotate(-39)" x="0" y="0" font-size="10.8" fill="#000" stroke="#000" stroke-width="0.22">Rheb siRNA</text>
<rect x="235.00" y="320.00" width="71.00" height="27.30" fill="#f0f0f0"/>
<rect x="238.7" y="331.1" width="14.0" height="3.6" rx="1.8" fill="rgb(11,11,11)" filter="url(#b9)"/>
<rect x="255.6" y="330.5" width="15.0" height="4.8" rx="2.4" fill="rgb(0,0,0)" filter="url(#b9)"/>
<rect x="273.7" y="331.5" width="12.0" height="2.8" rx="1.4" fill="rgb(95,95,95)" filter="url(#b9)"/>
<rect x="290.1" y="331.4" width="12.0" height="3.0" rx="1.5" fill="rgb(76,76,76)" filter="url(#b9)"/>
<rect x="235.00" y="351.00" width="71.00" height="26.00" fill="#f1f1f1"/>
<rect x="239.7" y="352.9" width="12.0" height="2.5" rx="1.2" fill="rgb(204,204,204)" filter="url(#b12)"/>
<rect x="257.1" y="352.9" width="12.0" height="2.5" rx="1.2" fill="rgb(204,204,204)" filter="url(#b12)"/>
<rect x="273.7" y="352.9" width="12.0" height="2.5" rx="1.2" fill="rgb(213,213,213)" filter="url(#b12)"/>
<rect x="290.1" y="352.9" width="12.0" height="2.5" rx="1.2" fill="rgb(207,207,207)" filter="url(#b12)"/>
<rect x="237.7" y="360.6" width="16.0" height="8.0" rx="4.0" fill="rgb(0,0,0)" filter="url(#b9)"/>
<rect x="255.1" y="360.6" width="16.0" height="8.0" rx="4.0" fill="rgb(0,0,0)" filter="url(#b9)"/>
<rect x="272.2" y="360.9" width="15.0" height="7.5" rx="3.8" fill="rgb(0,0,0)" filter="url(#b9)"/>
<rect x="291.1" y="363.4" width="10.0" height="2.5" rx="1.2" fill="rgb(199,199,199)" filter="url(#b9)"/>
<rect x="237.00" y="381.20" width="70.30" height="30.50" fill="#e4e4e4"/>
<rect x="239.5" y="395.7" width="14.0" height="3.2" rx="1.6" fill="rgb(8,8,8)" filter="url(#b9)"/>
<rect x="256.5" y="394.8" width="15.0" height="5.0" rx="2.5" fill="rgb(0,0,0)" filter="url(#b9)"/>
<rect x="275.0" y="396.0" width="12.0" height="2.6" rx="1.3" fill="rgb(95,95,95)" filter="url(#b9)"/>
<rect x="292.0" y="395.8" width="12.0" height="3.0" rx="1.5" fill="rgb(60,60,60)" filter="url(#b9)"/>
<defs><linearGradient id="gts" x1="0" y1="0" x2="0" y2="1"><stop offset="0" stop-color="#8e8e8e"/><stop offset="0.5" stop-color="#a8a8a8"/><stop offset="1" stop-color="#bdbdbd"/></linearGradient></defs>
<rect x="237.00" y="416.70" width="70.30" height="16.60" fill="url(#gts)"/>
<rect x="239.5" y="421.6" width="15.0" height="6.0" rx="3.0" fill="rgb(0,0,0)" filter="url(#b8)"/>
<rect x="257.0" y="421.6" width="15.0" height="6.0" rx="3.0" fill="rgb(0,0,0)" filter="url(#b8)"/>
<rect x="274.0" y="421.9" width="15.0" height="5.5" rx="2.8" fill="rgb(0,0,0)" filter="url(#b8)"/>
<rect x="290.5" y="421.1" width="16.0" height="7.0" rx="3.5" fill="rgb(0,0,0)" filter="url(#b8)"/>
<rect x="237.00" y="440.00" width="70.30" height="28.80" fill="#e0e0e0"/>
<rect x="239.5" y="451.9" width="15.0" height="6.0" rx="3.0" fill="rgb(0,0,0)" filter="url(#b8)"/>
<rect x="257.0" y="451.9" width="15.0" height="6.0" rx="3.0" fill="rgb(0,0,0)" filter="url(#b8)"/>
<rect x="274.5" y="452.4" width="14.0" height="5.0" rx="2.5" fill="rgb(2,2,2)" filter="url(#b8)"/>
<rect x="291.0" y="451.9" width="15.0" height="6.0" rx="3.0" fill="rgb(0,0,0)" filter="url(#b8)"/>
<text x="233.3" y="337.4" font-size="13" text-anchor="end" fill="#000" stroke="#000" stroke-width="0.14">ATP6V1H</text>
<text x="233.3" y="370.4" font-size="13" text-anchor="end" fill="#000" stroke="#000" stroke-width="0.14">RHEB</text>
<text x="233.3" y="403.1" font-size="13" text-anchor="end" fill="#000" stroke="#000" stroke-width="0.14">p-S6</text>
<text x="233.3" y="428.6" font-size="13" text-anchor="end" fill="#000" stroke="#000" stroke-width="0.14">t-S6</text>
<text x="233.3" y="459.4" font-size="13" text-anchor="end" fill="#000" stroke="#000" stroke-width="0.14">GAPDH</text>
<line x1="309.5" y1="337.8" x2="316.0" y2="337.8" stroke="#000" stroke-width="1.2"/>
<text x="317.5" y="340.7" font-size="8.5" fill="#000">52</text>
<line x1="309.5" y1="364.1" x2="316.0" y2="364.1" stroke="#000" stroke-width="1.2"/>
<text x="317.5" y="367.0" font-size="8.5" fill="#000">24</text>
<line x1="309.5" y1="374.6" x2="316.0" y2="374.6" stroke="#000" stroke-width="1.2"/>
<text x="317.5" y="377.5" font-size="8.5" fill="#000">17</text>
<line x1="309.5" y1="386.9" x2="316.0" y2="386.9" stroke="#000" stroke-width="1.2"/>
<text x="317.5" y="389.8" font-size="8.5" fill="#000">38</text>
<line x1="309.5" y1="402.8" x2="316.0" y2="402.8" stroke="#000" stroke-width="1.2"/>
<text x="317.5" y="405.7" font-size="8.5" fill="#000">31</text>
<line x1="309.5" y1="430.8" x2="316.0" y2="430.8" stroke="#000" stroke-width="1.2"/>
<text x="317.5" y="433.7" font-size="8.5" fill="#000">31</text>
<line x1="309.5" y1="456.4" x2="316.0" y2="456.4" stroke="#000" stroke-width="1.2"/>
<text x="317.5" y="459.3" font-size="8.5" fill="#000">38</text>
<rect x="403.20" y="266.80" width="9.40" height="8.30" fill="#1a1aff" stroke="#333" stroke-width="0.6"/>
<rect x="403.20" y="278.50" width="9.40" height="8.40" fill="#f43c44" stroke="#333" stroke-width="0.6"/>
<rect x="403.20" y="290.30" width="9.40" height="9.00" fill="#f4f43a" stroke="#333" stroke-width="0.6"/>
<rect x="403.20" y="303.70" width="9.40" height="9.10" fill="#f08228" stroke="#333" stroke-width="0.6"/>
<text x="415.6" y="274.0" font-size="8.5" font-weight="bold" textLength="86.3" lengthAdjust="spacingAndGlyphs" fill="#000">HK2/ <tspan font-style="italic">SFPQ-TFE3</tspan> (- Dox)</text>
<text x="415.6" y="285.8" font-size="8.5" font-weight="bold" textLength="87.5" lengthAdjust="spacingAndGlyphs" fill="#000">HK2/ <tspan font-style="italic">SFPQ-TFE3</tspan> (+ Dox)</text>
<text x="415.6" y="298.2" font-size="8.5" font-weight="bold" textLength="118.5" lengthAdjust="spacingAndGlyphs" fill="#000">HK2/ <tspan font-style="italic">SFPQ-TFE3</tspan> (+ Dox +Torin1)</text>
<text x="415.6" y="310.9" font-size="8.5" font-weight="bold" textLength="142.7" lengthAdjust="spacingAndGlyphs" fill="#000">HK2/ <tspan font-style="italic">SFPQ-TFE3</tspan> (+ Dox +<tspan font-style="italic">Rheb1</tspan> siRNA)</text>
<line x1="407.1" y1="338.3" x2="407.1" y2="456.8" stroke="#000" stroke-width="1.3"/>
<line x1="406.5" y1="456.2" x2="662.1" y2="456.2" stroke="#000" stroke-width="1.3"/>
<line x1="404.2" y1="358.3" x2="407.1" y2="358.3" stroke="#000" stroke-width="1.1"/>
<text x="403.6" y="361.7" font-size="10" font-weight="bold" text-anchor="end" fill="#000">1</text>
<line x1="404.2" y1="456.2" x2="407.1" y2="456.2" stroke="#000" stroke-width="1.1"/>
<text x="403.6" y="459.6" font-size="10" font-weight="bold" text-anchor="end" fill="#000">0</text>
<text transform="translate(371.6,394.5) rotate(-90)" x="0" y="4.1" font-size="12" font-weight="bold" text-anchor="middle" textLength="65.7" lengthAdjust="spacingAndGlyphs" fill="#000">Normalized</text>
<text transform="translate(384.7,396.6) rotate(-90)" x="0" y="4.1" font-size="12" font-weight="bold" text-anchor="middle" textLength="81.0" lengthAdjust="spacingAndGlyphs" fill="#000">band intensity</text>
<rect x="411.00" y="401.38" width="8.40" height="54.82" fill="#1a1aff" stroke="#3a3a3a" stroke-width="0.5"/>
<rect x="419.40" y="358.30" width="8.40" height="97.90" fill="#f43c44" stroke="#3a3a3a" stroke-width="0.5"/>
<rect x="427.80" y="412.14" width="8.40" height="44.06" fill="#f4f43a" stroke="#3a3a3a" stroke-width="0.5"/>
<rect x="436.20" y="419.00" width="8.40" height="37.20" fill="#f08228" stroke="#3a3a3a" stroke-width="0.5"/>
<line x1="415.2" y1="393.5" x2="415.2" y2="409.2" stroke="#000" stroke-width="0.6"/>
<line x1="413.4" y1="393.5" x2="417.0" y2="393.5" stroke="#000" stroke-width="0.6"/>
<line x1="413.4" y1="409.2" x2="417.0" y2="409.2" stroke="#000" stroke-width="0.6"/>
<circle cx="413.6" cy="385.7" r="1.45" fill="#000"/>
<circle cx="416.8" cy="407.2" r="1.45" fill="#000"/>
<circle cx="415.2" cy="415.1" r="1.45" fill="#000"/>
<rect x="420.00" y="356.90" width="7.20" height="2.80" fill="#000" rx="1.4"/>
<line x1="432.0" y1="410.2" x2="432.0" y2="414.1" stroke="#000" stroke-width="0.6"/>
<line x1="430.2" y1="410.2" x2="433.8" y2="410.2" stroke="#000" stroke-width="0.6"/>
<line x1="430.2" y1="414.1" x2="433.8" y2="414.1" stroke="#000" stroke-width="0.6"/>
<circle cx="430.4" cy="409.2" r="1.45" fill="#000"/>
<circle cx="433.6" cy="412.1" r="1.45" fill="#000"/>
<circle cx="432.0" cy="409.2" r="1.45" fill="#000"/>
<line x1="440.4" y1="413.1" x2="440.4" y2="424.9" stroke="#000" stroke-width="0.6"/>
<line x1="438.6" y1="413.1" x2="442.2" y2="413.1" stroke="#000" stroke-width="0.6"/>
<line x1="438.6" y1="424.9" x2="442.2" y2="424.9" stroke="#000" stroke-width="0.6"/>
<circle cx="438.8" cy="409.2" r="1.45" fill="#000"/>
<circle cx="442.0" cy="421.0" r="1.45" fill="#000"/>
<circle cx="440.4" cy="436.6" r="1.45" fill="#000"/>
<rect x="453.10" y="405.29" width="8.40" height="50.91" fill="#1a1aff" stroke="#3a3a3a" stroke-width="0.5"/>
<rect x="461.50" y="358.30" width="8.40" height="97.90" fill="#f43c44" stroke="#3a3a3a" stroke-width="0.5"/>
<rect x="469.90" y="409.50" width="8.40" height="46.70" fill="#f4f43a" stroke="#3a3a3a" stroke-width="0.5"/>
<rect x="478.30" y="393.54" width="8.40" height="62.66" fill="#f08228" stroke="#3a3a3a" stroke-width="0.5"/>
<line x1="457.3" y1="397.5" x2="457.3" y2="413.1" stroke="#000" stroke-width="0.6"/>
<line x1="455.5" y1="397.5" x2="459.1" y2="397.5" stroke="#000" stroke-width="0.6"/>
<line x1="455.5" y1="413.1" x2="459.1" y2="413.1" stroke="#000" stroke-width="0.6"/>
<circle cx="455.7" cy="385.7" r="1.45" fill="#000"/>
<circle cx="458.9" cy="407.2" r="1.45" fill="#000"/>
<circle cx="457.3" cy="411.2" r="1.45" fill="#000"/>
<circle cx="456.5" cy="415.1" r="1.45" fill="#000"/>
<rect x="462.10" y="356.90" width="7.20" height="2.80" fill="#000" rx="1.4"/>
<line x1="474.1" y1="401.7" x2="474.1" y2="417.3" stroke="#000" stroke-width="0.6"/>
<line x1="472.3" y1="401.7" x2="475.9" y2="401.7" stroke="#000" stroke-width="0.6"/>
<line x1="472.3" y1="417.3" x2="475.9" y2="417.3" stroke="#000" stroke-width="0.6"/>
<circle cx="472.5" cy="391.6" r="1.45" fill="#000"/>
<circle cx="475.7" cy="395.5" r="1.45" fill="#000"/>
<circle cx="474.1" cy="417.0" r="1.45" fill="#000"/>
<circle cx="473.3" cy="424.9" r="1.45" fill="#000"/>
<line x1="482.5" y1="385.7" x2="482.5" y2="401.4" stroke="#000" stroke-width="0.6"/>
<line x1="480.7" y1="385.7" x2="484.3" y2="385.7" stroke="#000" stroke-width="0.6"/>
<line x1="480.7" y1="401.4" x2="484.3" y2="401.4" stroke="#000" stroke-width="0.6"/>
<circle cx="480.9" cy="380.8" r="1.45" fill="#000"/>
<circle cx="484.1" cy="384.7" r="1.45" fill="#000"/>
<circle cx="482.5" cy="397.5" r="1.45" fill="#000"/>
<circle cx="481.7" cy="420.0" r="1.45" fill="#000"/>
<rect x="495.90" y="394.52" width="8.40" height="61.68" fill="#1a1aff" stroke="#3a3a3a" stroke-width="0.5"/>
<rect x="504.30" y="358.30" width="8.40" height="97.90" fill="#f43c44" stroke="#3a3a3a" stroke-width="0.5"/>
<rect x="512.70" y="389.63" width="8.40" height="66.57" fill="#f4f43a" stroke="#3a3a3a" stroke-width="0.5"/>
<rect x="521.10" y="410.19" width="8.40" height="46.01" fill="#f08228" stroke="#3a3a3a" stroke-width="0.5"/>
<line x1="500.1" y1="391.6" x2="500.1" y2="397.5" stroke="#000" stroke-width="0.6"/>
<line x1="498.3" y1="391.6" x2="501.9" y2="391.6" stroke="#000" stroke-width="0.6"/>
<line x1="498.3" y1="397.5" x2="501.9" y2="397.5" stroke="#000" stroke-width="0.6"/>
<circle cx="498.5" cy="391.6" r="1.45" fill="#000"/>
<circle cx="501.7" cy="393.5" r="1.45" fill="#000"/>
<circle cx="500.1" cy="395.5" r="1.45" fill="#000"/>
<circle cx="499.3" cy="402.4" r="1.45" fill="#000"/>
<rect x="504.90" y="356.90" width="7.20" height="2.80" fill="#000" rx="1.4"/>
<line x1="516.9" y1="379.8" x2="516.9" y2="399.4" stroke="#000" stroke-width="0.6"/>
<line x1="515.1" y1="379.8" x2="518.7" y2="379.8" stroke="#000" stroke-width="0.6"/>
<line x1="515.1" y1="399.4" x2="518.7" y2="399.4" stroke="#000" stroke-width="0.6"/>
<circle cx="515.3" cy="361.2" r="1.45" fill="#000"/>
<circle cx="518.5" cy="397.5" r="1.45" fill="#000"/>
<circle cx="516.9" cy="397.5" r="1.45" fill="#000"/>
<circle cx="516.1" cy="412.1" r="1.45" fill="#000"/>
<line x1="525.3" y1="405.3" x2="525.3" y2="415.1" stroke="#000" stroke-width="0.6"/>
<line x1="523.5" y1="405.3" x2="527.1" y2="405.3" stroke="#000" stroke-width="0.6"/>
<line x1="523.5" y1="415.1" x2="527.1" y2="415.1" stroke="#000" stroke-width="0.6"/>
<circle cx="523.7" cy="400.4" r="1.45" fill="#000"/>
<circle cx="526.9" cy="409.2" r="1.45" fill="#000"/>
<circle cx="525.3" cy="412.1" r="1.45" fill="#000"/>
<circle cx="524.5" cy="415.1" r="1.45" fill="#000"/>
<rect x="538.40" y="394.52" width="8.40" height="61.68" fill="#1a1aff" stroke="#3a3a3a" stroke-width="0.5"/>
<rect x="546.80" y="358.30" width="8.40" height="97.90" fill="#f43c44" stroke="#3a3a3a" stroke-width="0.5"/>
<rect x="555.20" y="388.65" width="8.40" height="67.55" fill="#f4f43a" stroke="#3a3a3a" stroke-width="0.5"/>
<rect x="563.60" y="401.38" width="8.40" height="54.82" fill="#f08228" stroke="#3a3a3a" stroke-width="0.5"/>
<line x1="542.6" y1="384.7" x2="542.6" y2="404.3" stroke="#000" stroke-width="0.6"/>
<line x1="540.8" y1="384.7" x2="544.4" y2="384.7" stroke="#000" stroke-width="0.6"/>
<line x1="540.8" y1="404.3" x2="544.4" y2="404.3" stroke="#000" stroke-width="0.6"/>
<circle cx="541.0" cy="377.9" r="1.45" fill="#000"/>
<circle cx="544.2" cy="414.1" r="1.45" fill="#000"/>
<circle cx="542.6" cy="417.0" r="1.45" fill="#000"/>
<rect x="547.40" y="356.90" width="7.20" height="2.80" fill="#000" rx="1.4"/>
<line x1="559.4" y1="381.8" x2="559.4" y2="395.5" stroke="#000" stroke-width="0.6"/>
<line x1="557.6" y1="381.8" x2="561.2" y2="381.8" stroke="#000" stroke-width="0.6"/>
<line x1="557.6" y1="395.5" x2="561.2" y2="395.5" stroke="#000" stroke-width="0.6"/>
<circle cx="557.8" cy="380.8" r="1.45" fill="#000"/>
<circle cx="561.0" cy="398.4" r="1.45" fill="#000"/>
<circle cx="559.4" cy="415.1" r="1.45" fill="#000"/>
<line x1="567.8" y1="376.9" x2="567.8" y2="425.9" stroke="#000" stroke-width="0.6"/>
<line x1="566.0" y1="376.9" x2="569.6" y2="376.9" stroke="#000" stroke-width="0.6"/>
<line x1="566.0" y1="425.9" x2="569.6" y2="425.9" stroke="#000" stroke-width="0.6"/>
<circle cx="566.2" cy="355.4" r="1.45" fill="#000"/>
<circle cx="569.4" cy="414.1" r="1.45" fill="#000"/>
<circle cx="567.8" cy="446.4" r="1.45" fill="#000"/>
<rect x="580.60" y="424.87" width="8.40" height="31.33" fill="#1a1aff" stroke="#3a3a3a" stroke-width="0.5"/>
<rect x="589.00" y="358.30" width="8.40" height="97.90" fill="#f43c44" stroke="#3a3a3a" stroke-width="0.5"/>
<rect x="597.40" y="430.26" width="8.40" height="25.94" fill="#f4f43a" stroke="#3a3a3a" stroke-width="0.5"/>
<rect x="605.80" y="412.14" width="8.40" height="44.06" fill="#f08228" stroke="#3a3a3a" stroke-width="0.5"/>
<line x1="584.8" y1="422.9" x2="584.8" y2="426.8" stroke="#000" stroke-width="0.6"/>
<line x1="583.0" y1="422.9" x2="586.6" y2="422.9" stroke="#000" stroke-width="0.6"/>
<line x1="583.0" y1="426.8" x2="586.6" y2="426.8" stroke="#000" stroke-width="0.6"/>
<circle cx="583.2" cy="421.9" r="1.45" fill="#000"/>
<circle cx="586.4" cy="424.9" r="1.45" fill="#000"/>
<circle cx="584.8" cy="425.9" r="1.45" fill="#000"/>
<rect x="589.60" y="356.90" width="7.20" height="2.80" fill="#000" rx="1.4"/>
<line x1="601.6" y1="424.4" x2="601.6" y2="436.1" stroke="#000" stroke-width="0.6"/>
<line x1="599.8" y1="424.4" x2="603.4" y2="424.4" stroke="#000" stroke-width="0.6"/>
<line x1="599.8" y1="436.1" x2="603.4" y2="436.1" stroke="#000" stroke-width="0.6"/>
<circle cx="600.0" cy="415.1" r="1.45" fill="#000"/>
<circle cx="603.2" cy="432.7" r="1.45" fill="#000"/>
<circle cx="601.6" cy="434.7" r="1.45" fill="#000"/>
<circle cx="600.8" cy="439.6" r="1.45" fill="#000"/>
<line x1="610.0" y1="399.4" x2="610.0" y2="424.9" stroke="#000" stroke-width="0.6"/>
<line x1="608.2" y1="399.4" x2="611.8" y2="399.4" stroke="#000" stroke-width="0.6"/>
<line x1="608.2" y1="424.9" x2="611.8" y2="424.9" stroke="#000" stroke-width="0.6"/>
<circle cx="608.4" cy="381.8" r="1.45" fill="#000"/>
<circle cx="611.6" cy="405.3" r="1.45" fill="#000"/>
<circle cx="610.0" cy="425.9" r="1.45" fill="#000"/>
<circle cx="609.2" cy="432.7" r="1.45" fill="#000"/>
<rect x="623.00" y="405.29" width="8.40" height="50.91" fill="#1a1aff" stroke="#3a3a3a" stroke-width="0.5"/>
<rect x="631.40" y="358.30" width="8.40" height="97.90" fill="#f43c44" stroke="#3a3a3a" stroke-width="0.5"/>
<rect x="639.80" y="400.40" width="8.40" height="55.80" fill="#f4f43a" stroke="#3a3a3a" stroke-width="0.5"/>
<rect x="648.20" y="405.29" width="8.40" height="50.91" fill="#f08228" stroke="#3a3a3a" stroke-width="0.5"/>
<line x1="627.2" y1="401.4" x2="627.2" y2="409.2" stroke="#000" stroke-width="0.6"/>
<line x1="625.4" y1="401.4" x2="629.0" y2="401.4" stroke="#000" stroke-width="0.6"/>
<line x1="625.4" y1="409.2" x2="629.0" y2="409.2" stroke="#000" stroke-width="0.6"/>
<circle cx="625.6" cy="399.4" r="1.45" fill="#000"/>
<circle cx="628.8" cy="401.4" r="1.45" fill="#000"/>
<circle cx="627.2" cy="412.1" r="1.45" fill="#000"/>
<rect x="632.00" y="356.90" width="7.20" height="2.80" fill="#000" rx="1.4"/>
<line x1="644.0" y1="385.7" x2="644.0" y2="415.1" stroke="#000" stroke-width="0.6"/>
<line x1="642.2" y1="385.7" x2="645.8" y2="385.7" stroke="#000" stroke-width="0.6"/>
<line x1="642.2" y1="415.1" x2="645.8" y2="415.1" stroke="#000" stroke-width="0.6"/>
<circle cx="642.4" cy="368.1" r="1.45" fill="#000"/>
<circle cx="645.6" cy="384.7" r="1.45" fill="#000"/>
<circle cx="644.0" cy="412.1" r="1.45" fill="#000"/>
<circle cx="643.2" cy="436.6" r="1.45" fill="#000"/>
<line x1="652.4" y1="395.5" x2="652.4" y2="415.1" stroke="#000" stroke-width="0.6"/>
<line x1="650.6" y1="395.5" x2="654.2" y2="395.5" stroke="#000" stroke-width="0.6"/>
<line x1="650.6" y1="415.1" x2="654.2" y2="415.1" stroke="#000" stroke-width="0.6"/>
<circle cx="650.8" cy="383.8" r="1.45" fill="#000"/>
<circle cx="654.0" cy="408.2" r="1.45" fill="#000"/>
<circle cx="652.4" cy="432.7" r="1.45" fill="#000"/>
<text x="407.0" y="351.0" font-size="4.8" font-weight="bold" textLength="21.0" lengthAdjust="spacingAndGlyphs" fill="#222">p=0.0010</text>
<path d="M414.5,354.3 V351.7 H423.5 V354.3" stroke="#111" stroke-width="0.6" fill="none"/>
<text x="418.5" y="340.7" font-size="4.8" font-weight="bold" textLength="20.5" lengthAdjust="spacingAndGlyphs" fill="#222">p=0.0002</text>
<path d="M423.5,343.8 V341.2 H432.0 V343.8" stroke="#111" stroke-width="0.6" fill="none"/>
<text x="420.5" y="331.2" font-size="4.8" font-weight="bold" textLength="19.5" lengthAdjust="spacingAndGlyphs" fill="#222">p=0.0001</text>
<path d="M423.5,334.1 V331.5 H440.7 V334.1" stroke="#111" stroke-width="0.6" fill="none"/>
<text x="450.0" y="351.0" font-size="4.8" font-weight="bold" textLength="21.0" lengthAdjust="spacingAndGlyphs" fill="#222">p=0.0016</text>
<path d="M456.5,354.3 V351.7 H465.7 V354.3" stroke="#111" stroke-width="0.6" fill="none"/>
<text x="460.7" y="340.7" font-size="4.8" font-weight="bold" textLength="20.3" lengthAdjust="spacingAndGlyphs" fill="#222">p=0.0087</text>
<path d="M465.7,343.8 V341.2 H474.6 V343.8" stroke="#111" stroke-width="0.6" fill="none"/>
<text x="462.7" y="331.2" font-size="4.8" font-weight="bold" textLength="19.3" lengthAdjust="spacingAndGlyphs" fill="#222">p=0.0114</text>
<path d="M465.7,334.1 V331.5 H482.8 V334.1" stroke="#111" stroke-width="0.6" fill="none"/>
<text x="493.0" y="351.0" font-size="4.8" font-weight="bold" textLength="21.0" lengthAdjust="spacingAndGlyphs" fill="#222">p=0.0041</text>
<path d="M499.8,354.3 V351.7 H508.5 V354.3" stroke="#111" stroke-width="0.6" fill="none"/>
<text x="503.5" y="340.7" font-size="4.8" font-weight="bold" textLength="20.5" lengthAdjust="spacingAndGlyphs" fill="#222">p=0.0097</text>
<path d="M508.5,343.8 V341.2 H517.0 V343.8" stroke="#111" stroke-width="0.6" fill="none"/>
<text x="505.5" y="331.2" font-size="4.8" font-weight="bold" textLength="19.5" lengthAdjust="spacingAndGlyphs" fill="#222">p=0.0002</text>
<path d="M508.5,334.1 V331.5 H525.4 V334.1" stroke="#111" stroke-width="0.6" fill="none"/>
<text x="538.0" y="351.0" font-size="4.8" font-weight="bold" textLength="8.0" lengthAdjust="spacingAndGlyphs" fill="#222">n.s.</text>
<path d="M542.6,354.3 V351.7 H551.0 V354.3" stroke="#111" stroke-width="0.6" fill="none"/>
<text x="547.5" y="340.7" font-size="4.8" font-weight="bold" textLength="8.5" lengthAdjust="spacingAndGlyphs" fill="#222">n.s.</text>
<path d="M551.0,343.8 V341.2 H559.4 V343.8" stroke="#111" stroke-width="0.6" fill="none"/>
<text x="549.7" y="331.2" font-size="4.8" font-weight="bold" textLength="8.3" lengthAdjust="spacingAndGlyphs" fill="#222">n.s.</text>
<path d="M551.0,334.1 V331.5 H567.6 V334.1" stroke="#111" stroke-width="0.6" fill="none"/>
<text x="577.0" y="351.0" font-size="4.8" font-weight="bold" textLength="22.0" lengthAdjust="spacingAndGlyphs" fill="#222">p&lt;0.0001</text>
<path d="M584.7,354.3 V351.7 H593.2 V354.3" stroke="#111" stroke-width="0.6" fill="none"/>
<text x="588.0" y="340.7" font-size="4.8" font-weight="bold" textLength="20.5" lengthAdjust="spacingAndGlyphs" fill="#222">p&lt;0.0001</text>
<path d="M593.2,343.8 V341.2 H601.5 V343.8" stroke="#111" stroke-width="0.6" fill="none"/>
<text x="589.0" y="331.2" font-size="4.8" font-weight="bold" textLength="19.5" lengthAdjust="spacingAndGlyphs" fill="#222">p=0.0004</text>
<path d="M593.2,334.1 V331.5 H610.0 V334.1" stroke="#111" stroke-width="0.6" fill="none"/>
<text x="620.0" y="351.0" font-size="4.8" font-weight="bold" textLength="21.0" lengthAdjust="spacingAndGlyphs" fill="#222">p=0.0113</text>
<path d="M627.2,354.3 V351.7 H635.8 V354.3" stroke="#111" stroke-width="0.6" fill="none"/>
<text x="630.5" y="340.7" font-size="4.8" font-weight="bold" textLength="20.5" lengthAdjust="spacingAndGlyphs" fill="#222">p=0.0227</text>
<path d="M635.8,343.8 V341.2 H644.2 V343.8" stroke="#111" stroke-width="0.6" fill="none"/>
<text x="632.3" y="331.2" font-size="4.8" font-weight="bold" textLength="19.9" lengthAdjust="spacingAndGlyphs" fill="#222">p=0.0111</text>
<path d="M635.8,334.1 V331.5 H652.8 V334.1" stroke="#111" stroke-width="0.6" fill="none"/>
<text x="367.7" y="474.7" font-size="12" font-weight="bold" font-style="italic" textLength="33.5" lengthAdjust="spacingAndGlyphs" fill="#000">ATP6:</text>
<text x="417.1" y="475.9" font-size="12" font-weight="bold" font-style="italic" textLength="22.4" lengthAdjust="spacingAndGlyphs" fill="#000">V1A</text>
<text x="456.4" y="475.9" font-size="12" font-weight="bold" font-style="italic" textLength="30.1" lengthAdjust="spacingAndGlyphs" fill="#000">V1B1</text>
<text x="498.2" y="475.9" font-size="12" font-weight="bold" font-style="italic" textLength="30.0" lengthAdjust="spacingAndGlyphs" fill="#000">V1C1</text>
<text x="541.1" y="475.9" font-size="12" font-weight="bold" font-style="italic" textLength="29.2" lengthAdjust="spacingAndGlyphs" fill="#000">V0D1</text>
<text x="582.8" y="477.4" font-size="12" font-weight="bold" font-style="italic" textLength="29.2" lengthAdjust="spacingAndGlyphs" fill="#000">V1G1</text>
<text x="629.4" y="475.9" font-size="12" font-weight="bold" font-style="italic" textLength="22.3" lengthAdjust="spacingAndGlyphs" fill="#000">V1H</text>
<text x="118.5" y="500.1" font-size="10" font-weight="bold" textLength="86.0" lengthAdjust="spacingAndGlyphs" fill="#000">Whole cell lysates</text>
<text x="101.8" y="510.2" font-size="7" textLength="22.4" lengthAdjust="spacingAndGlyphs" fill="#444">ccRCC</text>
<text x="140.8" y="510.2" font-size="7" font-style="italic" textLength="19.2" lengthAdjust="spacingAndGlyphs" fill="#444">SFPQ</text>
<text x="176.8" y="510.2" font-size="7" font-style="italic" textLength="19.9" lengthAdjust="spacingAndGlyphs" fill="#444">PRCC</text>
<text x="214.0" y="510.2" font-size="7" font-style="italic" textLength="21.9" lengthAdjust="spacingAndGlyphs" fill="#444">NONO</text>
<text x="142.0" y="516.7" font-size="7" font-style="italic" textLength="17.0" lengthAdjust="spacingAndGlyphs" fill="#444">TFE3</text>
<text x="178.8" y="516.7" font-size="7" font-style="italic" textLength="15.9" lengthAdjust="spacingAndGlyphs" fill="#444">TFE3</text>
<text x="216.0" y="516.7" font-size="7" font-style="italic" textLength="16.6" lengthAdjust="spacingAndGlyphs" fill="#444">TFE3</text>
<line x1="84.5" y1="518.8" x2="139.6" y2="518.8" stroke="#000" stroke-width="1.5"/>
<line x1="142.0" y1="518.8" x2="156.4" y2="518.8" stroke="#000" stroke-width="1.5"/>
<line x1="164.4" y1="518.8" x2="212.8" y2="518.8" stroke="#000" stroke-width="1.5"/>
<line x1="216.5" y1="518.8" x2="228.9" y2="518.8" stroke="#000" stroke-width="1.5"/>
<text x="46.7" y="531.9" font-size="12.5" font-weight="bold" textLength="32.0" lengthAdjust="spacingAndGlyphs" fill="#000">UOK:</text>
<text x="85.5" y="531.0" font-size="9.5" font-weight="bold" textLength="13.1" lengthAdjust="spacingAndGlyphs" fill="#000">111</text>
<text x="104.8" y="531.0" font-size="9.5" font-weight="bold" textLength="13.7" lengthAdjust="spacingAndGlyphs" fill="#000">140</text>
<text x="124.7" y="531.0" font-size="9.5" font-weight="bold" textLength="13.6" lengthAdjust="spacingAndGlyphs" fill="#000">150</text>
<text x="142.0" y="531.0" font-size="9.5" font-weight="bold" textLength="13.7" lengthAdjust="spacingAndGlyphs" fill="#000">145</text>
<text x="163.1" y="531.0" font-size="9.5" font-weight="bold" textLength="12.5" lengthAdjust="spacingAndGlyphs" fill="#000">120</text>
<text x="180.5" y="531.0" font-size="9.5" font-weight="bold" textLength="13.2" lengthAdjust="spacingAndGlyphs" fill="#000">124</text>
<text x="199.1" y="531.0" font-size="9.5" font-weight="bold" textLength="13.7" lengthAdjust="spacingAndGlyphs" fill="#000">146</text>
<text x="217.8" y="531.0" font-size="9.5" font-weight="bold" textLength="13.6" lengthAdjust="spacingAndGlyphs" fill="#000">109</text>
<rect x="81.80" y="533.80" width="153.20" height="24.10" fill="#e9e9e9"/>
<rect x="85.1" y="547.3" width="16.0" height="4.4" rx="2.2" fill="rgb(8,8,8)" filter="url(#b10)"/>
<rect x="103.5" y="547.0" width="16.0" height="4.9" rx="2.4" fill="rgb(7,7,7)" filter="url(#b10)"/>
<rect x="122.4" y="547.9" width="16.0" height="3.3" rx="1.6" fill="rgb(71,71,71)" filter="url(#b10)"/>
<rect x="140.8" y="546.5" width="16.0" height="6.0" rx="3.0" fill="rgb(0,0,0)" filter="url(#b10)"/>
<rect x="159.7" y="547.0" width="16.0" height="4.9" rx="2.4" fill="rgb(4,4,4)" filter="url(#b10)"/>
<rect x="178.9" y="546.2" width="16.0" height="6.6" rx="3.3" fill="rgb(0,0,0)" filter="url(#b10)"/>
<rect x="198.1" y="547.0" width="16.0" height="4.9" rx="2.4" fill="rgb(8,8,8)" filter="url(#b10)"/>
<rect x="217.0" y="545.7" width="16.0" height="6.0" rx="3.0" fill="rgb(2,2,2)" filter="url(#b10)"/>
<rect x="81.80" y="559.80" width="153.20" height="28.50" fill="#f1f1f1"/>
<rect x="85.1" y="570.8" width="16.0" height="4.9" rx="2.4" fill="rgb(4,4,4)" filter="url(#b10)"/>
<rect x="103.5" y="570.4" width="16.0" height="5.6" rx="2.8" fill="rgb(2,2,2)" filter="url(#b10)"/>
<rect x="122.4" y="571.1" width="16.0" height="4.2" rx="2.1" fill="rgb(19,19,19)" filter="url(#b10)"/>
<rect x="140.8" y="570.4" width="16.0" height="5.6" rx="2.8" fill="rgb(2,2,2)" filter="url(#b10)"/>
<rect x="159.7" y="570.4" width="16.0" height="5.6" rx="2.8" fill="rgb(2,2,2)" filter="url(#b10)"/>
<rect x="178.9" y="569.6" width="16.0" height="7.2" rx="3.6" fill="rgb(0,0,0)" filter="url(#b10)"/>
<rect x="198.1" y="570.4" width="16.0" height="5.6" rx="2.8" fill="rgb(2,2,2)" filter="url(#b10)"/>
<rect x="217.0" y="570.0" width="16.0" height="4.9" rx="2.4" fill="rgb(7,7,7)" filter="url(#b10)"/>
<rect x="81.80" y="589.70" width="153.20" height="28.10" fill="#ebebeb"/>
<rect x="85.1" y="600.7" width="16.0" height="4.0" rx="2.0" fill="rgb(32,32,32)" filter="url(#b10)"/>
<rect x="103.5" y="602.3" width="16.0" height="3.7" rx="1.9" fill="rgb(71,71,71)" filter="url(#b10)"/>
<rect x="122.4" y="601.8" width="16.0" height="4.9" rx="2.4" fill="rgb(14,14,14)" filter="url(#b10)"/>
<rect x="140.8" y="600.6" width="16.0" height="7.2" rx="3.6" fill="rgb(0,0,0)" filter="url(#b10)"/>
<rect x="159.7" y="602.1" width="16.0" height="4.2" rx="2.1" fill="rgb(49,49,49)" filter="url(#b10)"/>
<rect x="178.9" y="600.5" width="16.0" height="7.4" rx="3.7" fill="rgb(0,0,0)" filter="url(#b10)"/>
<rect x="198.1" y="602.6" width="16.0" height="3.3" rx="1.6" fill="rgb(134,134,134)" filter="url(#b10)"/>
<rect x="217.0" y="597.9" width="16.0" height="7.7" rx="3.8" fill="rgb(0,0,0)" filter="url(#b10)"/>
<defs><linearGradient id="ge4" x1="0" y1="0" x2="0" y2="1"><stop offset="0" stop-color="#efefef"/><stop offset="1" stop-color="#dcdcdc"/></linearGradient><linearGradient id="ge5" x1="0" y1="0" x2="1" y2="0"><stop offset="0" stop-color="#c0c0c0"/><stop offset="0.7" stop-color="#b6b6b6"/><stop offset="1" stop-color="#989898"/></linearGradient></defs>
<rect x="81.80" y="619.60" width="153.20" height="33.90" fill="url(#ge4)"/>
<rect x="85.6" y="634.4" width="15.0" height="4.8" rx="2.4" fill="rgb(19,19,19)" filter="url(#b10)"/>
<rect x="104.0" y="634.6" width="15.0" height="4.3" rx="2.2" fill="rgb(38,38,38)" filter="url(#b10)"/>
<rect x="122.9" y="634.6" width="15.0" height="4.3" rx="2.2" fill="rgb(44,44,44)" filter="url(#b10)"/>
<rect x="140.3" y="631.6" width="17.0" height="10.3" rx="5.2" fill="rgb(0,0,0)" filter="url(#b10)"/>
<rect x="159.2" y="632.6" width="17.0" height="8.3" rx="4.2" fill="rgb(0,0,0)" filter="url(#b10)"/>
<rect x="178.4" y="631.6" width="17.0" height="10.3" rx="5.2" fill="rgb(0,0,0)" filter="url(#b10)"/>
<rect x="198.1" y="633.2" width="16.0" height="7.2" rx="3.6" fill="rgb(2,2,2)" filter="url(#b10)"/>
<rect x="216.0" y="629.4" width="18.0" height="11.8" rx="5.9" fill="rgb(0,0,0)" filter="url(#b10)"/>
<rect x="81.80" y="655.10" width="153.20" height="29.50" fill="url(#ge5)"/>
<rect x="85.1" y="670.0" width="16.0" height="4.7" rx="2.3" fill="rgb(4,4,4)" filter="url(#b10)"/>
<rect x="103.5" y="668.7" width="16.0" height="7.2" rx="3.6" fill="rgb(0,0,0)" filter="url(#b10)"/>
<rect x="122.4" y="670.5" width="16.0" height="3.5" rx="1.8" fill="rgb(71,71,71)" filter="url(#b10)"/>
<rect x="140.8" y="669.3" width="16.0" height="6.0" rx="3.0" fill="rgb(2,2,2)" filter="url(#b10)"/>
<rect x="159.7" y="670.0" width="16.0" height="4.7" rx="2.3" fill="rgb(11,11,11)" filter="url(#b10)"/>
<rect x="178.9" y="669.5" width="16.0" height="5.6" rx="2.8" fill="rgb(3,3,3)" filter="url(#b10)"/>
<rect x="198.1" y="669.5" width="16.0" height="4.7" rx="2.3" fill="rgb(8,8,8)" filter="url(#b10)"/>
<rect x="217.0" y="663.7" width="16.0" height="11.2" rx="5.6" fill="rgb(0,0,0)" filter="url(#b10)"/>
<rect x="81.80" y="686.40" width="153.20" height="29.30" fill="#f2f2f2"/>
<rect x="85.1" y="702.8" width="16.0" height="3.5" rx="1.8" fill="rgb(44,44,44)" filter="url(#b10)"/>
<rect x="103.5" y="701.7" width="16.0" height="5.8" rx="2.9" fill="rgb(2,2,2)" filter="url(#b10)"/>
<rect x="122.4" y="702.1" width="16.0" height="4.9" rx="2.4" fill="rgb(8,8,8)" filter="url(#b10)"/>
<rect x="140.8" y="701.0" width="16.0" height="7.2" rx="3.6" fill="rgb(0,0,0)" filter="url(#b10)"/>
<rect x="159.7" y="701.8" width="16.0" height="5.6" rx="2.8" fill="rgb(2,2,2)" filter="url(#b10)"/>
<rect x="178.9" y="701.1" width="16.0" height="6.0" rx="3.0" fill="rgb(2,2,2)" filter="url(#b10)"/>
<rect x="198.1" y="701.1" width="16.0" height="4.9" rx="2.4" fill="rgb(4,4,4)" filter="url(#b10)"/>
<rect x="217.0" y="700.4" width="16.0" height="5.4" rx="2.7" fill="rgb(4,4,4)" filter="url(#b10)"/>
<rect x="81.80" y="719.60" width="153.20" height="26.00" fill="#d9d9d9"/>
<rect x="85.1" y="730.8" width="16.0" height="6.6" rx="3.3" fill="rgb(0,0,0)" filter="url(#b10)"/>
<rect x="103.5" y="730.8" width="16.0" height="6.6" rx="3.3" fill="rgb(0,0,0)" filter="url(#b10)"/>
<rect x="122.4" y="731.1" width="16.0" height="6.0" rx="3.0" fill="rgb(0,0,0)" filter="url(#b10)"/>
<rect x="140.8" y="730.5" width="16.0" height="7.2" rx="3.6" fill="rgb(0,0,0)" filter="url(#b10)"/>
<rect x="159.7" y="730.8" width="16.0" height="6.6" rx="3.3" fill="rgb(0,0,0)" filter="url(#b10)"/>
<rect x="178.9" y="730.5" width="16.0" height="7.2" rx="3.6" fill="rgb(0,0,0)" filter="url(#b10)"/>
<rect x="198.1" y="731.1" width="16.0" height="6.0" rx="3.0" fill="rgb(0,0,0)" filter="url(#b10)"/>
<rect x="217.0" y="729.2" width="16.0" height="7.8" rx="3.9" fill="rgb(0,0,0)" filter="url(#b10)"/>
<text x="78.8" y="555.0" font-size="13" text-anchor="end" fill="#000" stroke="#000" stroke-width="0.14">ATP6V1A</text>
<text x="78.8" y="577.9" font-size="13" text-anchor="end" fill="#000" stroke="#000" stroke-width="0.14">ATP6V1B1</text>
<text x="78.8" y="606.2" font-size="13" text-anchor="end" fill="#000" stroke="#000" stroke-width="0.14">ATP6V0C</text>
<text x="78.8" y="636.2" font-size="13" text-anchor="end" fill="#000" stroke="#000" stroke-width="0.14">ATP6V0D1</text>
<text x="78.8" y="672.8" font-size="13" text-anchor="end" fill="#000" stroke="#000" stroke-width="0.14">ATP6V1G1</text>
<text x="78.8" y="709.1" font-size="13" text-anchor="end" fill="#000" stroke="#000" stroke-width="0.14">ATP6V1H</text>
<text x="78.8" y="738.6" font-size="13" text-anchor="end" fill="#000" stroke="#000" stroke-width="0.14">GAPDH</text>
<line x1="238.7" y1="549.9" x2="246.0" y2="549.9" stroke="#000" stroke-width="1.2"/>
<text x="247.2" y="552.8" font-size="8.5" fill="#000">76</text>
<line x1="238.7" y1="563.2" x2="246.0" y2="563.2" stroke="#000" stroke-width="1.2"/>
<text x="247.2" y="566.1" font-size="8.5" fill="#000">76</text>
<line x1="238.7" y1="579.1" x2="246.0" y2="579.1" stroke="#000" stroke-width="1.2"/>
<text x="247.2" y="582.0" font-size="8.5" fill="#000">52</text>
<line x1="238.7" y1="592.5" x2="246.0" y2="592.5" stroke="#000" stroke-width="1.2"/>
<text x="247.2" y="595.4" font-size="8.5" fill="#000">17</text>
<line x1="238.7" y1="606.3" x2="246.0" y2="606.3" stroke="#000" stroke-width="1.2"/>
<text x="247.2" y="609.2" font-size="8.5" fill="#000">12</text>
<line x1="238.7" y1="641.3" x2="246.0" y2="641.3" stroke="#000" stroke-width="1.2"/>
<text x="247.2" y="644.2" font-size="8.5" fill="#000">38</text>
<line x1="238.7" y1="673.5" x2="246.0" y2="673.5" stroke="#000" stroke-width="1.2"/>
<text x="247.2" y="676.4" font-size="8.5" fill="#000">17</text>
<line x1="238.7" y1="705.3" x2="246.0" y2="705.3" stroke="#000" stroke-width="1.2"/>
<text x="247.2" y="708.2" font-size="8.5" fill="#000">52</text>
<line x1="238.7" y1="737.1" x2="246.0" y2="737.1" stroke="#000" stroke-width="1.2"/>
<text x="247.2" y="740.0" font-size="8.5" fill="#000">38</text>
<text x="339.5" y="517.8" font-size="11" font-weight="bold" textLength="94.0" lengthAdjust="spacingAndGlyphs" fill="#000">HK-2/<tspan font-style="italic">SFPQ-TFE3</tspan></text>
<line x1="362.8" y1="522.2" x2="424.2" y2="522.2" stroke="#000" stroke-width="1.5"/>
<rect x="369.30" y="537.40" width="4.30" height="1.60" fill="#000"/>
<text x="392.6" y="535.3" font-size="11" textLength="26.3" lengthAdjust="spacingAndGlyphs" fill="#000" stroke="#000" stroke-width="0.12">Doxy</text>
<line x1="387.4" y1="540.3" x2="426.2" y2="540.3" stroke="#000" stroke-width="1.1"/>
<text x="320.2" y="577.0" font-size="11" textLength="36.8" lengthAdjust="spacingAndGlyphs" fill="#000" stroke="#000" stroke-width="0.12">siRNA:</text>
<text transform="translate(366.5,578.3) rotate(-43)" x="0" y="0" font-size="11.6" fill="#000" stroke="#000" stroke-width="0.23">Control</text>
<text transform="translate(389.8,578.3) rotate(-43)" x="0" y="0" font-size="11.6" fill="#000" stroke="#000" stroke-width="0.23">Control</text>
<text transform="translate(413.0,579.0) rotate(-43)" x="0" y="0" font-size="11.6" fill="#000" stroke="#000" stroke-width="0.23">ATP6V0C</text>
<rect x="359.90" y="581.40" width="64.30" height="35.10" fill="#e9e9e9"/>
<rect x="362.2" y="596.8" width="17.0" height="4.2" rx="2.1" fill="rgb(2,2,2)" filter="url(#b9)"/>
<rect x="383.0" y="594.7" width="18.0" height="7.0" rx="3.5" fill="rgb(0,0,0)" filter="url(#b9)"/>
<rect x="404.6" y="597.9" width="14.0" height="2.2" rx="1.1" fill="rgb(175,175,175)" filter="url(#b10)"/>
<rect x="360.0" y="599.5" width="3.0" height="3.0" rx="1.5" fill="rgb(49,49,49)" filter="url(#b6)"/>
<rect x="359.90" y="621.10" width="64.30" height="33.30" fill="#f0f0f0"/>
<rect x="362.7" y="635.5" width="16.0" height="4.5" rx="2.2" fill="rgb(4,4,4)" filter="url(#b9)"/>
<rect x="383.0" y="634.2" width="18.0" height="6.0" rx="3.0" fill="rgb(0,0,0)" filter="url(#b9)"/>
<rect x="404.6" y="636.2" width="14.0" height="3.5" rx="1.8" fill="rgb(49,49,49)" filter="url(#b9)"/>
<rect x="362.7" y="642.8" width="16.0" height="4.0" rx="2.0" fill="rgb(175,175,175)" filter="url(#b16)"/>
<rect x="383.5" y="642.8" width="17.0" height="4.0" rx="2.0" fill="rgb(175,175,175)" filter="url(#b16)"/>
<rect x="404.6" y="642.8" width="14.0" height="4.0" rx="2.0" fill="rgb(175,175,175)" filter="url(#b16)"/>
<rect x="359.90" y="658.20" width="64.30" height="35.90" fill="#d2d2d2"/>
<rect x="361.2" y="673.0" width="19.0" height="12.0" rx="6.0" fill="rgb(0,0,0)" filter="url(#b16)"/>
<rect x="382.0" y="672.0" width="20.0" height="13.0" rx="6.5" fill="rgb(0,0,0)" filter="url(#b16)"/>
<rect x="402.1" y="672.0" width="19.0" height="13.0" rx="6.5" fill="rgb(0,0,0)" filter="url(#b16)"/>
<rect x="362.2" y="670.0" width="17.0" height="6.0" rx="3.0" fill="rgb(95,95,95)" filter="url(#b20)"/>
<rect x="383.0" y="670.0" width="18.0" height="6.0" rx="3.0" fill="rgb(95,95,95)" filter="url(#b20)"/>
<rect x="403.1" y="670.0" width="17.0" height="6.0" rx="3.0" fill="rgb(95,95,95)" filter="url(#b20)"/>
<rect x="361.20" y="696.50" width="64.90" height="26.20" fill="#dadada"/>
<rect x="364.9" y="705.1" width="17.5" height="7.2" rx="3.6" fill="rgb(0,0,0)" filter="url(#b8)"/>
<rect x="384.1" y="705.1" width="17.5" height="7.2" rx="3.6" fill="rgb(0,0,0)" filter="url(#b8)"/>
<rect x="403.0" y="704.5" width="18.0" height="7.5" rx="3.8" fill="rgb(0,0,0)" filter="url(#b8)"/>
<text x="356.1" y="600.5" font-size="13" text-anchor="end" fill="#000" stroke="#000" stroke-width="0.14">ATP6V0C</text>
<text x="356.1" y="634.4" font-size="13" text-anchor="end" fill="#000" stroke="#000" stroke-width="0.14">p-4EBP1</text>
<text x="357.0" y="650.2" font-size="13" text-anchor="end" fill="#000" stroke="#000" stroke-width="0.14">(T37/46)</text>
<text x="356.1" y="678.2" font-size="13" text-anchor="end" fill="#000" stroke="#000" stroke-width="0.14">t-4EBP1</text>
<text x="356.1" y="711.3" font-size="13" text-anchor="end" fill="#000" stroke="#000" stroke-width="0.14">GAPDH</text>
<line x1="427.3" y1="588.1" x2="434.8" y2="588.1" stroke="#000" stroke-width="1.2"/>
<text x="436.6" y="591.0" font-size="8.5" fill="#000">17</text>
<line x1="427.3" y1="607.7" x2="434.8" y2="607.7" stroke="#000" stroke-width="1.2"/>
<text x="436.6" y="610.6" font-size="8.5" fill="#000">12</text>
<line x1="427.3" y1="629.0" x2="434.8" y2="629.0" stroke="#000" stroke-width="1.2"/>
<text x="436.6" y="631.9" font-size="8.5" fill="#000">24</text>
<line x1="427.3" y1="641.6" x2="434.8" y2="641.6" stroke="#000" stroke-width="1.2"/>
<text x="436.6" y="644.5" font-size="8.5" fill="#000">17</text>
<line x1="427.3" y1="672.8" x2="434.8" y2="672.8" stroke="#000" stroke-width="1.2"/>
<text x="436.6" y="675.7" font-size="8.5" fill="#000">24</text>
<line x1="427.3" y1="685.4" x2="434.8" y2="685.4" stroke="#000" stroke-width="1.2"/>
<text x="436.6" y="688.3" font-size="8.5" fill="#000">17</text>
<line x1="427.3" y1="711.0" x2="434.8" y2="711.0" stroke="#000" stroke-width="1.2"/>
<text x="436.6" y="713.9" font-size="8.5" fill="#000">38</text>
<rect x="484.30" y="509.20" width="11.70" height="10.20" fill="#1a1aff" stroke="#333" stroke-width="0.6"/>
<rect x="484.70" y="522.50" width="11.50" height="10.20" fill="#f43c44" stroke="#333" stroke-width="0.6"/>
<rect x="484.70" y="537.40" width="11.50" height="10.20" fill="#f08228" stroke="#333" stroke-width="0.6"/>
<text x="498.6" y="517.5" font-size="8" font-weight="bold" textLength="94.4" lengthAdjust="spacingAndGlyphs" fill="#000">HK2/ <tspan font-style="italic">SFPQ-TFE3</tspan> (No Dox)</text>
<text x="500.7" y="531.0" font-size="8" font-weight="bold" textLength="88.9" lengthAdjust="spacingAndGlyphs" fill="#000">HK2/ <tspan font-style="italic">SFPQ-TFE3</tspan> (+ Dox)</text>
<text x="500.7" y="545.7" font-size="8" font-weight="bold" textLength="88.9" lengthAdjust="spacingAndGlyphs" fill="#000">HK2/ <tspan font-style="italic">SFPQ-TFE3</tspan> (+ Dox)</text>
<text x="500.2" y="553.9" font-size="8" font-weight="bold" textLength="63.4" lengthAdjust="spacingAndGlyphs" fill="#000">+ <tspan font-style="italic">ATP6V0C</tspan> siRNA</text>
<line x1="515.5" y1="613.3" x2="515.5" y2="719.8" stroke="#000" stroke-width="1.2"/>
<line x1="511.6" y1="719.2" x2="586.3" y2="719.2" stroke="#000" stroke-width="1.4"/>
<line x1="532.6" y1="719.2" x2="532.6" y2="722.7" stroke="#000" stroke-width="1"/>
<line x1="550.6" y1="719.2" x2="550.6" y2="722.7" stroke="#000" stroke-width="1"/>
<line x1="568.6" y1="719.2" x2="568.6" y2="722.7" stroke="#000" stroke-width="1"/>
<text x="509.3" y="722.5" font-size="9.5" font-weight="bold" text-anchor="end" fill="#000">0</text>
<rect x="523.90" y="644.12" width="17.40" height="75.08" fill="#1a1aff" stroke="#000" stroke-width="1.5"/>
<rect x="541.30" y="612.70" width="18.00" height="106.50" fill="#f43c44" stroke="#000" stroke-width="1.5"/>
<rect x="559.30" y="688.32" width="18.00" height="30.88" fill="#f08228" stroke="#000" stroke-width="1.5"/>
<circle cx="529.0" cy="640.4" r="2.2" fill="#000"/>
<circle cx="536.5" cy="643.0" r="2.2" fill="#000"/>
<circle cx="533.0" cy="648.6" r="2.2" fill="#000"/>
<circle cx="542.5" cy="612.7" r="2.2" fill="#000"/>
<circle cx="550.6" cy="612.7" r="2.2" fill="#000"/>
<circle cx="558.5" cy="612.7" r="2.2" fill="#000"/>
<circle cx="568.6" cy="669.4" r="2.2" fill="#000"/>
<circle cx="568.6" cy="695.6" r="2.2" fill="#000"/>
<circle cx="568.6" cy="700.3" r="2.2" fill="#000"/>
<line x1="532.6" y1="640.6" x2="532.6" y2="648.0" stroke="#000" stroke-width="0.8"/>
<line x1="530.0" y1="640.6" x2="535.2" y2="640.6" stroke="#000" stroke-width="0.8"/>
<line x1="568.6" y1="678.8" x2="568.6" y2="698.0" stroke="#000" stroke-width="0.8"/>
<line x1="565.5" y1="678.8" x2="571.7" y2="678.8" stroke="#000" stroke-width="0.8"/>
<line x1="565.5" y1="697.8" x2="571.7" y2="697.8" stroke="#000" stroke-width="0.8"/>
<text x="526.0" y="600.9" font-size="10" font-weight="bold" textLength="31.3" lengthAdjust="spacingAndGlyphs" fill="#000">p=0.01</text>
<path d="M532.6,607.8 V603.8 H551.2 V607.8" stroke="#000" stroke-width="1" fill="none"/>
<text x="533.0" y="583.3" font-size="10" font-weight="bold" textLength="42.3" lengthAdjust="spacingAndGlyphs" fill="#000">p=0.0001</text>
<path d="M546.9,589.2 V585.2 H564.9 V589.2" stroke="#000" stroke-width="1" fill="none"/>
<text transform="translate(487.1,658.7) rotate(-90)" x="0" y="3.2" font-size="9.4" font-weight="bold" text-anchor="middle" textLength="131.8" lengthAdjust="spacingAndGlyphs" fill="#000">Normalized ATP6V0C/GAPDH</text>
<text transform="translate(497.5,665.4) rotate(-90)" x="0" y="3.2" font-size="9.4" font-weight="bold" text-anchor="middle" textLength="63.6" lengthAdjust="spacingAndGlyphs" fill="#000">Band Intensity</text>
<text x="93.1" y="785.3" font-size="11" font-weight="bold" textLength="94.8" lengthAdjust="spacingAndGlyphs" fill="#000">HK-2/<tspan font-style="italic">SFPQ-TFE3</tspan></text>
<line x1="66.8" y1="790.8" x2="205.5" y2="790.8" stroke="#000" stroke-width="1.8"/>
<rect x="73.20" y="800.50" width="10.90" height="3.00" fill="#000"/>
<text x="120.4" y="803.8" font-size="11.5" textLength="61.0" lengthAdjust="spacingAndGlyphs" fill="#000" stroke="#000" stroke-width="0.13">Doxycycline</text>
<line x1="93.1" y1="807.2" x2="205.5" y2="807.2" stroke="#000" stroke-width="1.2"/>
<text x="3.9" y="823.0" font-size="11.5" textLength="57.8" lengthAdjust="spacingAndGlyphs" fill="#000" stroke="#000" stroke-width="0.13">BafA1(nM):</text>
<line x1="72.3" y1="819.3" x2="82.9" y2="819.3" stroke="#000" stroke-width="1.6"/>
<line x1="96.3" y1="819.3" x2="105.3" y2="819.3" stroke="#000" stroke-width="1.6"/>
<text x="123.6" y="823.6" font-size="9" text-anchor="middle" fill="#000" stroke="#000" stroke-width="0.10">10</text>
<text x="147.0" y="823.6" font-size="9" text-anchor="middle" fill="#000" stroke="#000" stroke-width="0.10">100</text>
<text x="171.8" y="823.6" font-size="9" text-anchor="middle" fill="#000" stroke="#000" stroke-width="0.10">500</text>
<text x="198.0" y="823.6" font-size="9" text-anchor="middle" fill="#000" stroke="#000" stroke-width="0.10">1000</text>
<text x="30.5" y="837.5" font-size="11.5" textLength="31.2" lengthAdjust="spacingAndGlyphs" fill="#000" stroke="#000" stroke-width="0.13">dmso:</text>
<line x1="73.3" y1="833.5" x2="81.3" y2="833.5" stroke="#000" stroke-width="1.8"/>
<line x1="77.3" y1="829.5" x2="77.3" y2="837.5" stroke="#000" stroke-width="1.8"/>
<line x1="96.3" y1="833.5" x2="104.3" y2="833.5" stroke="#000" stroke-width="1.8"/>
<line x1="100.3" y1="829.5" x2="100.3" y2="837.5" stroke="#000" stroke-width="1.8"/>
<line x1="119.1" y1="836.0" x2="128.1" y2="836.0" stroke="#000" stroke-width="1.8"/>
<line x1="143.7" y1="836.0" x2="152.7" y2="836.0" stroke="#000" stroke-width="1.8"/>
<line x1="167.6" y1="836.0" x2="176.6" y2="836.0" stroke="#000" stroke-width="1.8"/>
<line x1="191.8" y1="836.0" x2="200.8" y2="836.0" stroke="#000" stroke-width="1.8"/>
<rect x="63.80" y="839.00" width="147.10" height="49.70" fill="#ececec"/>
<rect x="67.4" y="850.0" width="22.0" height="20.0" rx="10.0" fill="rgb(147,147,147)" filter="url(#b25)"/>
<rect x="68.9" y="856.5" width="19.0" height="11.0" rx="5.5" fill="rgb(2,2,2)" filter="url(#b18)"/>
<rect x="90.6" y="855.0" width="22.0" height="14.0" rx="7.0" fill="rgb(0,0,0)" filter="url(#b15)"/>
<rect x="69.9" y="870.5" width="17.0" height="5.0" rx="2.5" fill="rgb(120,120,120)" filter="url(#b16)"/>
<rect x="92.1" y="870.5" width="19.0" height="5.0" rx="2.5" fill="rgb(147,147,147)" filter="url(#b16)"/>
<rect x="116.0" y="862.0" width="20.0" height="9.0" rx="4.5" fill="rgb(2,2,2)" filter="url(#b17)"/>
<rect x="139.5" y="862.0" width="20.0" height="9.0" rx="4.5" fill="rgb(19,19,19)" filter="url(#b17)"/>
<rect x="163.0" y="862.0" width="20.0" height="9.0" rx="4.5" fill="rgb(29,29,29)" filter="url(#b17)"/>
<rect x="186.5" y="862.0" width="20.0" height="9.0" rx="4.5" fill="rgb(29,29,29)" filter="url(#b17)"/>
<rect x="116.5" y="871.0" width="19.0" height="4.0" rx="2.0" fill="rgb(147,147,147)" filter="url(#b15)"/>
<rect x="140.0" y="871.0" width="19.0" height="4.0" rx="2.0" fill="rgb(147,147,147)" filter="url(#b15)"/>
<rect x="163.5" y="871.0" width="19.0" height="4.0" rx="2.0" fill="rgb(147,147,147)" filter="url(#b15)"/>
<rect x="187.0" y="871.0" width="19.0" height="4.0" rx="2.0" fill="rgb(147,147,147)" filter="url(#b15)"/>
<rect x="63.80" y="892.10" width="147.10" height="42.00" fill="#f1f1f1"/>
<rect x="69.9" y="906.5" width="17.0" height="3.4" rx="1.7" fill="rgb(83,83,83)" filter="url(#b10)"/>
<rect x="69.4" y="914.3" width="18.0" height="4.0" rx="2.0" fill="rgb(7,7,7)" filter="url(#b10)"/>
<rect x="93.1" y="906.5" width="17.0" height="3.4" rx="1.7" fill="rgb(83,83,83)" filter="url(#b10)"/>
<rect x="92.6" y="914.3" width="18.0" height="4.0" rx="2.0" fill="rgb(1,1,1)" filter="url(#b10)"/>
<rect x="117.5" y="906.5" width="17.0" height="3.4" rx="1.7" fill="rgb(181,181,181)" filter="url(#b10)"/>
<rect x="117.0" y="914.3" width="18.0" height="4.0" rx="2.0" fill="rgb(134,134,134)" filter="url(#b10)"/>
<rect x="141.0" y="906.5" width="17.0" height="3.4" rx="1.7" fill="rgb(199,199,199)" filter="url(#b10)"/>
<rect x="140.5" y="914.3" width="18.0" height="4.0" rx="2.0" fill="rgb(161,161,161)" filter="url(#b10)"/>
<rect x="164.5" y="906.5" width="17.0" height="3.4" rx="1.7" fill="rgb(190,190,190)" filter="url(#b10)"/>
<rect x="164.0" y="914.3" width="18.0" height="4.0" rx="2.0" fill="rgb(134,134,134)" filter="url(#b10)"/>
<rect x="188.0" y="906.5" width="17.0" height="3.4" rx="1.7" fill="rgb(175,175,175)" filter="url(#b10)"/>
<rect x="187.5" y="914.3" width="18.0" height="4.0" rx="2.0" fill="rgb(108,108,108)" filter="url(#b10)"/>
<text x="61.1" y="862.3" font-size="13.2" text-anchor="end" fill="#000" stroke="#000" stroke-width="0.15">p-4E-BP1</text>
<text x="61.1" y="877.1" font-size="13.2" text-anchor="end" fill="#000" stroke="#000" stroke-width="0.15">(T3745)</text>
<text x="61.1" y="911.7" font-size="13.2" text-anchor="end" fill="#000" stroke="#000" stroke-width="0.15">p-p70 S6K</text>
<text x="61.1" y="927.5" font-size="13.2" text-anchor="end" fill="#000" stroke="#000" stroke-width="0.15">(T389)</text>
<line x1="215.3" y1="852.5" x2="221.9" y2="852.5" stroke="#000" stroke-width="1.2"/>
<text x="224.2" y="855.3" font-size="8" fill="#000">24</text>
<line x1="215.3" y1="875.1" x2="221.9" y2="875.1" stroke="#000" stroke-width="1.2"/>
<text x="224.2" y="877.9" font-size="8" fill="#000">17</text>
<line x1="215.3" y1="906.2" x2="221.9" y2="906.2" stroke="#000" stroke-width="1.2"/>
<text x="224.2" y="909.0" font-size="8" fill="#000">76</text>
<line x1="215.3" y1="930.6" x2="221.9" y2="930.6" stroke="#000" stroke-width="1.2"/>
<text x="224.2" y="933.4" font-size="8" fill="#000">52</text>
<text x="320.9" y="782.0" font-size="11" font-weight="bold" textLength="94.6" lengthAdjust="spacingAndGlyphs" fill="#000">HK-2/<tspan font-style="italic">SFPQ-TFE3</tspan></text>
<line x1="294.6" y1="788.0" x2="434.8" y2="788.0" stroke="#000" stroke-width="1.8"/>
<rect x="301.60" y="798.80" width="9.80" height="3.00" fill="#000"/>
<text x="347.9" y="800.1" font-size="11.5" textLength="62.3" lengthAdjust="spacingAndGlyphs" fill="#000" stroke="#000" stroke-width="0.13">Doxycycline</text>
<line x1="320.9" y1="804.5" x2="434.8" y2="804.5" stroke="#000" stroke-width="1.2"/>
<text x="232.2" y="820.1" font-size="11.5" textLength="59.6" lengthAdjust="spacingAndGlyphs" fill="#000" stroke="#000" stroke-width="0.13">BafA1(nM):</text>
<line x1="299.9" y1="816.4" x2="309.3" y2="816.4" stroke="#000" stroke-width="1.6"/>
<line x1="324.4" y1="816.4" x2="333.8" y2="816.4" stroke="#000" stroke-width="1.6"/>
<text x="351.4" y="820.7" font-size="9" text-anchor="middle" fill="#000" stroke="#000" stroke-width="0.10">10</text>
<text x="375.2" y="820.7" font-size="9" text-anchor="middle" fill="#000" stroke="#000" stroke-width="0.10">100</text>
<text x="401.5" y="820.7" font-size="9" text-anchor="middle" fill="#000" stroke="#000" stroke-width="0.10">500</text>
<text x="426.0" y="820.7" font-size="9" text-anchor="middle" fill="#000" stroke="#000" stroke-width="0.10">1000</text>
<text x="258.9" y="835.8" font-size="11.5" textLength="32.9" lengthAdjust="spacingAndGlyphs" fill="#000" stroke="#000" stroke-width="0.13">dmso:</text>
<line x1="300.4" y1="831.8" x2="308.4" y2="831.8" stroke="#000" stroke-width="1.8"/>
<line x1="304.4" y1="827.8" x2="304.4" y2="835.8" stroke="#000" stroke-width="1.8"/>
<line x1="324.9" y1="831.8" x2="332.9" y2="831.8" stroke="#000" stroke-width="1.8"/>
<line x1="328.9" y1="827.8" x2="328.9" y2="835.8" stroke="#000" stroke-width="1.8"/>
<line x1="346.9" y1="834.3" x2="355.9" y2="834.3" stroke="#000" stroke-width="1.8"/>
<line x1="370.7" y1="834.3" x2="379.7" y2="834.3" stroke="#000" stroke-width="1.8"/>
<line x1="397.0" y1="834.3" x2="406.0" y2="834.3" stroke="#000" stroke-width="1.8"/>
<line x1="421.5" y1="834.3" x2="430.5" y2="834.3" stroke="#000" stroke-width="1.8"/>
<rect x="294.20" y="839.40" width="144.90" height="43.80" fill="#f0f0f0"/>
<rect x="295.5" y="857.8" width="19.0" height="7.0" rx="3.5" fill="rgb(0,0,0)" filter="url(#b11)"/>
<rect x="319.5" y="856.8" width="19.0" height="9.0" rx="4.5" fill="rgb(0,0,0)" filter="url(#b11)"/>
<rect x="343.5" y="859.6" width="19.0" height="3.4" rx="1.7" fill="rgb(115,115,115)" filter="url(#b11)"/>
<rect x="367.5" y="859.7" width="19.0" height="3.2" rx="1.6" fill="rgb(139,139,139)" filter="url(#b11)"/>
<rect x="391.5" y="859.5" width="19.0" height="3.6" rx="1.8" fill="rgb(95,95,95)" filter="url(#b11)"/>
<rect x="415.5" y="859.2" width="19.0" height="4.2" rx="2.1" fill="rgb(57,57,57)" filter="url(#b11)"/>
<rect x="294.20" y="886.10" width="144.90" height="45.60" fill="#e4e4e4"/>
<rect x="298.0" y="902.5" width="14.0" height="3.0" rx="1.5" fill="rgb(161,161,161)" filter="url(#b12)"/>
<rect x="318.5" y="899.3" width="21.0" height="8.0" rx="4.0" fill="rgb(0,0,0)" filter="url(#b11)"/>
<rect x="342.5" y="899.3" width="21.0" height="8.0" rx="4.0" fill="rgb(0,0,0)" filter="url(#b11)"/>
<rect x="366.5" y="899.3" width="21.0" height="8.0" rx="4.0" fill="rgb(0,0,0)" filter="url(#b11)"/>
<rect x="390.5" y="899.3" width="21.0" height="8.0" rx="4.0" fill="rgb(0,0,0)" filter="url(#b11)"/>
<rect x="414.5" y="899.3" width="21.0" height="8.0" rx="4.0" fill="rgb(0,0,0)" filter="url(#b11)"/>
<rect x="319.5" y="911.3" width="19.0" height="5.0" rx="2.5" fill="rgb(60,60,60)" filter="url(#b11)"/>
<rect x="343.5" y="911.3" width="19.0" height="5.0" rx="2.5" fill="rgb(2,2,2)" filter="url(#b11)"/>
<rect x="367.5" y="911.3" width="19.0" height="5.0" rx="2.5" fill="rgb(11,11,11)" filter="url(#b11)"/>
<rect x="391.5" y="911.3" width="19.0" height="5.0" rx="2.5" fill="rgb(14,14,14)" filter="url(#b11)"/>
<rect x="415.5" y="911.3" width="19.0" height="5.0" rx="2.5" fill="rgb(29,29,29)" filter="url(#b11)"/>
<rect x="294.20" y="934.30" width="144.90" height="24.80" fill="#dcdcdc"/>
<rect x="295.5" y="944.1" width="19.0" height="6.5" rx="3.2" fill="rgb(0,0,0)" filter="url(#b9)"/>
<rect x="319.5" y="944.4" width="19.0" height="6.0" rx="3.0" fill="rgb(0,0,0)" filter="url(#b9)"/>
<rect x="343.5" y="944.9" width="19.0" height="5.0" rx="2.5" fill="rgb(7,7,7)" filter="url(#b9)"/>
<rect x="367.5" y="944.4" width="19.0" height="6.0" rx="3.0" fill="rgb(0,0,0)" filter="url(#b9)"/>
<rect x="391.5" y="944.4" width="19.0" height="6.0" rx="3.0" fill="rgb(0,0,0)" filter="url(#b9)"/>
<rect x="415.5" y="944.4" width="19.0" height="6.0" rx="3.0" fill="rgb(0,0,0)" filter="url(#b9)"/>
<text x="290.5" y="853.4" font-size="13.2" text-anchor="end" fill="#000" stroke="#000" stroke-width="0.15">p-S6</text>
<text x="290.5" y="868.0" font-size="13.2" text-anchor="end" fill="#000" stroke="#000" stroke-width="0.15">(S6235</text>
<text x="290.5" y="882.6" font-size="13.2" text-anchor="end" fill="#000" stroke="#000" stroke-width="0.15">/236)</text>
<text x="290.5" y="908.8" font-size="13.2" text-anchor="end" fill="#000" stroke="#000" stroke-width="0.15">LC3 A,B</text>
<text x="290.5" y="952.6" font-size="13.2" text-anchor="end" fill="#000" stroke="#000" stroke-width="0.15">GAPDH</text>
<line x1="442.9" y1="847.9" x2="449.5" y2="847.9" stroke="#000" stroke-width="1.2"/>
<text x="451.8" y="850.7" font-size="8" fill="#000">38</text>
<line x1="442.9" y1="873.0" x2="449.5" y2="873.0" stroke="#000" stroke-width="1.2"/>
<text x="451.8" y="875.8" font-size="8" fill="#000">31</text>
<line x1="442.9" y1="905.9" x2="449.5" y2="905.9" stroke="#000" stroke-width="1.2"/>
<text x="451.8" y="908.7" font-size="8" fill="#000">17</text>
<line x1="442.9" y1="950.9" x2="449.5" y2="950.9" stroke="#000" stroke-width="1.2"/>
<text x="451.8" y="953.7" font-size="8" fill="#000">38</text>
<text x="540.9" y="753.8" font-size="11" font-weight="bold" textLength="95.8" lengthAdjust="spacingAndGlyphs" fill="#000">HK-2/<tspan font-style="italic">SFPQ-TFE3</tspan></text>
<line x1="514.4" y1="759.3" x2="655.3" y2="759.3" stroke="#000" stroke-width="1.8"/>
<rect x="521.50" y="769.30" width="10.80" height="3.00" fill="#000"/>
<text x="568.8" y="771.9" font-size="11.5" textLength="60.8" lengthAdjust="spacingAndGlyphs" fill="#000" stroke="#000" stroke-width="0.13">Doxycycline</text>
<line x1="541.9" y1="775.0" x2="655.3" y2="775.0" stroke="#000" stroke-width="1.2"/>
<text x="451.9" y="790.2" font-size="11.5" textLength="58.2" lengthAdjust="spacingAndGlyphs" fill="#000" stroke="#000" stroke-width="0.13">BafA1(nM):</text>
<line x1="520.5" y1="786.5" x2="529.4" y2="786.5" stroke="#000" stroke-width="1.6"/>
<line x1="544.4" y1="786.5" x2="553.7" y2="786.5" stroke="#000" stroke-width="1.6"/>
<text x="572.3" y="790.8" font-size="9" text-anchor="middle" fill="#000" stroke="#000" stroke-width="0.10">10</text>
<text x="596.7" y="790.8" font-size="9" text-anchor="middle" fill="#000" stroke="#000" stroke-width="0.10">100</text>
<text x="620.6" y="790.8" font-size="9" text-anchor="middle" fill="#000" stroke="#000" stroke-width="0.10">500</text>
<text x="645.7" y="790.8" font-size="9" text-anchor="middle" fill="#000" stroke="#000" stroke-width="0.10">1000</text>
<text x="479.3" y="806.0" font-size="11.5" textLength="30.8" lengthAdjust="spacingAndGlyphs" fill="#000" stroke="#000" stroke-width="0.13">dmso:</text>
<line x1="521.1" y1="802.0" x2="529.1" y2="802.0" stroke="#000" stroke-width="1.8"/>
<line x1="525.1" y1="798.0" x2="525.1" y2="806.0" stroke="#000" stroke-width="1.8"/>
<line x1="545.1" y1="802.0" x2="553.1" y2="802.0" stroke="#000" stroke-width="1.8"/>
<line x1="549.1" y1="798.0" x2="549.1" y2="806.0" stroke="#000" stroke-width="1.8"/>
<line x1="567.8" y1="804.5" x2="576.8" y2="804.5" stroke="#000" stroke-width="1.8"/>
<line x1="592.2" y1="804.5" x2="601.2" y2="804.5" stroke="#000" stroke-width="1.8"/>
<line x1="616.1" y1="804.5" x2="625.1" y2="804.5" stroke="#000" stroke-width="1.8"/>
<line x1="641.2" y1="804.5" x2="650.2" y2="804.5" stroke="#000" stroke-width="1.8"/>
<rect x="513.30" y="811.40" width="145.60" height="35.80" fill="#efefef"/>
<rect x="516.8" y="821.8" width="18.0" height="14.0" rx="7.0" fill="rgb(2,2,2)" filter="url(#b22)"/>
<rect x="539.1" y="826.3" width="20.0" height="11.0" rx="5.5" fill="rgb(19,19,19)" filter="url(#b22)"/>
<rect x="561.6" y="827.3" width="20.0" height="10.0" rx="5.0" fill="rgb(14,14,14)" filter="url(#b22)"/>
<rect x="583.8" y="826.8" width="20.0" height="10.0" rx="5.0" fill="rgb(16,16,16)" filter="url(#b22)"/>
<rect x="606.0" y="825.3" width="20.0" height="11.0" rx="5.5" fill="rgb(11,11,11)" filter="url(#b22)"/>
<rect x="629.3" y="823.8" width="22.0" height="14.0" rx="7.0" fill="rgb(0,0,0)" filter="url(#b22)"/>
<rect x="513.30" y="849.70" width="145.60" height="42.90" fill="#f2f2f2"/>
<rect x="517.3" y="864.8" width="17.0" height="3.5" rx="1.8" fill="rgb(38,38,38)" filter="url(#b11)"/>
<rect x="540.6" y="864.8" width="17.0" height="3.5" rx="1.8" fill="rgb(108,108,108)" filter="url(#b11)"/>
<rect x="563.1" y="864.8" width="17.0" height="3.5" rx="1.8" fill="rgb(147,147,147)" filter="url(#b11)"/>
<rect x="585.3" y="864.8" width="17.0" height="3.5" rx="1.8" fill="rgb(153,153,153)" filter="url(#b11)"/>
<rect x="607.5" y="864.8" width="17.0" height="3.5" rx="1.8" fill="rgb(134,134,134)" filter="url(#b11)"/>
<rect x="631.8" y="864.8" width="17.0" height="3.5" rx="1.8" fill="rgb(120,120,120)" filter="url(#b11)"/>
<rect x="515.8" y="871.0" width="20.0" height="10.0" rx="5.0" fill="rgb(0,0,0)" filter="url(#b11)"/>
<rect x="539.1" y="872.0" width="20.0" height="8.0" rx="4.0" fill="rgb(0,0,0)" filter="url(#b11)"/>
<rect x="561.6" y="872.5" width="20.0" height="7.0" rx="3.5" fill="rgb(0,0,0)" filter="url(#b11)"/>
<rect x="583.8" y="872.8" width="20.0" height="6.5" rx="3.2" fill="rgb(0,0,0)" filter="url(#b11)"/>
<rect x="606.0" y="872.5" width="20.0" height="7.0" rx="3.5" fill="rgb(0,0,0)" filter="url(#b11)"/>
<rect x="630.3" y="872.0" width="20.0" height="8.0" rx="4.0" fill="rgb(0,0,0)" filter="url(#b11)"/>
<rect x="513.30" y="896.20" width="145.60" height="33.30" fill="#e0e0e0"/>
<rect x="515.8" y="914.7" width="20.0" height="8.0" rx="4.0" fill="rgb(0,0,0)" filter="url(#b11)"/>
<rect x="539.1" y="915.2" width="20.0" height="7.0" rx="3.5" fill="rgb(0,0,0)" filter="url(#b11)"/>
<rect x="561.6" y="915.5" width="20.0" height="6.5" rx="3.2" fill="rgb(0,0,0)" filter="url(#b11)"/>
<rect x="583.8" y="916.2" width="20.0" height="5.0" rx="2.5" fill="rgb(2,2,2)" filter="url(#b11)"/>
<rect x="606.0" y="914.7" width="20.0" height="8.0" rx="4.0" fill="rgb(0,0,0)" filter="url(#b11)"/>
<rect x="630.3" y="914.0" width="20.0" height="9.5" rx="4.8" fill="rgb(0,0,0)" filter="url(#b11)"/>
<rect x="513.30" y="932.00" width="145.60" height="30.40" fill="#dedede"/>
<rect x="515.8" y="942.0" width="20.0" height="8.5" rx="4.2" fill="rgb(0,0,0)" filter="url(#b10)"/>
<rect x="539.1" y="942.0" width="20.0" height="8.5" rx="4.2" fill="rgb(0,0,0)" filter="url(#b10)"/>
<rect x="561.6" y="942.0" width="20.0" height="8.5" rx="4.2" fill="rgb(0,0,0)" filter="url(#b10)"/>
<rect x="583.8" y="942.0" width="20.0" height="8.5" rx="4.2" fill="rgb(0,0,0)" filter="url(#b10)"/>
<rect x="606.0" y="942.0" width="20.0" height="8.5" rx="4.2" fill="rgb(0,0,0)" filter="url(#b10)"/>
<rect x="630.3" y="942.0" width="20.0" height="8.5" rx="4.2" fill="rgb(0,0,0)" filter="url(#b10)"/>
<text x="509.7" y="831.6" font-size="12.7" text-anchor="end" fill="#000" stroke="#000" stroke-width="0.14">t-4E-BP1</text>
<text x="508.0" y="868.4" font-size="12.7" text-anchor="end" fill="#000" stroke="#000" stroke-width="0.14">t-p70</text>
<text x="508.0" y="884.5" font-size="12.7" text-anchor="end" fill="#000" stroke="#000" stroke-width="0.14">S6K</text>
<text x="508.0" y="923.1" font-size="12.7" text-anchor="end" fill="#000" stroke="#000" stroke-width="0.14">t-S6</text>
<text x="508.0" y="951.6" font-size="12.6" text-anchor="end" fill="#000" stroke="#000" stroke-width="0.14">GAPDH</text>
<line x1="661.7" y1="828.2" x2="668.7" y2="828.2" stroke="#000" stroke-width="1.2"/>
<text x="671.2" y="831.0" font-size="8" fill="#000">24</text>
<line x1="661.7" y1="841.5" x2="668.7" y2="841.5" stroke="#000" stroke-width="1.2"/>
<text x="671.2" y="844.3" font-size="8" fill="#000">17</text>
<line x1="661.7" y1="860.4" x2="668.7" y2="860.4" stroke="#000" stroke-width="1.2"/>
<text x="671.2" y="863.2" font-size="8" fill="#000">76</text>
<line x1="661.7" y1="881.9" x2="668.7" y2="881.9" stroke="#000" stroke-width="1.2"/>
<text x="671.2" y="884.7" font-size="8" fill="#000">52</text>
<line x1="661.7" y1="900.9" x2="668.7" y2="900.9" stroke="#000" stroke-width="1.2"/>
<text x="671.2" y="903.7" font-size="8" fill="#000">38</text>
<line x1="661.7" y1="924.8" x2="668.7" y2="924.8" stroke="#000" stroke-width="1.2"/>
<text x="671.2" y="927.6" font-size="8" fill="#000">31</text>
<line x1="661.7" y1="950.9" x2="668.7" y2="950.9" stroke="#000" stroke-width="1.2"/>
<text x="671.2" y="953.7" font-size="8" fill="#000">38</text>
</svg></body></html>
